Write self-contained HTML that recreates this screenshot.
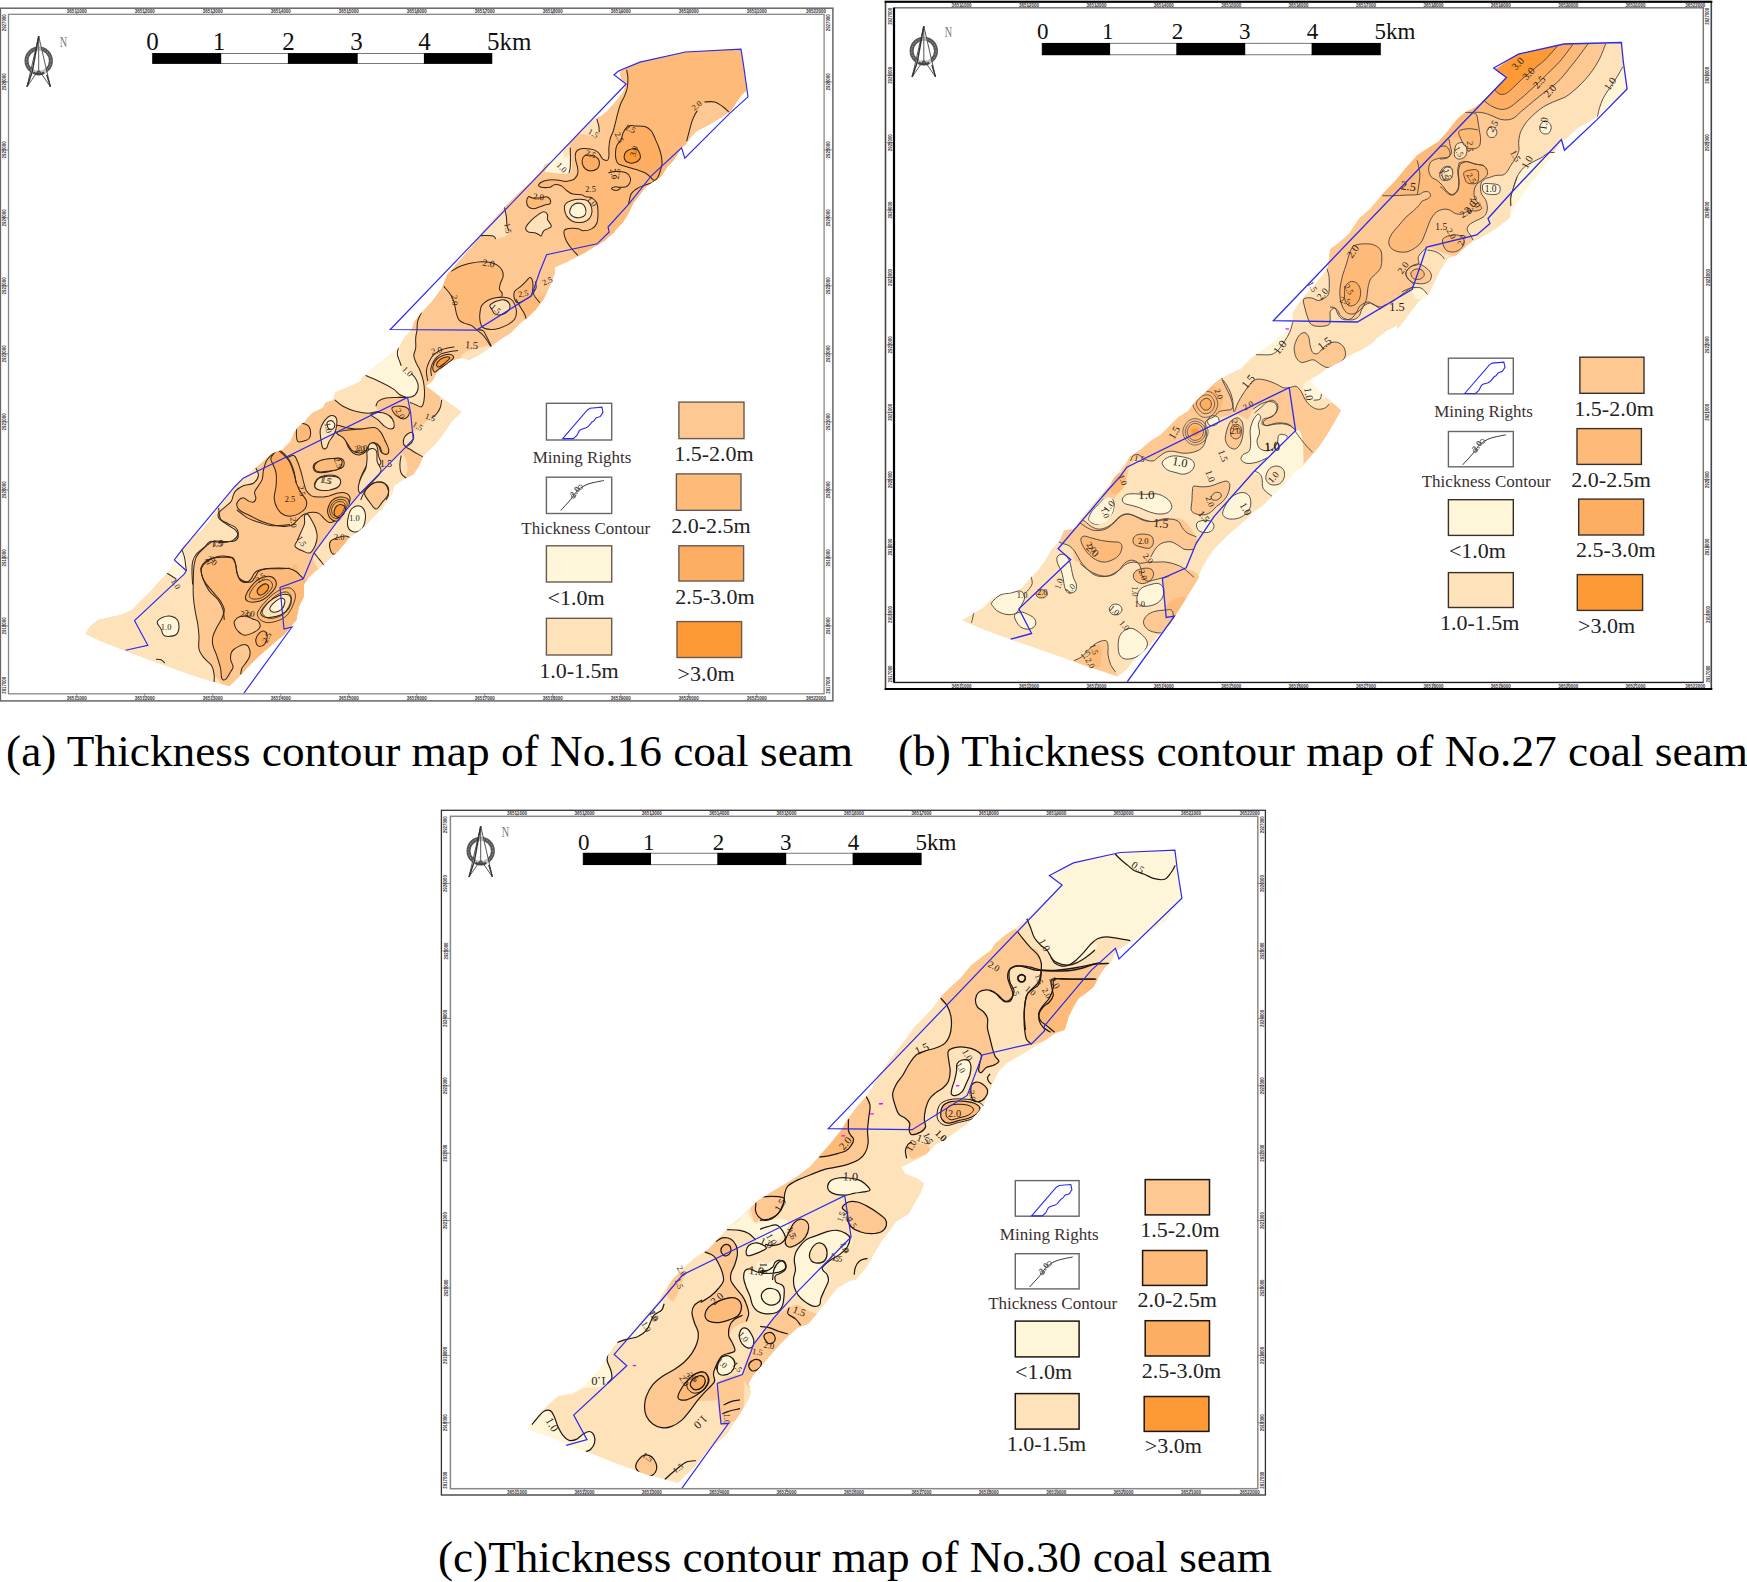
<!DOCTYPE html>
<html><head><meta charset="utf-8"><title>Thickness contour maps</title>
<style>
html,body{margin:0;padding:0;background:#fff;}
body{width:1747px;height:1582px;overflow:hidden;}
svg{display:block;font-family:"Liberation Serif",serif;}
.tk{fill:#3a3340;font-weight:bold;font-family:"Liberation Sans",sans-serif;}
</style></head><body>
<svg width="1747" height="1582" viewBox="0 0 1747 1582">
<rect width="1747" height="1582" fill="#fff"/>
<defs>
<clipPath id="ca"><rect x="9.2" y="15" width="814.1999999999999" height="678.1"/></clipPath>
<clipPath id="cb"><rect x="895.2" y="8.6" width="807.3" height="673.1999999999999"/></clipPath>
<clipPath id="cc"><rect x="451.2" y="817.1" width="805.8" height="670.9"/></clipPath>
</defs>
<rect x="0.4" y="8.2" width="832.5" height="692.7" fill="#fff" stroke="#666" stroke-width="1.5"/>
<rect x="8.5" y="14.3" width="815.6" height="679.5" fill="#fff" stroke="#888" stroke-width="1.3"/>
<path d="M76.8 11.2 V14.3 M76.8 693.8 V697.9" stroke="#777" stroke-width="0.8"/>
<text x="76.8" y="13.1" font-size="5.2" text-anchor="middle" class="tk" textLength="20" lengthAdjust="spacingAndGlyphs">36511000</text>
<text x="76.8" y="699.6" font-size="5.2" text-anchor="middle" class="tk" textLength="20" lengthAdjust="spacingAndGlyphs">36511000</text>
<path d="M144.8 11.2 V14.3 M144.8 693.8 V697.9" stroke="#777" stroke-width="0.8"/>
<text x="144.8" y="13.1" font-size="5.2" text-anchor="middle" class="tk" textLength="20" lengthAdjust="spacingAndGlyphs">36512000</text>
<text x="144.8" y="699.6" font-size="5.2" text-anchor="middle" class="tk" textLength="20" lengthAdjust="spacingAndGlyphs">36512000</text>
<path d="M212.8 11.2 V14.3 M212.8 693.8 V697.9" stroke="#777" stroke-width="0.8"/>
<text x="212.8" y="13.1" font-size="5.2" text-anchor="middle" class="tk" textLength="20" lengthAdjust="spacingAndGlyphs">36513000</text>
<text x="212.8" y="699.6" font-size="5.2" text-anchor="middle" class="tk" textLength="20" lengthAdjust="spacingAndGlyphs">36513000</text>
<path d="M280.8 11.2 V14.3 M280.8 693.8 V697.9" stroke="#777" stroke-width="0.8"/>
<text x="280.8" y="13.1" font-size="5.2" text-anchor="middle" class="tk" textLength="20" lengthAdjust="spacingAndGlyphs">36514000</text>
<text x="280.8" y="699.6" font-size="5.2" text-anchor="middle" class="tk" textLength="20" lengthAdjust="spacingAndGlyphs">36514000</text>
<path d="M348.8 11.2 V14.3 M348.8 693.8 V697.9" stroke="#777" stroke-width="0.8"/>
<text x="348.8" y="13.1" font-size="5.2" text-anchor="middle" class="tk" textLength="20" lengthAdjust="spacingAndGlyphs">36515000</text>
<text x="348.8" y="699.6" font-size="5.2" text-anchor="middle" class="tk" textLength="20" lengthAdjust="spacingAndGlyphs">36515000</text>
<path d="M416.8 11.2 V14.3 M416.8 693.8 V697.9" stroke="#777" stroke-width="0.8"/>
<text x="416.8" y="13.1" font-size="5.2" text-anchor="middle" class="tk" textLength="20" lengthAdjust="spacingAndGlyphs">36516000</text>
<text x="416.8" y="699.6" font-size="5.2" text-anchor="middle" class="tk" textLength="20" lengthAdjust="spacingAndGlyphs">36516000</text>
<path d="M484.8 11.2 V14.3 M484.8 693.8 V697.9" stroke="#777" stroke-width="0.8"/>
<text x="484.8" y="13.1" font-size="5.2" text-anchor="middle" class="tk" textLength="20" lengthAdjust="spacingAndGlyphs">36517000</text>
<text x="484.8" y="699.6" font-size="5.2" text-anchor="middle" class="tk" textLength="20" lengthAdjust="spacingAndGlyphs">36517000</text>
<path d="M552.8 11.2 V14.3 M552.8 693.8 V697.9" stroke="#777" stroke-width="0.8"/>
<text x="552.8" y="13.1" font-size="5.2" text-anchor="middle" class="tk" textLength="20" lengthAdjust="spacingAndGlyphs">36518000</text>
<text x="552.8" y="699.6" font-size="5.2" text-anchor="middle" class="tk" textLength="20" lengthAdjust="spacingAndGlyphs">36518000</text>
<path d="M620.8 11.2 V14.3 M620.8 693.8 V697.9" stroke="#777" stroke-width="0.8"/>
<text x="620.8" y="13.1" font-size="5.2" text-anchor="middle" class="tk" textLength="20" lengthAdjust="spacingAndGlyphs">36519000</text>
<text x="620.8" y="699.6" font-size="5.2" text-anchor="middle" class="tk" textLength="20" lengthAdjust="spacingAndGlyphs">36519000</text>
<path d="M688.8 11.2 V14.3 M688.8 693.8 V697.9" stroke="#777" stroke-width="0.8"/>
<text x="688.8" y="13.1" font-size="5.2" text-anchor="middle" class="tk" textLength="20" lengthAdjust="spacingAndGlyphs">36520000</text>
<text x="688.8" y="699.6" font-size="5.2" text-anchor="middle" class="tk" textLength="20" lengthAdjust="spacingAndGlyphs">36520000</text>
<path d="M756.8 11.2 V14.3 M756.8 693.8 V697.9" stroke="#777" stroke-width="0.8"/>
<text x="756.8" y="13.1" font-size="5.2" text-anchor="middle" class="tk" textLength="20" lengthAdjust="spacingAndGlyphs">36521000</text>
<text x="756.8" y="699.6" font-size="5.2" text-anchor="middle" class="tk" textLength="20" lengthAdjust="spacingAndGlyphs">36521000</text>
<text x="816.1" y="13.1" font-size="5.2" text-anchor="middle" class="tk" textLength="20" lengthAdjust="spacingAndGlyphs">36522000</text>
<text x="816.1" y="699.6" font-size="5.2" text-anchor="middle" class="tk" textLength="20" lengthAdjust="spacingAndGlyphs">36522000</text>
<text x="6.5" y="22.8" font-size="5.2" text-anchor="middle" class="tk" textLength="17" lengthAdjust="spacingAndGlyphs" transform="rotate(-90 6.5 22.8)">2927000</text>
<text x="830.3" y="22.8" font-size="5.2" text-anchor="middle" class="tk" textLength="17" lengthAdjust="spacingAndGlyphs" transform="rotate(-90 830.3 22.8)">2927000</text>
<path d="M1.4 81.9 H8.5 M824.1 81.9 H831.9" stroke="#777" stroke-width="0.8"/>
<text x="6.5" y="81.9" font-size="5.2" text-anchor="middle" class="tk" textLength="17" lengthAdjust="spacingAndGlyphs" transform="rotate(-90 6.5 81.9)">2926000</text>
<text x="830.3" y="81.9" font-size="5.2" text-anchor="middle" class="tk" textLength="17" lengthAdjust="spacingAndGlyphs" transform="rotate(-90 830.3 81.9)">2926000</text>
<path d="M1.4 149.9 H8.5 M824.1 149.9 H831.9" stroke="#777" stroke-width="0.8"/>
<text x="6.5" y="149.9" font-size="5.2" text-anchor="middle" class="tk" textLength="17" lengthAdjust="spacingAndGlyphs" transform="rotate(-90 6.5 149.9)">2925000</text>
<text x="830.3" y="149.9" font-size="5.2" text-anchor="middle" class="tk" textLength="17" lengthAdjust="spacingAndGlyphs" transform="rotate(-90 830.3 149.9)">2925000</text>
<path d="M1.4 217.9 H8.5 M824.1 217.9 H831.9" stroke="#777" stroke-width="0.8"/>
<text x="6.5" y="217.9" font-size="5.2" text-anchor="middle" class="tk" textLength="17" lengthAdjust="spacingAndGlyphs" transform="rotate(-90 6.5 217.9)">2924000</text>
<text x="830.3" y="217.9" font-size="5.2" text-anchor="middle" class="tk" textLength="17" lengthAdjust="spacingAndGlyphs" transform="rotate(-90 830.3 217.9)">2924000</text>
<path d="M1.4 285.9 H8.5 M824.1 285.9 H831.9" stroke="#777" stroke-width="0.8"/>
<text x="6.5" y="285.9" font-size="5.2" text-anchor="middle" class="tk" textLength="17" lengthAdjust="spacingAndGlyphs" transform="rotate(-90 6.5 285.9)">2923000</text>
<text x="830.3" y="285.9" font-size="5.2" text-anchor="middle" class="tk" textLength="17" lengthAdjust="spacingAndGlyphs" transform="rotate(-90 830.3 285.9)">2923000</text>
<path d="M1.4 353.9 H8.5 M824.1 353.9 H831.9" stroke="#777" stroke-width="0.8"/>
<text x="6.5" y="353.9" font-size="5.2" text-anchor="middle" class="tk" textLength="17" lengthAdjust="spacingAndGlyphs" transform="rotate(-90 6.5 353.9)">2922000</text>
<text x="830.3" y="353.9" font-size="5.2" text-anchor="middle" class="tk" textLength="17" lengthAdjust="spacingAndGlyphs" transform="rotate(-90 830.3 353.9)">2922000</text>
<path d="M1.4 421.9 H8.5 M824.1 421.9 H831.9" stroke="#777" stroke-width="0.8"/>
<text x="6.5" y="421.9" font-size="5.2" text-anchor="middle" class="tk" textLength="17" lengthAdjust="spacingAndGlyphs" transform="rotate(-90 6.5 421.9)">2921000</text>
<text x="830.3" y="421.9" font-size="5.2" text-anchor="middle" class="tk" textLength="17" lengthAdjust="spacingAndGlyphs" transform="rotate(-90 830.3 421.9)">2921000</text>
<path d="M1.4 489.9 H8.5 M824.1 489.9 H831.9" stroke="#777" stroke-width="0.8"/>
<text x="6.5" y="489.9" font-size="5.2" text-anchor="middle" class="tk" textLength="17" lengthAdjust="spacingAndGlyphs" transform="rotate(-90 6.5 489.9)">2920000</text>
<text x="830.3" y="489.9" font-size="5.2" text-anchor="middle" class="tk" textLength="17" lengthAdjust="spacingAndGlyphs" transform="rotate(-90 830.3 489.9)">2920000</text>
<path d="M1.4 557.9 H8.5 M824.1 557.9 H831.9" stroke="#777" stroke-width="0.8"/>
<text x="6.5" y="557.9" font-size="5.2" text-anchor="middle" class="tk" textLength="17" lengthAdjust="spacingAndGlyphs" transform="rotate(-90 6.5 557.9)">2919000</text>
<text x="830.3" y="557.9" font-size="5.2" text-anchor="middle" class="tk" textLength="17" lengthAdjust="spacingAndGlyphs" transform="rotate(-90 830.3 557.9)">2919000</text>
<path d="M1.4 625.9 H8.5 M824.1 625.9 H831.9" stroke="#777" stroke-width="0.8"/>
<text x="6.5" y="625.9" font-size="5.2" text-anchor="middle" class="tk" textLength="17" lengthAdjust="spacingAndGlyphs" transform="rotate(-90 6.5 625.9)">2918000</text>
<text x="830.3" y="625.9" font-size="5.2" text-anchor="middle" class="tk" textLength="17" lengthAdjust="spacingAndGlyphs" transform="rotate(-90 830.3 625.9)">2918000</text>
<text x="6.5" y="685.3" font-size="5.2" text-anchor="middle" class="tk" textLength="17" lengthAdjust="spacingAndGlyphs" transform="rotate(-90 6.5 685.3)">2917000</text>
<text x="830.3" y="685.3" font-size="5.2" text-anchor="middle" class="tk" textLength="17" lengthAdjust="spacingAndGlyphs" transform="rotate(-90 830.3 685.3)">2917000</text>
<g fill="none" stroke="#333">
<circle cx="38.7" cy="60.8" r="12.2" stroke-width="4" stroke="#555"/>
<circle cx="38.7" cy="60.8" r="12.2" stroke-width="1.2" stroke="#888" stroke-dasharray="1.5 1.5"/>
<path d="M38.7 36.1 L50.4 86.8 L38.7 69.8 L27 86.8 Z" stroke-width="0.9" stroke="#444" fill="#fff" fill-opacity="0.6"/>
<path d="M38.7 36.1 V69.8" stroke-width="1" stroke="#555"/>
<path d="M27 86.8 L32.2 71.8 L38.7 36.1" stroke-width="1.5" stroke="#333"/>
<path d="M50.4 86.8 L46.7 74.8" stroke-width="1.3" stroke="#333"/>
<path d="M33.2 72.8 Q38.7 75.8 44.2 72.8" stroke-width="2.4" stroke="#444"/>
</g>
<text x="59.7" y="46.8" font-size="15" fill="#777" textLength="7.4" lengthAdjust="spacingAndGlyphs">N</text>
<rect x="152.4" y="53.4" width="339.6" height="10.1" fill="#fff" stroke="#555" stroke-width="0.8"/>
<rect x="152.4" y="53.1" width="68.8" height="10.7" fill="#000"/>
<rect x="287.9" y="53.1" width="69.8" height="10.7" fill="#000"/>
<rect x="423.9" y="53.1" width="68.1" height="10.7" fill="#000"/>
<text x="152.5" y="49.5" font-size="25" text-anchor="middle" fill="#111">0</text>
<text x="219" y="49.5" font-size="25" text-anchor="middle" fill="#111">1</text>
<text x="288.5" y="49.5" font-size="25" text-anchor="middle" fill="#111">2</text>
<text x="356.5" y="49.5" font-size="25" text-anchor="middle" fill="#111">3</text>
<text x="424.5" y="49.5" font-size="25" text-anchor="middle" fill="#111">4</text>
<text x="487" y="49.5" font-size="25" fill="#111">5km</text>
<rect x="885.5" y="1.7" width="825.8" height="687.2" fill="#fff" stroke="#444" stroke-width="1.6"/>
<rect x="894" y="7.8" width="809.3" height="674.7" fill="#fff" stroke="#777" stroke-width="1.5"/>
<path d="M961.6 4.7 V7.8 M961.6 682.5 V685.9" stroke="#777" stroke-width="0.8"/>
<text x="961.6" y="6.6" font-size="5.2" text-anchor="middle" class="tk" textLength="20" lengthAdjust="spacingAndGlyphs">36511000</text>
<text x="961.6" y="687.6" font-size="5.2" text-anchor="middle" class="tk" textLength="20" lengthAdjust="spacingAndGlyphs">36511000</text>
<path d="M1029 4.7 V7.8 M1029 682.5 V685.9" stroke="#777" stroke-width="0.8"/>
<text x="1029" y="6.6" font-size="5.2" text-anchor="middle" class="tk" textLength="20" lengthAdjust="spacingAndGlyphs">36512000</text>
<text x="1029" y="687.6" font-size="5.2" text-anchor="middle" class="tk" textLength="20" lengthAdjust="spacingAndGlyphs">36512000</text>
<path d="M1096.4 4.7 V7.8 M1096.4 682.5 V685.9" stroke="#777" stroke-width="0.8"/>
<text x="1096.4" y="6.6" font-size="5.2" text-anchor="middle" class="tk" textLength="20" lengthAdjust="spacingAndGlyphs">36513000</text>
<text x="1096.4" y="687.6" font-size="5.2" text-anchor="middle" class="tk" textLength="20" lengthAdjust="spacingAndGlyphs">36513000</text>
<path d="M1163.8 4.7 V7.8 M1163.8 682.5 V685.9" stroke="#777" stroke-width="0.8"/>
<text x="1163.8" y="6.6" font-size="5.2" text-anchor="middle" class="tk" textLength="20" lengthAdjust="spacingAndGlyphs">36514000</text>
<text x="1163.8" y="687.6" font-size="5.2" text-anchor="middle" class="tk" textLength="20" lengthAdjust="spacingAndGlyphs">36514000</text>
<path d="M1231.2 4.7 V7.8 M1231.2 682.5 V685.9" stroke="#777" stroke-width="0.8"/>
<text x="1231.2" y="6.6" font-size="5.2" text-anchor="middle" class="tk" textLength="20" lengthAdjust="spacingAndGlyphs">36515000</text>
<text x="1231.2" y="687.6" font-size="5.2" text-anchor="middle" class="tk" textLength="20" lengthAdjust="spacingAndGlyphs">36515000</text>
<path d="M1298.6 4.7 V7.8 M1298.6 682.5 V685.9" stroke="#777" stroke-width="0.8"/>
<text x="1298.6" y="6.6" font-size="5.2" text-anchor="middle" class="tk" textLength="20" lengthAdjust="spacingAndGlyphs">36516000</text>
<text x="1298.6" y="687.6" font-size="5.2" text-anchor="middle" class="tk" textLength="20" lengthAdjust="spacingAndGlyphs">36516000</text>
<path d="M1366 4.7 V7.8 M1366 682.5 V685.9" stroke="#777" stroke-width="0.8"/>
<text x="1366" y="6.6" font-size="5.2" text-anchor="middle" class="tk" textLength="20" lengthAdjust="spacingAndGlyphs">36517000</text>
<text x="1366" y="687.6" font-size="5.2" text-anchor="middle" class="tk" textLength="20" lengthAdjust="spacingAndGlyphs">36517000</text>
<path d="M1433.4 4.7 V7.8 M1433.4 682.5 V685.9" stroke="#777" stroke-width="0.8"/>
<text x="1433.4" y="6.6" font-size="5.2" text-anchor="middle" class="tk" textLength="20" lengthAdjust="spacingAndGlyphs">36518000</text>
<text x="1433.4" y="687.6" font-size="5.2" text-anchor="middle" class="tk" textLength="20" lengthAdjust="spacingAndGlyphs">36518000</text>
<path d="M1500.8 4.7 V7.8 M1500.8 682.5 V685.9" stroke="#777" stroke-width="0.8"/>
<text x="1500.8" y="6.6" font-size="5.2" text-anchor="middle" class="tk" textLength="20" lengthAdjust="spacingAndGlyphs">36519000</text>
<text x="1500.8" y="687.6" font-size="5.2" text-anchor="middle" class="tk" textLength="20" lengthAdjust="spacingAndGlyphs">36519000</text>
<path d="M1568.2 4.7 V7.8 M1568.2 682.5 V685.9" stroke="#777" stroke-width="0.8"/>
<text x="1568.2" y="6.6" font-size="5.2" text-anchor="middle" class="tk" textLength="20" lengthAdjust="spacingAndGlyphs">36520000</text>
<text x="1568.2" y="687.6" font-size="5.2" text-anchor="middle" class="tk" textLength="20" lengthAdjust="spacingAndGlyphs">36520000</text>
<path d="M1635.6 4.7 V7.8 M1635.6 682.5 V685.9" stroke="#777" stroke-width="0.8"/>
<text x="1635.6" y="6.6" font-size="5.2" text-anchor="middle" class="tk" textLength="20" lengthAdjust="spacingAndGlyphs">36521000</text>
<text x="1635.6" y="687.6" font-size="5.2" text-anchor="middle" class="tk" textLength="20" lengthAdjust="spacingAndGlyphs">36521000</text>
<text x="1695.3" y="6.6" font-size="5.2" text-anchor="middle" class="tk" textLength="20" lengthAdjust="spacingAndGlyphs">36522000</text>
<text x="1695.3" y="687.6" font-size="5.2" text-anchor="middle" class="tk" textLength="20" lengthAdjust="spacingAndGlyphs">36522000</text>
<text x="891.6" y="16.3" font-size="5.2" text-anchor="middle" class="tk" textLength="17" lengthAdjust="spacingAndGlyphs" transform="rotate(-90 891.6 16.3)">2927000</text>
<text x="1709.5" y="16.3" font-size="5.2" text-anchor="middle" class="tk" textLength="17" lengthAdjust="spacingAndGlyphs" transform="rotate(-90 1709.5 16.3)">2927000</text>
<path d="M886.5 75.3 H894 M1703.3 75.3 H1710.3" stroke="#777" stroke-width="0.8"/>
<text x="891.6" y="75.3" font-size="5.2" text-anchor="middle" class="tk" textLength="17" lengthAdjust="spacingAndGlyphs" transform="rotate(-90 891.6 75.3)">2926000</text>
<text x="1709.5" y="75.3" font-size="5.2" text-anchor="middle" class="tk" textLength="17" lengthAdjust="spacingAndGlyphs" transform="rotate(-90 1709.5 75.3)">2926000</text>
<path d="M886.5 142.7 H894 M1703.3 142.7 H1710.3" stroke="#777" stroke-width="0.8"/>
<text x="891.6" y="142.7" font-size="5.2" text-anchor="middle" class="tk" textLength="17" lengthAdjust="spacingAndGlyphs" transform="rotate(-90 891.6 142.7)">2925000</text>
<text x="1709.5" y="142.7" font-size="5.2" text-anchor="middle" class="tk" textLength="17" lengthAdjust="spacingAndGlyphs" transform="rotate(-90 1709.5 142.7)">2925000</text>
<path d="M886.5 210.1 H894 M1703.3 210.1 H1710.3" stroke="#777" stroke-width="0.8"/>
<text x="891.6" y="210.1" font-size="5.2" text-anchor="middle" class="tk" textLength="17" lengthAdjust="spacingAndGlyphs" transform="rotate(-90 891.6 210.1)">2924000</text>
<text x="1709.5" y="210.1" font-size="5.2" text-anchor="middle" class="tk" textLength="17" lengthAdjust="spacingAndGlyphs" transform="rotate(-90 1709.5 210.1)">2924000</text>
<path d="M886.5 277.5 H894 M1703.3 277.5 H1710.3" stroke="#777" stroke-width="0.8"/>
<text x="891.6" y="277.5" font-size="5.2" text-anchor="middle" class="tk" textLength="17" lengthAdjust="spacingAndGlyphs" transform="rotate(-90 891.6 277.5)">2923000</text>
<text x="1709.5" y="277.5" font-size="5.2" text-anchor="middle" class="tk" textLength="17" lengthAdjust="spacingAndGlyphs" transform="rotate(-90 1709.5 277.5)">2923000</text>
<path d="M886.5 344.9 H894 M1703.3 344.9 H1710.3" stroke="#777" stroke-width="0.8"/>
<text x="891.6" y="344.9" font-size="5.2" text-anchor="middle" class="tk" textLength="17" lengthAdjust="spacingAndGlyphs" transform="rotate(-90 891.6 344.9)">2922000</text>
<text x="1709.5" y="344.9" font-size="5.2" text-anchor="middle" class="tk" textLength="17" lengthAdjust="spacingAndGlyphs" transform="rotate(-90 1709.5 344.9)">2922000</text>
<path d="M886.5 412.3 H894 M1703.3 412.3 H1710.3" stroke="#777" stroke-width="0.8"/>
<text x="891.6" y="412.3" font-size="5.2" text-anchor="middle" class="tk" textLength="17" lengthAdjust="spacingAndGlyphs" transform="rotate(-90 891.6 412.3)">2921000</text>
<text x="1709.5" y="412.3" font-size="5.2" text-anchor="middle" class="tk" textLength="17" lengthAdjust="spacingAndGlyphs" transform="rotate(-90 1709.5 412.3)">2921000</text>
<path d="M886.5 479.7 H894 M1703.3 479.7 H1710.3" stroke="#777" stroke-width="0.8"/>
<text x="891.6" y="479.7" font-size="5.2" text-anchor="middle" class="tk" textLength="17" lengthAdjust="spacingAndGlyphs" transform="rotate(-90 891.6 479.7)">2920000</text>
<text x="1709.5" y="479.7" font-size="5.2" text-anchor="middle" class="tk" textLength="17" lengthAdjust="spacingAndGlyphs" transform="rotate(-90 1709.5 479.7)">2920000</text>
<path d="M886.5 547.1 H894 M1703.3 547.1 H1710.3" stroke="#777" stroke-width="0.8"/>
<text x="891.6" y="547.1" font-size="5.2" text-anchor="middle" class="tk" textLength="17" lengthAdjust="spacingAndGlyphs" transform="rotate(-90 891.6 547.1)">2919000</text>
<text x="1709.5" y="547.1" font-size="5.2" text-anchor="middle" class="tk" textLength="17" lengthAdjust="spacingAndGlyphs" transform="rotate(-90 1709.5 547.1)">2919000</text>
<path d="M886.5 614.5 H894 M1703.3 614.5 H1710.3" stroke="#777" stroke-width="0.8"/>
<text x="891.6" y="614.5" font-size="5.2" text-anchor="middle" class="tk" textLength="17" lengthAdjust="spacingAndGlyphs" transform="rotate(-90 891.6 614.5)">2918000</text>
<text x="1709.5" y="614.5" font-size="5.2" text-anchor="middle" class="tk" textLength="17" lengthAdjust="spacingAndGlyphs" transform="rotate(-90 1709.5 614.5)">2918000</text>
<text x="891.6" y="674" font-size="5.2" text-anchor="middle" class="tk" textLength="17" lengthAdjust="spacingAndGlyphs" transform="rotate(-90 891.6 674)">2917000</text>
<text x="1709.5" y="674" font-size="5.2" text-anchor="middle" class="tk" textLength="17" lengthAdjust="spacingAndGlyphs" transform="rotate(-90 1709.5 674)">2917000</text>
<path d="M894 7.8 V682.5" stroke="#000" stroke-width="2.2"/>
<path d="M894 682.4 H1703.3" stroke="#111" stroke-width="1"/>
<path d="M884.7 1.7 H1712.3 M884.7 688.9 H1712.3" stroke="#000" stroke-width="2"/>
<g fill="none" stroke="#333">
<circle cx="923.8" cy="50.9" r="12.2" stroke-width="4" stroke="#555"/>
<circle cx="923.8" cy="50.9" r="12.2" stroke-width="1.2" stroke="#888" stroke-dasharray="1.5 1.5"/>
<path d="M923.8 26.2 L935.5 76.9 L923.8 59.9 L912.1 76.9 Z" stroke-width="0.9" stroke="#444" fill="#fff" fill-opacity="0.6"/>
<path d="M923.8 26.2 V59.9" stroke-width="1" stroke="#555"/>
<path d="M912.1 76.9 L917.3 61.9 L923.8 26.2" stroke-width="1.5" stroke="#333"/>
<path d="M935.5 76.9 L931.8 64.9" stroke-width="1.3" stroke="#333"/>
<path d="M918.3 62.9 Q923.8 65.9 929.3 62.9" stroke-width="2.4" stroke="#444"/>
</g>
<text x="944.8" y="36.9" font-size="15" fill="#777" textLength="7.4" lengthAdjust="spacingAndGlyphs">N</text>
<rect x="1042.1" y="43.3" width="338.5" height="11.5" fill="#fff" stroke="#555" stroke-width="0.8"/>
<rect x="1042.1" y="43" width="68" height="12.1" fill="#000"/>
<rect x="1176.3" y="43" width="68.9" height="12.1" fill="#000"/>
<rect x="1311.6" y="43" width="69" height="12.1" fill="#000"/>
<text x="1042.8" y="38.5" font-size="23" text-anchor="middle" fill="#111">0</text>
<text x="1107.7" y="38.5" font-size="23" text-anchor="middle" fill="#111">1</text>
<text x="1177.5" y="38.5" font-size="23" text-anchor="middle" fill="#111">2</text>
<text x="1244.8" y="38.5" font-size="23" text-anchor="middle" fill="#111">3</text>
<text x="1312.6" y="38.5" font-size="23" text-anchor="middle" fill="#111">4</text>
<text x="1374.6" y="38.5" font-size="23" fill="#111">5km</text>
<rect x="441.4" y="810.3" width="824" height="684.7" fill="#fff" stroke="#333" stroke-width="1.3"/>
<rect x="450.4" y="816.3" width="807.4" height="672.4" fill="#fff" stroke="#888" stroke-width="1.5"/>
<path d="M517 813.3 V816.3 M517 1488.7 V1492" stroke="#777" stroke-width="0.8"/>
<text x="517" y="815.2" font-size="5.2" text-anchor="middle" class="tk" textLength="20" lengthAdjust="spacingAndGlyphs">36511000</text>
<text x="517" y="1493.7" font-size="5.2" text-anchor="middle" class="tk" textLength="20" lengthAdjust="spacingAndGlyphs">36511000</text>
<path d="M584.4 813.3 V816.3 M584.4 1488.7 V1492" stroke="#777" stroke-width="0.8"/>
<text x="584.4" y="815.2" font-size="5.2" text-anchor="middle" class="tk" textLength="20" lengthAdjust="spacingAndGlyphs">36512000</text>
<text x="584.4" y="1493.7" font-size="5.2" text-anchor="middle" class="tk" textLength="20" lengthAdjust="spacingAndGlyphs">36512000</text>
<path d="M651.8 813.3 V816.3 M651.8 1488.7 V1492" stroke="#777" stroke-width="0.8"/>
<text x="651.8" y="815.2" font-size="5.2" text-anchor="middle" class="tk" textLength="20" lengthAdjust="spacingAndGlyphs">36513000</text>
<text x="651.8" y="1493.7" font-size="5.2" text-anchor="middle" class="tk" textLength="20" lengthAdjust="spacingAndGlyphs">36513000</text>
<path d="M719.2 813.3 V816.3 M719.2 1488.7 V1492" stroke="#777" stroke-width="0.8"/>
<text x="719.2" y="815.2" font-size="5.2" text-anchor="middle" class="tk" textLength="20" lengthAdjust="spacingAndGlyphs">36514000</text>
<text x="719.2" y="1493.7" font-size="5.2" text-anchor="middle" class="tk" textLength="20" lengthAdjust="spacingAndGlyphs">36514000</text>
<path d="M786.6 813.3 V816.3 M786.6 1488.7 V1492" stroke="#777" stroke-width="0.8"/>
<text x="786.6" y="815.2" font-size="5.2" text-anchor="middle" class="tk" textLength="20" lengthAdjust="spacingAndGlyphs">36515000</text>
<text x="786.6" y="1493.7" font-size="5.2" text-anchor="middle" class="tk" textLength="20" lengthAdjust="spacingAndGlyphs">36515000</text>
<path d="M854 813.3 V816.3 M854 1488.7 V1492" stroke="#777" stroke-width="0.8"/>
<text x="854" y="815.2" font-size="5.2" text-anchor="middle" class="tk" textLength="20" lengthAdjust="spacingAndGlyphs">36516000</text>
<text x="854" y="1493.7" font-size="5.2" text-anchor="middle" class="tk" textLength="20" lengthAdjust="spacingAndGlyphs">36516000</text>
<path d="M921.4 813.3 V816.3 M921.4 1488.7 V1492" stroke="#777" stroke-width="0.8"/>
<text x="921.4" y="815.2" font-size="5.2" text-anchor="middle" class="tk" textLength="20" lengthAdjust="spacingAndGlyphs">36517000</text>
<text x="921.4" y="1493.7" font-size="5.2" text-anchor="middle" class="tk" textLength="20" lengthAdjust="spacingAndGlyphs">36517000</text>
<path d="M988.8 813.3 V816.3 M988.8 1488.7 V1492" stroke="#777" stroke-width="0.8"/>
<text x="988.8" y="815.2" font-size="5.2" text-anchor="middle" class="tk" textLength="20" lengthAdjust="spacingAndGlyphs">36518000</text>
<text x="988.8" y="1493.7" font-size="5.2" text-anchor="middle" class="tk" textLength="20" lengthAdjust="spacingAndGlyphs">36518000</text>
<path d="M1056.2 813.3 V816.3 M1056.2 1488.7 V1492" stroke="#777" stroke-width="0.8"/>
<text x="1056.2" y="815.2" font-size="5.2" text-anchor="middle" class="tk" textLength="20" lengthAdjust="spacingAndGlyphs">36519000</text>
<text x="1056.2" y="1493.7" font-size="5.2" text-anchor="middle" class="tk" textLength="20" lengthAdjust="spacingAndGlyphs">36519000</text>
<path d="M1123.6 813.3 V816.3 M1123.6 1488.7 V1492" stroke="#777" stroke-width="0.8"/>
<text x="1123.6" y="815.2" font-size="5.2" text-anchor="middle" class="tk" textLength="20" lengthAdjust="spacingAndGlyphs">36520000</text>
<text x="1123.6" y="1493.7" font-size="5.2" text-anchor="middle" class="tk" textLength="20" lengthAdjust="spacingAndGlyphs">36520000</text>
<path d="M1191 813.3 V816.3 M1191 1488.7 V1492" stroke="#777" stroke-width="0.8"/>
<text x="1191" y="815.2" font-size="5.2" text-anchor="middle" class="tk" textLength="20" lengthAdjust="spacingAndGlyphs">36521000</text>
<text x="1191" y="1493.7" font-size="5.2" text-anchor="middle" class="tk" textLength="20" lengthAdjust="spacingAndGlyphs">36521000</text>
<text x="1249.8" y="815.2" font-size="5.2" text-anchor="middle" class="tk" textLength="20" lengthAdjust="spacingAndGlyphs">36522000</text>
<text x="1249.8" y="1493.7" font-size="5.2" text-anchor="middle" class="tk" textLength="20" lengthAdjust="spacingAndGlyphs">36522000</text>
<text x="447.5" y="824.8" font-size="5.2" text-anchor="middle" class="tk" textLength="17" lengthAdjust="spacingAndGlyphs" transform="rotate(-90 447.5 824.8)">2927000</text>
<text x="1264" y="824.8" font-size="5.2" text-anchor="middle" class="tk" textLength="17" lengthAdjust="spacingAndGlyphs" transform="rotate(-90 1264 824.8)">2927000</text>
<path d="M442.4 883.6 H450.4 M1257.8 883.6 H1264.4" stroke="#777" stroke-width="0.8"/>
<text x="447.5" y="883.6" font-size="5.2" text-anchor="middle" class="tk" textLength="17" lengthAdjust="spacingAndGlyphs" transform="rotate(-90 447.5 883.6)">2926000</text>
<text x="1264" y="883.6" font-size="5.2" text-anchor="middle" class="tk" textLength="17" lengthAdjust="spacingAndGlyphs" transform="rotate(-90 1264 883.6)">2926000</text>
<path d="M442.4 951 H450.4 M1257.8 951 H1264.4" stroke="#777" stroke-width="0.8"/>
<text x="447.5" y="951" font-size="5.2" text-anchor="middle" class="tk" textLength="17" lengthAdjust="spacingAndGlyphs" transform="rotate(-90 447.5 951)">2925000</text>
<text x="1264" y="951" font-size="5.2" text-anchor="middle" class="tk" textLength="17" lengthAdjust="spacingAndGlyphs" transform="rotate(-90 1264 951)">2925000</text>
<path d="M442.4 1018.4 H450.4 M1257.8 1018.4 H1264.4" stroke="#777" stroke-width="0.8"/>
<text x="447.5" y="1018.4" font-size="5.2" text-anchor="middle" class="tk" textLength="17" lengthAdjust="spacingAndGlyphs" transform="rotate(-90 447.5 1018.4)">2924000</text>
<text x="1264" y="1018.4" font-size="5.2" text-anchor="middle" class="tk" textLength="17" lengthAdjust="spacingAndGlyphs" transform="rotate(-90 1264 1018.4)">2924000</text>
<path d="M442.4 1085.8 H450.4 M1257.8 1085.8 H1264.4" stroke="#777" stroke-width="0.8"/>
<text x="447.5" y="1085.8" font-size="5.2" text-anchor="middle" class="tk" textLength="17" lengthAdjust="spacingAndGlyphs" transform="rotate(-90 447.5 1085.8)">2923000</text>
<text x="1264" y="1085.8" font-size="5.2" text-anchor="middle" class="tk" textLength="17" lengthAdjust="spacingAndGlyphs" transform="rotate(-90 1264 1085.8)">2923000</text>
<path d="M442.4 1153.2 H450.4 M1257.8 1153.2 H1264.4" stroke="#777" stroke-width="0.8"/>
<text x="447.5" y="1153.2" font-size="5.2" text-anchor="middle" class="tk" textLength="17" lengthAdjust="spacingAndGlyphs" transform="rotate(-90 447.5 1153.2)">2922000</text>
<text x="1264" y="1153.2" font-size="5.2" text-anchor="middle" class="tk" textLength="17" lengthAdjust="spacingAndGlyphs" transform="rotate(-90 1264 1153.2)">2922000</text>
<path d="M442.4 1220.6 H450.4 M1257.8 1220.6 H1264.4" stroke="#777" stroke-width="0.8"/>
<text x="447.5" y="1220.6" font-size="5.2" text-anchor="middle" class="tk" textLength="17" lengthAdjust="spacingAndGlyphs" transform="rotate(-90 447.5 1220.6)">2921000</text>
<text x="1264" y="1220.6" font-size="5.2" text-anchor="middle" class="tk" textLength="17" lengthAdjust="spacingAndGlyphs" transform="rotate(-90 1264 1220.6)">2921000</text>
<path d="M442.4 1288 H450.4 M1257.8 1288 H1264.4" stroke="#777" stroke-width="0.8"/>
<text x="447.5" y="1288" font-size="5.2" text-anchor="middle" class="tk" textLength="17" lengthAdjust="spacingAndGlyphs" transform="rotate(-90 447.5 1288)">2920000</text>
<text x="1264" y="1288" font-size="5.2" text-anchor="middle" class="tk" textLength="17" lengthAdjust="spacingAndGlyphs" transform="rotate(-90 1264 1288)">2920000</text>
<path d="M442.4 1355.4 H450.4 M1257.8 1355.4 H1264.4" stroke="#777" stroke-width="0.8"/>
<text x="447.5" y="1355.4" font-size="5.2" text-anchor="middle" class="tk" textLength="17" lengthAdjust="spacingAndGlyphs" transform="rotate(-90 447.5 1355.4)">2919000</text>
<text x="1264" y="1355.4" font-size="5.2" text-anchor="middle" class="tk" textLength="17" lengthAdjust="spacingAndGlyphs" transform="rotate(-90 1264 1355.4)">2919000</text>
<path d="M442.4 1422.8 H450.4 M1257.8 1422.8 H1264.4" stroke="#777" stroke-width="0.8"/>
<text x="447.5" y="1422.8" font-size="5.2" text-anchor="middle" class="tk" textLength="17" lengthAdjust="spacingAndGlyphs" transform="rotate(-90 447.5 1422.8)">2918000</text>
<text x="1264" y="1422.8" font-size="5.2" text-anchor="middle" class="tk" textLength="17" lengthAdjust="spacingAndGlyphs" transform="rotate(-90 1264 1422.8)">2918000</text>
<text x="447.5" y="1480.2" font-size="5.2" text-anchor="middle" class="tk" textLength="17" lengthAdjust="spacingAndGlyphs" transform="rotate(-90 447.5 1480.2)">2917000</text>
<text x="1264" y="1480.2" font-size="5.2" text-anchor="middle" class="tk" textLength="17" lengthAdjust="spacingAndGlyphs" transform="rotate(-90 1264 1480.2)">2917000</text>
<g fill="none" stroke="#333">
<circle cx="480.7" cy="850.9" r="12.2" stroke-width="4" stroke="#555"/>
<circle cx="480.7" cy="850.9" r="12.2" stroke-width="1.2" stroke="#888" stroke-dasharray="1.5 1.5"/>
<path d="M480.7 826.2 L492.4 876.9 L480.7 859.9 L469 876.9 Z" stroke-width="0.9" stroke="#444" fill="#fff" fill-opacity="0.6"/>
<path d="M480.7 826.2 V859.9" stroke-width="1" stroke="#555"/>
<path d="M469 876.9 L474.2 861.9 L480.7 826.2" stroke-width="1.5" stroke="#333"/>
<path d="M492.4 876.9 L488.7 864.9" stroke-width="1.3" stroke="#333"/>
<path d="M475.2 862.9 Q480.7 865.9 486.2 862.9" stroke-width="2.4" stroke="#444"/>
</g>
<text x="501.7" y="836.9" font-size="15" fill="#777" textLength="7.4" lengthAdjust="spacingAndGlyphs">N</text>
<rect x="583.1" y="853.2" width="338.2" height="11.5" fill="#fff" stroke="#555" stroke-width="0.8"/>
<rect x="583.1" y="852.9" width="67.9" height="12.1" fill="#000"/>
<rect x="717.3" y="852.9" width="68.9" height="12.1" fill="#000"/>
<rect x="852.6" y="852.9" width="68.7" height="12.1" fill="#000"/>
<text x="583.8" y="849.5" font-size="23" text-anchor="middle" fill="#111">0</text>
<text x="648.7" y="849.5" font-size="23" text-anchor="middle" fill="#111">1</text>
<text x="718.5" y="849.5" font-size="23" text-anchor="middle" fill="#111">2</text>
<text x="785.8" y="849.5" font-size="23" text-anchor="middle" fill="#111">3</text>
<text x="853.6" y="849.5" font-size="23" text-anchor="middle" fill="#111">4</text>
<text x="915.5" y="849.5" font-size="23" fill="#111">5km</text>
<g clip-path="url(#ca)">
<clipPath id="stripA"><path d="M85.2 633.9 L90.2 626.3 L97.8 620 L107.9 617.5 L120.6 614.9 L132 609.9 L140.8 601 L150.9 590.9 L158.5 582.1 L166.1 574.5 L171.2 568.2 L174.9 559.3 L181.3 547.9 L191.4 540.3 L199 531.5 L199 533.8 L209.1 521.2 L217.9 508.5 L228 495.9 L234.4 488.3 L240.7 480.7 L250.8 471.8 L260.9 463 L271 454.1 L281.2 450.3 L290 441.5 L293.8 432.6 L298.9 426.3 L306.4 420 L305.1 420.1 L312.6 412.5 L322.8 407.5 L325.3 402.4 L332.9 399.9 L335.4 392.3 L350.6 386 L360.7 380.9 L362 377.1 L365.7 374.6 L375.9 365.7 L388.5 355.6 L398.6 348 L404.9 336.7 L411.3 330.3 L413.8 321.5 L421.4 312.6 L432.8 300 L442.5 286.4 L447.6 273.8 L456.4 263.7 L465.3 253.6 L474.1 243.4 L479.2 235.9 L481.7 232.1 L493.1 219.4 L505.7 205.5 L518.4 192.9 L531 181.5 L541.2 170.7 L545.1 163.9 L552.6 161.4 L560.2 152.5 L571.6 141.2 L581.7 129.8 L590.6 122.2 L596.9 117.1 L600.7 115.9 L607 110.8 L615.9 100.7 L622.2 93.1 L626 83.6 L620.9 79.2 L619 71 L639.9 62.1 L685.4 52 L741 49.1 L743.6 65.3 L746.7 90.6 L742.3 94.4 L738.5 99.4 L730.9 110.8 L722.1 117.1 L713.2 122.2 L704.4 127.2 L696.8 131 L691.7 136.1 L687.9 141.2 L685.4 144.9 L681.6 147.5 L677.8 153.8 L674 160.1 L667.7 166.4 L661.4 176.6 L653.8 181.6 L646.2 186.7 L641.2 193 L633.6 203.1 L628.5 213.2 L623.4 222.1 L615.9 229.7 L610.8 237.2 L614.5 232.1 L604.4 240.9 L591.7 248.5 L579.1 256.1 L566.4 262.4 L555.1 267.5 L555.1 273.8 L550 286.4 L543.7 299.1 L536.1 309.2 L528.5 316.8 L520.9 323.1 L510.8 333.2 L500.7 339.5 L490.6 347.1 L481.7 353.5 L469.1 360 L461.8 358.2 L451.7 360.7 L445.4 365.7 L436.6 373.3 L432.8 380.9 L426.4 386 L442.9 398.6 L461.8 411.9 L451.7 421.4 L441.6 436.6 L432.8 446.7 L423.9 455.5 L420.1 464.4 L413.8 474.5 L403.7 479.5 L393.6 485.9 L391 500 L392.4 485.7 L389.9 495.9 L382.3 508.5 L374.7 516.1 L365.9 524.9 L357 532.5 L349.4 537.6 L344.4 543.9 L338 551.5 L329.2 559.1 L322.9 565.4 L315.3 571.7 L307.7 579.3 L303.9 584.4 L303.9 597 L298.9 607.1 L296.3 620 L290 627.6 L284.9 633.9 L277.4 640.2 L267.2 649.1 L257.1 657.9 L247 668 L238.2 678.2 L229.3 686.4 L202.8 678.8 L177.5 669.9 L150.9 660.5 L125.6 651 L101.6 641.5Z"/></clipPath>
<g clip-path="url(#stripA)">
<path d="M85.2 633.9 L90.2 626.3 L97.8 620 L107.9 617.5 L120.6 614.9 L132 609.9 L140.8 601 L150.9 590.9 L158.5 582.1 L166.1 574.5 L171.2 568.2 L174.9 559.3 L181.3 547.9 L191.4 540.3 L199 531.5 L199 533.8 L209.1 521.2 L217.9 508.5 L228 495.9 L234.4 488.3 L240.7 480.7 L250.8 471.8 L260.9 463 L271 454.1 L281.2 450.3 L290 441.5 L293.8 432.6 L298.9 426.3 L306.4 420 L305.1 420.1 L312.6 412.5 L322.8 407.5 L325.3 402.4 L332.9 399.9 L335.4 392.3 L350.6 386 L360.7 380.9 L362 377.1 L365.7 374.6 L375.9 365.7 L388.5 355.6 L398.6 348 L404.9 336.7 L411.3 330.3 L413.8 321.5 L421.4 312.6 L432.8 300 L442.5 286.4 L447.6 273.8 L456.4 263.7 L465.3 253.6 L474.1 243.4 L479.2 235.9 L481.7 232.1 L493.1 219.4 L505.7 205.5 L518.4 192.9 L531 181.5 L541.2 170.7 L545.1 163.9 L552.6 161.4 L560.2 152.5 L571.6 141.2 L581.7 129.8 L590.6 122.2 L596.9 117.1 L600.7 115.9 L607 110.8 L615.9 100.7 L622.2 93.1 L626 83.6 L620.9 79.2 L619 71 L639.9 62.1 L685.4 52 L741 49.1 L743.6 65.3 L746.7 90.6 L742.3 94.4 L738.5 99.4 L730.9 110.8 L722.1 117.1 L713.2 122.2 L704.4 127.2 L696.8 131 L691.7 136.1 L687.9 141.2 L685.4 144.9 L681.6 147.5 L677.8 153.8 L674 160.1 L667.7 166.4 L661.4 176.6 L653.8 181.6 L646.2 186.7 L641.2 193 L633.6 203.1 L628.5 213.2 L623.4 222.1 L615.9 229.7 L610.8 237.2 L614.5 232.1 L604.4 240.9 L591.7 248.5 L579.1 256.1 L566.4 262.4 L555.1 267.5 L555.1 273.8 L550 286.4 L543.7 299.1 L536.1 309.2 L528.5 316.8 L520.9 323.1 L510.8 333.2 L500.7 339.5 L490.6 347.1 L481.7 353.5 L469.1 360 L461.8 358.2 L451.7 360.7 L445.4 365.7 L436.6 373.3 L432.8 380.9 L426.4 386 L442.9 398.6 L461.8 411.9 L451.7 421.4 L441.6 436.6 L432.8 446.7 L423.9 455.5 L420.1 464.4 L413.8 474.5 L403.7 479.5 L393.6 485.9 L391 500 L392.4 485.7 L389.9 495.9 L382.3 508.5 L374.7 516.1 L365.9 524.9 L357 532.5 L349.4 537.6 L344.4 543.9 L338 551.5 L329.2 559.1 L322.9 565.4 L315.3 571.7 L307.7 579.3 L303.9 584.4 L303.9 597 L298.9 607.1 L296.3 620 L290 627.6 L284.9 633.9 L277.4 640.2 L267.2 649.1 L257.1 657.9 L247 668 L238.2 678.2 L229.3 686.4 L202.8 678.8 L177.5 669.9 L150.9 660.5 L125.6 651 L101.6 641.5Z" fill="#FEC893"/>
<path d="M626.6 69.7 C626.8 75.3 627.8 75.8 627.9 77.9 C627.9 80.1 627.6 86 627.2 88 C626.9 90.1 625.5 93.9 624.7 95.6 C624 97.4 621.7 101.4 620.9 103.2 C620.2 105 619 108.7 618.4 110.8 C617.8 112.9 616.5 118.6 615.9 120.9 C615.3 123.3 614 129 613.3 131 C612.7 133.1 610.7 136.7 610.2 138.6 C609.7 140.5 609.1 145.4 608.9 147.5 C608.8 149.5 609.1 154.8 608.9 156.3 C608.8 157.8 608.2 159.7 607.6 160.1 C607.1 160.6 605.1 160.3 604.5 160.1 C603.8 159.9 602.5 159 602 158.2 C601.4 157.5 600.2 154.7 599.4 153.8 C598.7 152.9 596.7 151.2 595.6 150.6 C594.6 150.1 592.1 149.2 590.6 149 C589.1 148.7 584.5 148.4 583 148.5 C581.5 148.6 578.8 149.4 577.9 150 C577 150.6 575.7 152.6 575.4 153.8 C575.1 155 575.4 158.6 575.7 160.1 C575.9 161.6 577 165 577.3 166.4 C577.6 167.9 578.2 171.4 577.9 172.8 C577.7 174.1 576.1 176.9 575.4 177.8 C574.7 178.7 572.8 179.9 571.6 180.3 C570.4 180.8 566.8 181.4 565.3 181.4 C563.8 181.4 560.6 180.5 559 180.3 C557.3 180.2 553.1 179.6 551.4 179.7 C549.6 179.8 545.3 180.4 543.8 181 C542.3 181.6 538.9 183.9 538.6 184.7 C538.3 185.4 539.8 186.9 541.2 187.2 C542.5 187.5 548.5 187.5 550 187.2 C551.6 186.9 553.1 184.8 554.4 184.7 C555.8 184.5 560 185.3 561.4 185.9 C562.8 186.6 565.1 189.4 566.4 190.3 C567.8 191.3 571 193.6 572.8 194.1 C574.5 194.7 580.1 194.5 581.6 194.8 C583.1 195.1 584.2 196.3 585.4 196.7 C586.6 197 590.4 197.2 591.7 197.9 C593.1 198.7 596 201.2 596.8 203 C597.5 204.8 598 210.7 598 213.1 C598 215.5 597.5 221.4 596.8 223.2 C596 225.1 593.3 228 591.7 228.9 C590.1 229.8 584.4 230.8 582.9 230.8 C581.4 230.8 580.4 229.2 579.1 228.9 C577.8 228.6 573.1 228.2 571.5 228.3 C569.9 228.4 566.1 229 565.2 229.5 C564.3 230.1 563.8 232 563.9 233.3 C564.1 234.7 565.6 239.2 566.4 240.9 C567.3 242.7 570.2 246.8 571.5 248.5 C572.8 250.2 576.2 253.2 577.8 255.5 C579.4 257.7 578.1 262.3 585.4 267.5 C592.7 272.7 615 313.7 640 300 C665 286.3 781.3 185 800 150 C818.7 115 820.2 14 800 0 C779.8 -14 646.8 21.9 626.6 30 C606.4 38.1 626.5 64.1 626.6 69.7Z" fill="#FDBA78"/>
<path d="M697.4 110.8 C698.5 109.5 702.4 104.3 704.4 103.2 C706.4 102.2 712.3 101.5 714.5 102 C716.7 102.4 721.4 105.8 723.3 107 C725.3 108.3 730.2 110.2 730.9 112.7 C731.7 115.2 734.7 124.7 729.7 128.5 C724.6 132.3 692.9 143.5 687.9 144.9 C682.9 146.4 686.2 143.8 686.7 141.2 C687.1 138.5 690.8 125.3 691.7 122.2 C692.7 119.1 694.2 115.9 694.9 114.6 C695.6 113.3 696.3 112.1 697.4 110.8Z" fill="#FEC893"/>
<path d="M628.5 126 C630.6 124.9 633.4 125.9 636.1 126 C638.8 126.1 642.4 125.8 644.9 126.6 C647.5 127.5 649.6 129 651.3 131 C653 133 653.8 135.9 655.1 138.6 C656.3 141.4 657.8 144.5 658.9 147.5 C659.9 150.4 660.9 153.6 661.4 156.3 C661.9 159.1 662.2 161.4 662 163.9 C661.8 166.4 660.9 169.2 660.1 171.5 C659.4 173.8 658.6 176.3 657.6 177.8 C656.5 179.3 655.1 180.6 653.8 180.3 C652.5 180.1 651.5 177.8 650 176.6 C648.5 175.3 647.3 173.9 644.9 172.8 C642.6 171.6 639.3 170.7 636.1 169.6 C632.9 168.5 628.9 167.4 626 166.4 C623 165.5 620.1 165.2 618.4 163.9 C616.7 162.6 616.3 161 615.9 158.9 C615.4 156.7 615.4 153.6 615.6 151.3 C615.8 148.9 616.2 146.8 617.1 144.9 C618 143 619.9 142 620.9 139.9 C622 137.8 622.2 134.6 623.4 132.3 C624.7 130 626.4 127 628.5 126Z" fill="#FDAE62" stroke="#33261a" stroke-width="1.045"/>
<path d="M624.7 153.8 C625.3 152.2 626.6 150.8 628.5 150 C630.4 149.2 634.2 148.1 636.1 148.7 C638 149.4 639.3 152.1 639.9 153.8 C640.5 155.5 640.7 157.4 639.9 158.9 C639 160.3 636.7 162 634.8 162.6 C632.9 163.3 630.2 163.2 628.5 162.6 C626.8 162.1 625.3 161 624.7 159.5 C624.1 158 624.1 155.4 624.7 153.8Z" fill="#FD9A36" stroke="#33261a" stroke-width="1.045"/>
<path d="M583 157.6 C583.7 156.1 585.1 155.4 586.8 155.1 C588.5 154.7 591.2 155.1 593.1 155.7 C595 156.3 597.1 157.5 598.2 158.9 C599.2 160.2 599.6 162.2 599.4 163.9 C599.2 165.6 598.4 167.8 596.9 169 C595.4 170.1 592.5 170.9 590.6 170.9 C588.7 170.9 586.9 170.1 585.5 169 C584.1 167.8 582.8 165.8 582.4 163.9 C581.9 162 582.3 159.1 583 157.6Z" fill="#FDAE62" stroke="#33261a" stroke-width="1.045"/>
<path d="M581.7 127.2 C583.9 125.3 594.9 117.3 596.9 117.1 C598.9 117 598.5 124.2 598.8 126 C599.1 127.7 599.5 131 599.2 132.3 C598.8 133.6 596.6 136.9 595.6 137.4 C594.6 137.8 591.9 136.5 590.6 136.1 C589.2 135.7 585.7 134.5 584.3 134.2 C582.8 133.9 578.2 134.4 577.9 133.6 C577.6 132.8 579.5 129.2 581.7 127.2Z" fill="#FEE2BA"/>
<path d="M547.6 166.4 C549.7 163.9 560.1 152.4 562.8 150 C565.4 147.6 569.5 144.3 570.3 146.2 C571.2 148.1 570.5 163.3 570.3 166.4 C570.2 169.5 570 171.9 569.1 172.8 C568.2 173.6 564.7 174 562.8 174 C560.8 174 554.7 173 552.6 172.8 C550.6 172.5 545.6 172.9 545.1 172.1 C544.5 171.4 545.5 169 547.6 166.4Z" fill="#FFF6DA"/>
<path d="M562.8 150 C563.3 148.7 569.5 145.8 570.3 146.2 C571.2 146.7 570.9 152.5 570.3 153.8 C569.8 155.1 566.2 158 565.3 157.6 C564.4 157.1 562.2 151.3 562.8 150Z" fill="#FEE2BA"/>
<path d="M565.2 204.3 C566.3 202.8 569 201.3 571.5 200.5 C574 199.6 577.6 199.1 580.3 199.2 C583.1 199.3 586 199.6 587.9 201.1 C589.8 202.6 591.2 205.6 591.7 208 C592.3 210.5 591.9 213.5 591.1 215.6 C590.3 217.7 588.7 219.5 586.7 220.7 C584.7 221.8 581.6 222.6 579.1 222.6 C576.6 222.6 573.6 221.8 571.5 220.7 C569.4 219.5 567.6 217.5 566.4 215.6 C565.3 213.7 564.8 211.2 564.5 209.3 C564.3 207.4 564 205.7 565.2 204.3Z" fill="#FEE2BA" stroke="#33261a" stroke-width="1.045"/>
<path d="M570.2 209.3 C570.9 207.7 572.1 205.2 574 204.3 C575.9 203.3 579.7 203 581.6 203.6 C583.5 204.3 584.8 206.3 585.4 208 C586 209.8 586.2 212.8 585.4 214.4 C584.6 215.9 582.2 217.1 580.3 217.5 C578.4 218 575.7 217.5 574 216.9 C572.3 216.3 570.9 215 570.2 213.7 C569.6 212.5 569.6 210.9 570.2 209.3Z" fill="#FFF6DA" stroke="#33261a" stroke-width="1.045"/>
<path d="M528.5 196.7 C529.5 196 530.4 197.7 532.3 197.9 C534.2 198.1 537.6 198.1 539.9 197.9 C542.2 197.7 544.5 196.5 546.2 196.7 C547.9 196.9 549.4 198 550 199.2 C550.6 200.4 550.8 202.7 550 203.6 C549.2 204.6 546.6 204.4 544.9 204.9 C543.3 205.4 541.8 206.1 539.9 206.8 C538 207.4 535.5 208.7 533.6 208.7 C531.7 208.7 529.7 207.9 528.5 206.8 C527.3 205.6 526.6 203.4 526.6 201.7 C526.6 200 527.6 197.3 528.5 196.7Z" fill="#FDBA78" stroke="#33261a" stroke-width="1.045"/>
<path d="M526 227 C526.8 225.5 528.9 222.8 531 220.7 C533.1 218.6 536.5 215.8 538.6 214.4 C540.7 212.9 542.2 211.8 543.7 211.8 C545.2 211.8 546.8 213.1 547.5 214.4 C548.1 215.6 547.1 218 547.5 219.4 C547.9 220.9 549.4 222.1 550 223.2 C550.6 224.4 551.7 225.4 551.3 226.4 C550.8 227.3 548.7 228.2 547.5 228.9 C546.2 229.6 544.7 229.6 543.7 230.8 C542.6 232 542 235.2 541.2 235.9 C540.3 236.5 539.7 235.1 538.6 234.6 C537.6 234.1 536.5 233.1 534.8 232.7 C533.1 232.3 530 232.6 528.5 232.1 C527 231.5 526.4 230.4 526 229.5 C525.6 228.7 525.1 228.5 526 227Z" fill="#FEE2BA" stroke="#33261a" stroke-width="1.045"/>
<path d="M477.9 237.1 C480.6 233.8 501.2 209.8 504.5 207.4 C507.8 205.1 506.1 214.8 506.4 216.9 C506.7 219 506.7 224.1 507 225.7 C507.3 227.4 508.8 229.8 508.9 230.8 C509.1 231.8 508.9 233.9 508.3 234.6 C507.6 235.3 504.7 236.6 503.2 237.1 C501.7 237.6 496.8 239.2 495.6 239 C494.5 238.9 494.7 236.3 493.1 235.9 C491.5 235.5 483.5 235.5 481.7 235.6 C480 235.8 475.3 240.4 477.9 237.1Z" fill="#FEE2BA"/>
<path d="M548.7 165.1 C549.2 163.5 551.3 159.5 553.8 158.7 C556.3 158 568.3 157.1 570.2 158.7 C572.1 160.4 572.6 171.1 570.2 172.6 C567.9 174.2 552.5 172.9 550 172 C547.5 171.1 548.3 166.6 548.7 165.1Z" fill="#FFF6DA"/>
<path d="M451.4 271.3 C454 270.4 457.9 267.2 460.2 266.2 C462.6 265.2 469.1 263.6 471.6 263 C474.1 262.5 479.5 261.9 481.7 261.8 C483.9 261.7 488.8 262 490.6 262.4 C492.3 262.8 495.6 264.1 496.9 264.9 C498.2 265.8 501.2 268.7 502 270 C502.7 271.3 503.4 274.8 503.2 276.3 C503.1 277.8 501.1 281.2 500.7 282.6 C500.2 284.1 499.3 287.8 499.4 289 C499.6 290.1 501.7 291.9 502 292.8 C502.2 293.6 502.7 296 502 296.6 C501.2 297.1 497.3 297.4 495.6 297.8 C494 298.3 489.7 299.5 488 300.3 C486.4 301.2 482.7 303.8 481.7 305.4 C480.8 307 480 312.2 479.8 314.3 C479.7 316.3 480.2 321.5 480.5 323.1 C480.7 324.7 482.2 327.4 481.7 328.2 C481.3 328.9 477.8 329.7 476.7 329.4 C475.5 329.1 473.1 326.4 471.6 325.6 C470.1 324.9 465.5 323.8 464 323.1 C462.5 322.4 459.9 321.1 459 319.9 C458.1 318.8 457 315.8 456.4 313.6 C455.8 311.5 454.6 303.9 453.9 301.6 C453.2 299.3 451.3 295.8 450.1 294 C448.9 292.3 445.3 287.3 443.8 286.4 C442.3 285.6 438.2 287.9 437.5 286.4 C436.7 285 435.8 275.6 437.5 273.8 C439.1 272 448.7 272.2 451.4 271.3Z" fill="#FDBA78"/>
<path d="M481.7 305.4 C483.1 303.1 485.7 301.6 488 300.3 C490.4 299.1 493.1 298.3 495.6 297.8 C498.2 297.3 500.7 297 503.2 297.2 C505.7 297.4 508.9 297.9 510.8 299.1 C512.7 300.2 513.7 302 514.6 304.1 C515.5 306.2 516.5 309.2 516.5 311.7 C516.5 314.3 516 317.2 514.6 319.3 C513.2 321.4 510.8 322.9 508.3 324.4 C505.7 325.8 502.4 327.3 499.4 328.2 C496.5 329 493.3 329.5 490.6 329.4 C487.8 329.3 484.7 328.8 483 327.5 C481.3 326.3 480.7 324.1 480.2 321.8 C479.7 319.6 479.6 317 479.8 314.3 C480.1 311.5 480.4 307.7 481.7 305.4Z" fill="#FEC893" stroke="#33261a" stroke-width="1.045"/>
<path d="M489.9 305.4 C490.6 304.1 493.4 302.6 495.6 301.6 C497.8 300.7 501 299.5 503.2 299.7 C505.4 299.9 507.9 301.3 508.9 302.9 C510 304.5 510.1 307.5 509.5 309.2 C509 310.9 507.4 312 505.7 313 C504.1 313.9 501.3 314.8 499.4 314.9 C497.5 315 495.6 314.6 494.4 313.6 C493.1 312.7 492.6 310.6 491.8 309.2 C491.1 307.8 489.3 306.7 489.9 305.4Z" fill="#FEE2BA" stroke="#33261a" stroke-width="1.045"/>
<path d="M514.6 291.5 C515.7 289.4 519 288.1 520.9 286.4 C522.8 284.8 524.5 282.9 526 281.4 C527.5 279.9 528.7 277.8 529.8 277.6 C530.8 277.4 531.8 278.4 532.3 280.1 C532.8 281.8 533.1 285.1 532.9 287.7 C532.7 290.3 532.2 294 531 295.9 C529.9 297.8 528.1 297.9 526 299.1 C523.9 300.2 520.3 302.9 518.4 302.9 C516.5 302.9 515.2 301 514.6 299.1 C514 297.2 513.5 293.6 514.6 291.5Z" fill="#FDBA78" stroke="#33261a" stroke-width="1.045"/>
<path d="M518.4 304.1 C519.4 302.4 528.4 298.1 531 297.2 C533.7 296.3 539.1 297.2 541.2 296.6 C543.2 295.9 548.1 290.9 548.7 291.5 C549.3 292.1 547.7 299.3 546.2 301.6 C544.7 304 538.5 309.5 536.1 311.7 C533.7 313.9 527.6 320.6 526 320.6 C524.4 320.6 523.1 313.6 522.2 311.7 C521.3 309.8 517.4 305.8 518.4 304.1Z" fill="#FDBA78"/>
<path d="M404.9 336.7 C406.4 334.6 409.9 331.1 411.3 330.3 C412.7 329.6 416.4 329.5 417 330.3 C417.5 331.2 415.8 335.9 415.7 337.9 C415.5 340 415.9 346 415.7 348 C415.5 350.1 413.7 353.9 413.8 355.6 C413.9 357.4 415.6 361.4 416.3 363.2 C417.1 365 419.3 368.7 420.1 370.8 C420.9 372.9 422.8 378.6 423.3 380.9 C423.8 383.3 424.5 388.7 424.5 391 C424.6 393.4 424.3 399.3 423.9 401.2 C423.5 403 422.3 406.4 421.4 406.8 C420.5 407.3 417.7 405.5 416.3 404.9 C415 404.4 411 403.3 410 402.4 C409 401.5 410 399 407.5 397.4 C405 395.7 393.7 390.7 388.5 388.5 C383.3 386.3 364.7 381 363.2 378.4 C361.7 375.7 372.9 368.4 375.9 365.7 C378.8 363.1 385.9 357.7 388.5 355.6 C391.2 353.6 396.7 350.3 398.6 348 C400.5 345.8 403.5 338.7 404.9 336.7Z" fill="#FEE2BA"/>
<path d="M363.2 373.3 C363.8 371.8 372.9 366.7 375.9 364.5 C378.8 362.3 385.9 356.4 388.5 354.4 C391.2 352.3 397.3 346.5 398.6 346.8 C399.9 347.1 399.6 354.7 399.9 356.9 C400.2 359.1 400.6 364.1 401.2 365.7 C401.7 367.4 403.8 370.1 404.9 370.8 C406.1 371.5 409.9 371.2 411.3 372.1 C412.6 373 415.5 376.8 416.3 378.4 C417.1 380 418.2 384.2 418.2 386 C418.2 387.7 417.3 392.3 416.3 393.6 C415.4 394.8 411.8 396.6 410 396.7 C408.2 396.9 403.1 395.8 401.2 394.8 C399.2 393.9 395.9 390 393.6 388.5 C391.2 387 383.6 383.4 380.9 382.2 C378.3 380.9 372.9 378.8 370.8 377.8 C368.7 376.7 362.6 374.9 363.2 373.3Z" fill="#FFF6DA"/>
<path d="M362 375.9 C363.3 375.6 368.6 377 370.8 377.8 C373 378.5 378.3 380.9 380.9 382.2 C383.6 383.4 391.2 387 393.6 388.5 C395.9 390 400.9 393.8 401.2 394.8 C401.4 395.9 397.9 397 396.1 397.4 C394.3 397.7 388 397.5 386 398 C383.9 398.4 379.6 400.2 378.4 401.2 C377.2 402.1 375.9 405 375.9 406.2 C375.8 407.4 378.6 410.5 377.8 411.3 C376.9 412.1 370.9 413.2 368.3 413.2 C365.7 413.2 358.6 412.1 355.6 411.3 C352.7 410.5 345.4 407.5 343 406.2 C340.6 404.9 336.1 401.7 334.8 399.9 C333.4 398.1 329.8 392.8 331.6 391 C333.5 389.3 347.3 386 350.6 384.7 C353.8 383.4 358.1 380.7 359.4 379.7 C360.8 378.6 360.6 376.1 362 375.9Z" fill="#FEE2BA"/>
<path d="M432.8 367 C433.1 364.9 434.9 361.3 436.6 359.4 C438.2 357.5 440.6 356.5 442.9 355.6 C445.2 354.8 448.7 354.1 450.5 354.4 C452.3 354.7 454 356.1 453.6 357.5 C453.2 359 450.4 361.3 447.9 363.2 C445.5 365.1 441.3 367.4 439.1 368.9 C436.9 370.4 435.7 372.4 434.7 372.1 C433.6 371.8 432.4 369.1 432.8 367Z" fill="#FDAE62" stroke="#33261a" stroke-width="1.045"/>
<path d="M436.6 364.5 C436.8 363.2 438.7 360.7 440.3 359.4 C442 358.2 445.1 357.1 446.7 356.9 C448.2 356.7 450 357.2 449.8 358.2 C449.6 359.1 447.2 361.1 445.4 362.6 C443.6 364.1 440.6 366.7 439.1 367 C437.6 367.3 436.3 365.7 436.6 364.5Z" fill="#FD9A36" stroke="#33261a" stroke-width="1.045"/>
<path d="M461.8 355.6 C462.3 354.5 466.1 351.5 468.2 350.6 C470.2 349.7 477 348.6 479.5 348 C482 347.5 488.2 345.2 489.7 345.5 C491.1 345.8 493.7 349.4 492.2 350.6 C490.7 351.8 480.3 354.5 477 355.6 C473.8 356.8 466.1 360.7 464.4 360.7 C462.6 360.7 461.4 356.8 461.8 355.6Z" fill="#FEE2BA"/>
<path d="M441.6 397.4 C444.4 397.9 463.2 408.9 464.4 411.9 C465.5 414.8 454.4 419.6 451.7 422.6 C449.1 425.7 443.8 434.9 441.6 437.8 C439.4 440.8 434.8 445.7 432.8 447.9 C430.7 450.1 426.1 456.4 423.9 456.8 C421.7 457.2 415.7 452.2 413.8 451.1 C411.9 450 407.5 448.7 407.5 447.3 C407.4 445.9 412.5 440.8 413.2 439.1 C413.8 437.4 412.5 434.1 413.2 432.8 C413.8 431.4 417.3 429 418.9 427.7 C420.4 426.4 425 422.5 426.4 421.4 C427.9 420.3 430.3 419.1 431.5 418.2 C432.7 417.3 435.5 415 436.6 413.8 C437.6 412.5 439.8 409.4 440.3 407.5 C440.9 405.6 438.8 396.8 441.6 397.4Z" fill="#FEE2BA"/>
<path d="M407.5 434 C408.9 433 411.5 431.9 412.5 432.8 C413.5 433.6 414 437 413.4 439.1 C412.8 441.2 410.3 444.4 408.7 445.4 C407.2 446.5 405.2 446.5 404.3 445.4 C403.5 444.4 403.2 441 403.7 439.1 C404.2 437.2 406 435.1 407.5 434Z" fill="#FEE2BA" stroke="#33261a" stroke-width="1.045"/>
<path d="M388.5 463.1 C392 459.7 399.8 454.1 401.2 454.3 C402.5 454.4 399.9 462.2 399.9 464.4 C399.9 466.6 400.4 471.6 401.2 473.2 C401.9 474.8 406.8 476.7 406.2 478.3 C405.6 479.9 398.2 484.3 396.1 487.1 C394 489.9 391.5 500.5 388.5 502.3 C385.6 504.1 372.9 504.5 370.8 502.3 C368.7 500.1 368.7 487.9 370.8 483.3 C372.9 478.8 385 466.5 388.5 463.1Z" fill="#FEE2BA"/>
<path d="M392.3 407.5 C393.6 406.4 398.5 406 401.2 406.2 C403.8 406.4 406.8 407.3 408.1 408.7 C409.4 410.2 409.5 413.4 408.7 415.1 C408 416.7 405.6 418.6 403.7 418.9 C401.8 419.1 399 417.4 397.4 416.3 C395.7 415.3 394.4 414 393.6 412.5 C392.7 411.1 391 408.5 392.3 407.5Z" fill="#FDBA78" stroke="#33261a" stroke-width="1.045"/>
<path d="M370.8 414.4 C370.8 413.2 375.9 412.6 378.4 412.5 C380.9 412.4 383.7 412.7 386 413.8 C388.3 414.8 390.9 416.7 392.3 418.9 C393.7 421 394.4 424.8 394.2 426.4 C394 428.1 392.6 429 391 429 C389.5 429 386.8 427.9 384.7 426.4 C382.6 425 380.7 422.1 378.4 420.1 C376.1 418.1 370.8 415.7 370.8 414.4Z" fill="#FEE2BA" stroke="#33261a" stroke-width="1.045"/>
<path d="M336.7 425.2 C338.8 425 343.6 427.1 346.8 427.7 C349.9 428.3 352.5 428.8 355.6 429 C358.8 429.2 362.6 429.1 365.7 429 C368.9 428.9 372.5 427.9 374.6 428.3 C376.7 428.8 377.1 430.1 378.4 431.5 C379.7 432.9 380.9 434.7 382.2 436.6 C383.4 438.4 385.1 440.8 386 442.9 C386.8 445 387.5 447.4 387.2 449.2 C387 451 385.8 453.2 384.7 453.6 C383.7 454 382 453.1 380.9 451.7 C379.9 450.4 379.7 446.9 378.4 445.4 C377.1 443.9 375 442.9 373.3 442.9 C371.6 442.9 369.5 443.9 368.3 445.4 C367 446.9 367.2 450.1 365.7 451.7 C364.3 453.3 361.5 454.7 359.4 454.9 C357.3 455.1 355 454.4 353.1 453 C351.2 451.6 349.5 449.2 348 446.7 C346.6 444.1 345.9 439.9 344.3 437.8 C342.6 435.7 339.6 435.5 337.9 434 C336.2 432.5 334.3 430.4 334.1 429 C333.9 427.5 334.6 425.4 336.7 425.2Z" fill="#FDBA78" stroke="#33261a" stroke-width="1.045"/>
<path d="M315.2 463.1 C317.2 461.7 321.5 460.8 325.3 459.9 C329.1 459.1 334.9 457.9 337.9 458 C341 458.2 342.8 459.1 343.6 460.6 C344.5 462.1 344.4 465.3 343 466.9 C341.6 468.5 338.6 469.1 335.4 470.1 C332.2 471 327.2 472.3 324 472.6 C320.9 472.9 318.2 472.7 316.4 472 C314.6 471.2 313.5 469.6 313.3 468.2 C313.1 466.7 313.2 464.5 315.2 463.1Z" fill="#FDBA78" stroke="#33261a" stroke-width="1.045"/>
<path d="M315.2 482.1 C316.1 480.5 317.7 478.2 320.2 477 C322.8 475.9 327.4 475.1 330.3 475.1 C333.3 475.1 336.4 475.9 337.9 477 C339.5 478.2 340 480.4 339.8 482.1 C339.6 483.8 338.7 485.9 336.7 487.1 C334.7 488.4 330.8 489.2 327.8 489.7 C324.9 490.1 321.2 490.2 319 489.7 C316.8 489.1 315.2 487.8 314.5 486.5 C313.9 485.2 314.2 483.7 315.2 482.1Z" fill="#FEE2BA" stroke="#33261a" stroke-width="1.045"/>
<path d="M320.2 430.2 C320.8 427.3 322.3 423.8 324 421.4 C325.7 419 328.3 416.3 330.3 415.7 C332.3 415.1 335 416 336 417.6 C337.1 419.2 337 422.4 336.7 425.2 C336.4 427.9 335.4 431.3 334.1 434 C332.9 436.8 330.3 439.3 329.1 441.6 C327.8 443.9 327.6 446.9 326.6 447.9 C325.5 449 323.7 449.4 322.8 447.9 C321.8 446.5 321.3 442 320.9 439.1 C320.4 436.1 319.7 433.2 320.2 430.2Z" fill="#FEE2BA" stroke="#33261a" stroke-width="1.045"/>
<path d="M327.2 422.6 C327.7 421.4 330.3 420.4 331.6 420.7 C332.9 421.1 334.6 423.2 334.8 424.5 C335 425.9 333.9 428.3 332.9 429 C331.8 429.6 329.4 429.4 328.4 428.3 C327.5 427.3 326.7 423.9 327.2 422.6Z" fill="#FFF6DA" stroke="#33261a" stroke-width="1.045"/>
<path d="M297.5 424.5 C298.9 421.8 304.2 423.8 306.3 424.5 C308.4 425.3 309.5 427 310.1 429 C310.7 431 310.7 434.7 310.1 436.6 C309.5 438.4 308.4 439.6 306.3 440.3 C304.2 441.1 298.9 443.6 297.5 441 C296 438.3 296 427.3 297.5 424.5Z" fill="#FDBA78" stroke="#33261a" stroke-width="1.045"/>
<path d="M368.3 445.4 C369 443.3 371.9 442.7 373.3 442.9 C374.8 443.1 376.3 444.6 377.1 446.7 C378 448.8 377.8 452.8 378.4 455.5 C379 458.3 381.3 461 380.9 463.1 C380.5 465.2 377.8 466.1 375.9 468.2 C374 470.3 371.4 473.2 369.5 475.7 C367.6 478.3 365.7 481 364.5 483.3 C363.2 485.7 362.8 489.7 362 489.7 C361.1 489.7 359.4 485.9 359.4 483.3 C359.4 480.8 360.7 477.6 362 474.5 C363.2 471.3 365.9 467.5 367 464.4 C368.2 461.2 368.7 458.7 368.9 455.5 C369.1 452.4 367.5 447.5 368.3 445.4Z" fill="#FEE2BA" stroke="#33261a" stroke-width="1.045"/>
<path d="M218.6 507.5 C219.9 508.8 219.4 516.8 220.5 518.9 C221.6 520.9 226.3 523.8 228 525.2 C229.8 526.5 234.5 528.9 235.6 530.2 C236.8 531.6 238.3 535.3 238.2 536.6 C238 537.8 235.8 540.4 234.4 541 C232.9 541.6 228 541.5 225.5 541.6 C223 541.7 215.5 540.7 212.9 541.6 C210.2 542.5 204.7 547.4 202.8 549.2 C200.8 551 197.5 554.7 196.4 556.8 C195.4 558.8 194.3 564.2 193.9 566.9 C193.5 569.6 193.4 576.1 193.3 579.5 C193.2 582.9 193.1 592.3 193.3 596 C193.5 599.7 194.7 607.9 195.2 611.2 C195.7 614.4 197.3 620.8 197.7 623.8 C198.1 626.7 198.8 633.5 199 636.4 C199.1 639.4 198.4 646.6 199 649.1 C199.6 651.6 202.5 656 204 657.9 C205.5 659.9 210.4 663.6 211.6 665.5 C212.8 667.4 213.8 671.6 214.1 674.4 C214.4 677.2 231 687.8 214.1 689.5 C197.3 691.3 86.8 700.2 70 689.5 C53.2 678.9 58.2 615 70 598.5 C81.8 582 154.9 558.6 171.2 547.9 C187.4 537.3 203.6 512.2 209.1 507.5 C214.6 502.8 217.2 506.1 218.6 507.5Z" fill="#FEE2BA"/>
<path d="M290 568.2 C288.2 568.2 284.8 568.7 282.4 568.8 C280.1 568.9 272.4 568.6 269.8 568.8 C267.1 569 261.3 569.9 259.7 570.7 C258 571.5 256.7 574.5 255.9 575.7 C255 577 253.1 580.7 252.1 581.4 C251 582.2 248.3 582.3 247 582.1 C245.7 581.8 241.9 580.6 240.7 579.5 C239.5 578.5 237.5 575 236.9 573.2 C236.3 571.4 236.1 566.1 235.6 564.4 C235.2 562.6 234.4 559 233.1 558 C231.8 557.1 226.2 556.3 224.3 556.1 C222.3 556 218.7 556.1 216.7 556.8 C214.6 557.4 208.3 560.5 206.6 561.8 C204.8 563.2 201.9 566.2 201.5 568.2 C201.1 570.1 202 576.2 202.8 578.3 C203.5 580.3 206.5 584.1 207.8 585.9 C209.1 587.6 212.7 591.7 214.1 593.4 C215.6 595.2 219.3 599.1 220.5 601 C221.6 603 224.1 607.8 224.3 609.9 C224.4 612 222.6 616.7 221.7 618.7 C220.8 620.8 217.7 625.5 216.7 627.6 C215.6 629.7 213.3 634.4 212.9 636.4 C212.4 638.5 212.4 643.1 212.9 645.3 C213.3 647.5 215.8 652.7 216.7 655.4 C217.6 658.1 219.9 665.4 220.5 668 C221.1 670.7 221.1 676.8 221.7 678.2 C222.3 679.5 224.5 680.2 225.5 679.4 C226.6 678.7 229.7 673.3 230.6 671.8 C231.5 670.4 233.1 668.3 233.1 666.8 C233.1 665.3 230.7 661 230.6 659.2 C230.4 657.4 231 653.1 231.8 651.6 C232.7 650.1 236.5 647.4 238.2 646.6 C239.8 645.7 244.4 644.4 245.7 644.7 C247.1 645 249.1 647.7 249.5 649.1 C250 650.5 250 655 249.5 656.7 C249.1 658.3 246.6 661.7 245.7 663 C244.9 664.3 242.5 666.7 242 668 C241.4 669.4 238.6 672.2 240.7 674.4 C242.8 676.6 253 691.4 259.7 687 C266.3 682.6 293.2 650.3 297.6 636.4 C302 622.6 298.5 576.1 297.6 568.2 C296.7 560.2 291.8 568.1 290 568.2Z" fill="#FDBA78"/>
<path d="M236.9 507.5 C231.6 508.7 244.4 515.8 247 517.6 C249.7 519.4 256.7 521.7 259.7 522.6 C262.6 523.6 268.5 525.6 272.3 525.8 C276.1 526 290.2 526.7 292.5 524.5 C294.9 522.4 299 509.5 292.5 507.5 C286 505.5 242.2 506.3 236.9 507.5Z" fill="#FDBA78"/>
<path d="M360.8 492.7 C367.4 485.8 394.5 456.7 400 454.1 C405.5 451.6 408.2 466.3 407.6 470.6 C407 474.9 397 487.6 394.9 490.8 C392.9 494.1 391.4 496 389.9 498.4 C388.4 500.8 384.1 508.7 382.3 511 C380.5 513.4 376.9 516.6 374.7 518.6 C372.5 520.7 366.9 525.5 363.3 528.7 C359.8 532 348.4 542.6 344.4 546.4 C340.4 550.3 332.1 559 329.2 561.6 C326.2 564.3 320.9 570.2 319.1 569.2 C317.3 568.2 311.2 559.3 314 552.8 C316.8 546.3 337.6 520.6 343.1 513.6 C348.6 506.6 354.2 499.6 360.8 492.7Z" fill="#FEE2BA"/>
<path d="M255.9 468 C256.7 468.9 258.7 473.9 258.4 475.6 C258.1 477.4 255.1 482 253.3 483.2 C251.6 484.4 245.3 484.9 243.2 485.7 C241.2 486.6 236.8 489.6 235.6 490.8 C234.5 492 233.7 494.5 233.1 495.9 C232.5 497.2 232.2 500.3 230.6 502.2 C229 504.1 220.5 510.4 219.2 512.3 C217.9 514.2 218.2 517.3 219.2 518.6 C220.2 519.9 226.1 522.6 228 523.7 C230 524.7 234.5 526.3 235.6 527.5 C236.8 528.7 238.5 532.3 238.2 533.8 C237.9 535.3 234.9 539.1 233.1 540.1 C231.3 541.1 225.6 542.5 223 542.6 C220.3 542.8 212.4 540.9 210.3 541.4 C208.3 541.8 206.9 545 205.3 546.4 C203.7 547.9 197.9 552.3 196.4 554 C195 555.8 193.2 559.5 192.6 561.6 C192.1 563.7 192 569.1 192 571.7 C192 574.4 194.8 582.9 192.6 584.4 C190.5 585.8 175.9 588.8 173.7 584.4 C171.5 579.9 168.5 556 173.7 546.4 C178.8 536.9 208.9 511.3 217.9 502.2 C226.9 493 246.4 472 250.8 468 C255.2 464.1 255 467.2 255.9 468Z" fill="#FEE2BA"/>
<path d="M271 455.4 C273.1 453.5 276.3 449.9 278.6 450.3 C280.9 450.8 282.4 457.1 284.9 457.9 C287.5 458.8 291.7 454.8 293.8 455.4 C295.9 456 296.3 458.8 297.6 461.7 C298.9 464.7 300.3 469.5 301.4 473.1 C302.4 476.7 303.1 480.3 303.9 483.2 C304.8 486.2 305.2 488.7 306.4 490.8 C307.7 492.9 309.4 494.8 311.5 495.9 C313.6 496.9 316.1 497.1 319.1 497.1 C322 497.1 326.2 496.5 329.2 495.9 C332.1 495.2 334.3 493.9 336.8 493.3 C339.3 492.8 342.3 492.3 344.4 492.7 C346.5 493.1 348.6 494.3 349.4 495.9 C350.3 497.4 350.5 499.2 349.4 502.2 C348.4 505.1 345.6 510.4 343.1 513.6 C340.6 516.7 336.6 519.7 334.3 521.2 C331.9 522.6 330.9 522.8 329.2 522.4 C327.5 522 325.8 520.1 324.1 518.6 C322.5 517.1 321 514.6 319.1 513.6 C317.2 512.5 314.9 512.3 312.8 512.3 C310.7 512.3 308.3 512.9 306.4 513.6 C304.5 514.2 303.1 514.8 301.4 516.1 C299.7 517.4 298 519.6 296.3 521.2 C294.6 522.7 293.8 524.7 291.3 525.6 C288.7 526.4 284.9 526.5 281.2 526.2 C277.4 525.9 272.3 524.7 268.5 523.7 C264.7 522.6 261.8 521.4 258.4 519.9 C255 518.4 251.2 516.3 248.3 514.8 C245.3 513.4 242.6 512.5 240.7 511 C238.8 509.6 237.3 507.7 236.9 506 C236.5 504.3 237.1 502.3 238.2 500.9 C239.2 499.6 241.5 497.8 243.2 497.8 C244.9 497.8 246.6 500.2 248.3 500.9 C250 501.7 252.1 502.6 253.3 502.2 C254.6 501.8 255.7 500.1 255.9 498.4 C256.1 496.7 254.2 494.2 254.6 492.1 C255 490 257.1 487.9 258.4 485.7 C259.7 483.6 261.3 482 262.2 479.4 C263 476.9 262.8 473.5 263.4 470.6 C264.1 467.6 264.7 464.3 266 461.7 C267.2 459.2 268.9 457.3 271 455.4Z" fill="#FDBA78" stroke="#33261a" stroke-width="1.045"/>
<path d="M271 457.9 C272 455.6 275.7 450.1 278.6 450.3 C281.6 450.6 286.2 455.8 288.7 459.2 C291.3 462.6 292.5 466.6 293.8 470.6 C295.1 474.6 295.1 479.4 296.3 483.2 C297.6 487 299.7 490.4 301.4 493.3 C303.1 496.3 305.8 498.4 306.4 500.9 C307.1 503.4 306.4 506.4 305.2 508.5 C303.9 510.6 301.2 512.3 298.9 513.6 C296.5 514.8 293.8 515.9 291.3 516.1 C288.7 516.3 286 516.1 283.7 514.8 C281.4 513.6 278.9 511.2 277.4 508.5 C275.8 505.8 274.4 502.2 274.2 498.4 C274 494.6 275.8 490 276.1 485.7 C276.4 481.5 276.6 476.7 276.1 473.1 C275.6 469.5 273.8 466.8 272.9 464.3 C272.1 461.7 270.1 460.2 271 457.9Z" fill="#FDAE62" stroke="#33261a" stroke-width="1.045"/>
<path d="M327.9 508.5 C328.6 506.4 329.8 502.8 331.7 500.9 C333.6 499 336.8 497.5 339.3 497.1 C341.8 496.7 345.2 497.3 346.9 498.4 C348.6 499.4 349.4 501.3 349.4 503.4 C349.4 505.6 348 508.7 346.9 511 C345.8 513.4 344.8 515.7 343.1 517.4 C341.4 519 338.9 520.9 336.8 521.2 C334.7 521.4 331.9 519.9 330.5 518.6 C329 517.4 328.4 515.3 327.9 513.6 C327.5 511.9 327.3 510.6 327.9 508.5Z" fill="#FDAE62" stroke="#33261a" stroke-width="1.045"/>
<path d="M334.3 511 C334.6 509.5 335.5 507 336.8 506 C338 504.9 340.4 504.3 341.8 504.7 C343.3 505.1 345.4 506.8 345.6 508.5 C345.8 510.2 344.4 513.4 343.1 514.8 C341.8 516.3 339.4 517.3 338 517.4 C336.7 517.5 335.5 516.5 334.9 515.5 C334.3 514.4 333.9 512.6 334.3 511Z" fill="#FD9A36" stroke="#33261a" stroke-width="1.045"/>
<path d="M343.1 516.1 C345.6 512.6 348.5 505.1 350.7 503.4 C352.9 501.8 359.9 501.6 362.1 502.2 C364.3 502.8 368.8 506.3 369.7 508.5 C370.5 510.7 370.4 518.5 369.7 521.2 C368.9 523.8 365.1 529.6 363.3 531.3 C361.6 532.9 356.7 534.8 354.5 535.1 C352.3 535.4 347 533.1 344.4 533.8 C341.7 534.5 333.5 541.4 331.7 541.4 C330 541.4 327.9 536.7 329.2 533.8 C330.5 530.8 340.6 519.6 343.1 516.1Z" fill="#FEE2BA"/>
<path d="M348.2 517.4 C348.8 514.2 350.1 510.4 352 508.5 C353.9 506.6 357.4 505.6 359.5 506 C361.6 506.4 363.7 508.7 364.6 511 C365.5 513.4 365.7 516.9 365.2 519.9 C364.8 522.8 363.9 526.7 362.1 528.7 C360.3 530.7 356.8 532.1 354.5 531.9 C352.2 531.7 349.2 529.9 348.2 527.5 C347.1 525 347.5 520.5 348.2 517.4Z" fill="#FFF6DA" stroke="#33261a" stroke-width="1.045"/>
<path d="M336.8 432.6 C337.6 431.4 343.9 430.7 348.2 430.1 C352.4 429.5 357.6 429.3 362.1 428.9 C366.5 428.4 371.6 427 374.7 427.6 C377.9 428.2 379.4 430.5 381 432.6 C382.7 434.8 383.6 437.5 384.8 440.2 C386.1 443 388.2 446.8 388.6 449.1 C389 451.4 388.4 453.5 387.4 454.1 C386.3 454.8 383.6 454.1 382.3 452.9 C381 451.6 381 448.2 379.8 446.6 C378.5 444.9 376.4 443.2 374.7 442.8 C373 442.3 371.1 442.8 369.7 444 C368.2 445.3 367.6 448.9 365.9 450.3 C364.2 451.8 361.9 452.9 359.5 452.9 C357.2 452.9 354.1 452 352 450.3 C349.8 448.7 348.4 444.9 346.9 442.8 C345.4 440.7 344.8 439.4 343.1 437.7 C341.4 436 335.9 433.9 336.8 432.6Z" fill="#FDBA78" stroke="#33261a" stroke-width="1.045"/>
<path d="M315.3 464.3 C316.2 462.8 317.6 461.4 320.3 460.5 C323.1 459.5 328.4 458.8 331.7 458.6 C335.1 458.4 338.9 458.2 340.6 459.2 C342.3 460.1 342.3 462.6 341.8 464.3 C341.4 465.9 340.4 468.2 338 469.3 C335.7 470.5 331.1 470.8 327.9 471.2 C324.8 471.6 321.3 472.2 319.1 471.8 C316.9 471.5 315.3 470.6 314.7 469.3 C314 468 314.3 465.7 315.3 464.3Z" fill="#FDBA78" stroke="#33261a" stroke-width="1.045"/>
<path d="M315.3 483.2 C315.9 481.6 317 479.3 319.1 478.2 C321.2 477 325 476.5 327.9 476.3 C330.9 476.1 334.7 476.2 336.8 476.9 C338.9 477.6 340.4 479 340.6 480.7 C340.8 482.4 339.9 485.4 338 487 C336.2 488.6 332.1 489.6 329.2 490.2 C326.2 490.7 322.7 490.6 320.3 490.2 C318 489.8 316.1 488.8 315.3 487.6 C314.4 486.5 314.7 484.8 315.3 483.2Z" fill="#FEE2BA" stroke="#33261a" stroke-width="1.045"/>
<path d="M367.1 451.6 C368 450 370.6 448.4 372.2 448.4 C373.8 448.4 375.8 449.4 376.6 451.6 C377.5 453.8 376.5 458.6 377.2 461.7 C378 464.9 381.5 467.6 381 470.6 C380.6 473.5 377 476.7 374.7 479.4 C372.4 482.2 369.4 484.7 367.1 487 C364.8 489.3 362.3 493.1 360.8 493.3 C359.3 493.5 358.3 490.8 358.3 488.3 C358.3 485.7 359.5 481.5 360.8 478.2 C362.1 474.8 364.8 471.4 365.9 468 C366.9 464.7 366.9 460.7 367.1 457.9 C367.3 455.2 366.3 453.2 367.1 451.6Z" fill="#FEE2BA" stroke="#33261a" stroke-width="1.045"/>
<path d="M364.6 493.3 C364.8 490.4 368.6 486.4 370.9 484.5 C373.2 482.6 375.8 481.7 378.5 482 C381.2 482.2 385.8 483.6 387.4 485.7 C388.9 487.9 388.8 491.9 388 494.6 C387.1 497.3 384.3 499.8 382.3 502.2 C380.3 504.6 378.1 509.1 376 509.1 C373.9 509.1 371.6 504.8 369.7 502.2 C367.8 499.6 364.4 496.3 364.6 493.3Z" fill="#FEC893" stroke="#33261a" stroke-width="1.045"/>
<path d="M304.5 516.1 C305.1 514.5 306.5 513.6 307.7 514.2 C308.9 514.8 310.2 517.7 311.5 519.9 C312.8 522.1 314.3 524.7 315.3 527.5 C316.2 530.2 317.2 533.4 317.2 536.3 C317.2 539.3 316.4 542.4 315.3 545.2 C314.1 547.9 312.1 551.7 310.2 552.8 C308.3 553.8 306.4 552.5 303.9 551.5 C301.4 550.4 296.1 548.3 295.1 546.4 C294 544.5 296.5 542.6 297.6 540.1 C298.6 537.6 300.2 534 301.4 531.3 C302.5 528.5 304 526.2 304.5 523.7 C305.1 521.2 304 517.7 304.5 516.1Z" fill="#FEE2BA" stroke="#33261a" stroke-width="1.045"/>
<path d="M330.5 541.4 C331.8 539.7 335.3 538.4 338 537.6 C340.8 536.7 344.8 535.7 346.9 536.3 C349 537 351.5 538.9 350.7 541.4 C349.8 543.9 344.8 549.4 341.8 551.5 C338.9 553.6 335 554.7 333 554 C331 553.4 330.3 549.8 329.8 547.7 C329.4 545.6 329.1 543.1 330.5 541.4Z" fill="#FDBA78" stroke="#33261a" stroke-width="1.045"/>
<path d="M177.5 550.2 C178.1 546.8 181.5 549.2 182.5 550.2 C183.6 551.3 185.9 556.6 186.3 559.1 C186.8 561.6 187.4 569.4 186.3 571.7 C185.3 574.1 178.5 581.8 177.5 579.3 C176.4 576.8 176.9 553.6 177.5 550.2Z" fill="#FFF6DA"/>
<path d="M200.9 567.9 C201.2 566 203.7 562.8 205.3 561.6 C206.8 560.4 212.1 558.3 214.1 557.8 C216.2 557.3 220.9 557.2 223 557.2 C225.1 557.2 230.4 557 231.8 557.8 C233.3 558.6 235 562.5 235.6 564.1 C236.2 565.8 236.5 570 236.9 571.7 C237.3 573.5 238.4 578.1 239.4 579.3 C240.5 580.6 244.4 582.5 245.7 582.5 C247.1 582.5 249.6 580.6 250.8 579.3 C252 578.1 254.1 573 255.9 571.7 C257.6 570.5 263.3 569 266 568.6 C268.6 568.1 276 567.9 278.6 567.9 C281.3 567.9 286.7 568.1 288.7 568.6 C290.8 569 294.6 570.5 296.3 571.7 C298 572.9 300.6 577.2 303.3 578.7 C305.9 580.2 318.7 577.8 319.1 584.4 C319.5 590.9 317.5 629 306.4 634.9 C295.4 640.8 234 637.9 224.3 634.9 C214.5 632 223.7 613.8 223 609.7 C222.3 605.5 219.6 601.8 217.9 599.5 C216.3 597.3 210.9 593.2 209.1 590.7 C207.3 588.2 203.7 580.7 202.8 578 C201.8 575.4 200.6 569.9 200.9 567.9Z" fill="#FDBA78"/>
<path d="M245.7 595.7 C246.4 593.4 248.7 589.6 250.8 586.9 C252.9 584.2 255.4 581.1 258.4 579.3 C261.3 577.5 265.8 576.2 268.5 576.2 C271.2 576.2 273.6 577.7 274.8 579.3 C276.1 580.9 276.7 583.3 276.1 585.6 C275.5 588 273.1 590.9 271 593.2 C268.9 595.5 266.2 598.1 263.4 599.5 C260.7 601 257.3 601.9 254.6 602.1 C251.9 602.3 248.5 601.9 247 600.8 C245.5 599.8 245.1 598.1 245.7 595.7Z" fill="#FDAE62" stroke="#33261a" stroke-width="1.045"/>
<path d="M257.1 590.7 C257.5 589 260.5 586.1 262.2 585 C263.9 583.9 266.2 583.8 267.2 584.4 C268.3 584.9 268.9 586.7 268.5 588.2 C268.1 589.6 266.2 592.1 264.7 593.2 C263.2 594.4 260.9 595.5 259.7 595.1 C258.4 594.7 256.7 592.4 257.1 590.7Z" fill="#FD9A36" stroke="#33261a" stroke-width="1.045"/>
<path d="M260.9 612.2 C261.8 609.8 265.6 604.8 268.5 602.1 C271.5 599.3 275.5 597 278.6 595.7 C281.8 594.5 285.4 593.9 287.5 594.5 C289.6 595.1 291.1 597.2 291.3 599.5 C291.5 601.9 290.4 605.9 288.7 608.4 C287.1 610.9 284.1 613.2 281.2 614.7 C278.2 616.2 274 616.9 271 617.2 C268.1 617.6 265.1 617.5 263.4 616.6 C261.8 615.8 260.1 614.6 260.9 612.2Z" fill="#FEE2BA" stroke="#33261a" stroke-width="1.045"/>
<path d="M269.8 608.4 C270.2 606.5 274 602.5 276.1 600.8 C278.2 599.1 280.9 598.1 282.4 598.3 C283.9 598.5 285.2 600.2 284.9 602.1 C284.7 604 283 608 281.2 609.7 C279.3 611.3 275.5 612.4 273.6 612.2 C271.7 612 269.3 610.3 269.8 608.4Z" fill="#FFF6DA" stroke="#33261a" stroke-width="1.045"/>
<path d="M181.9 549.8 C183 549.5 184 554.9 184.4 556.8 C184.9 558.6 185.5 564 185.7 565.6 C185.9 567.3 186.8 569.4 186.3 570.7 C185.8 572 182.6 576.1 181.3 577 C179.9 577.9 176.4 578.6 174.9 578.3 C173.5 578 168.6 576.7 168.6 574.5 C168.6 572.3 173.4 562.2 174.9 559.3 C176.5 556.4 180.8 550.1 181.9 549.8Z" fill="#FFF6DA"/>
<path d="M157.2 622.5 C157.5 620.6 160 618.5 162.3 617.5 C164.6 616.4 168.6 615.8 171.2 616.2 C173.7 616.6 176.2 618.1 177.5 620 C178.8 621.9 179.2 625.2 179 627.6 C178.8 630 177.9 633.1 176.2 634.5 C174.5 636 170.7 636.3 168.6 636.4 C166.5 636.5 164.8 636.4 163.6 635.2 C162.3 633.9 162.1 631 161 628.9 C160 626.7 157 624.4 157.2 622.5Z" fill="#FFF6DA" stroke="#33261a" stroke-width="1.045"/>
<path d="M234.4 621.3 C235.1 619.7 237.3 617.7 239.4 616.8 C241.5 616 244.9 615.9 247 616.2 C249.1 616.5 250.2 617.9 252.1 618.7 C254 619.6 257.1 619.8 258.4 621.3 C259.7 622.7 260.5 625.7 259.7 627.6 C258.8 629.5 255.9 631.4 253.3 632.6 C250.8 633.9 247 635.4 244.5 635.2 C242 635 239.7 632.9 238.2 631.4 C236.6 629.9 235.6 628 235 626.3 C234.4 624.6 233.6 622.8 234.4 621.3Z" fill="#FEC893" stroke="#33261a" stroke-width="1.045"/>
<path d="M255.9 639 C256.4 637.1 258.2 633.9 259.7 632.6 C261.1 631.4 263.5 630.7 264.7 631.4 C266 632 267.2 634.3 267.2 636.4 C267.2 638.5 266 642.3 264.7 644 C263.5 645.7 261 646.6 259.7 646.6 C258.3 646.6 257.1 645.3 256.5 644 C255.9 642.8 255.3 640.9 255.9 639Z" fill="#FDAE62" stroke="#33261a" stroke-width="1.045"/>
<path d="M626.6 69.7 C626.8 71.1 627.8 74.9 627.9 77.9 C628 81 627.8 85.1 627.2 88 C626.7 91 625.8 93.1 624.7 95.6 C623.7 98.2 622 100.7 620.9 103.2 C619.9 105.7 619.2 107.9 618.4 110.8 C617.5 113.8 616.7 117.5 615.9 120.9 C615 124.3 614.3 128.1 613.3 131 C612.4 134 610.9 135.9 610.2 138.6 C609.4 141.4 609.1 144.5 608.9 147.5 C608.7 150.4 609.1 154.2 608.9 156.3 C608.7 158.4 608.4 159.5 607.6 160.1 C606.9 160.7 605.4 160.4 604.5 160.1 C603.5 159.8 602.8 159.3 602 158.2 C601.1 157.2 600.5 155.1 599.4 153.8 C598.4 152.5 597.1 151.4 595.6 150.6 C594.2 149.8 592.7 149.3 590.6 149 C588.5 148.6 585.1 148.3 583 148.5 C580.9 148.7 579.2 149.1 577.9 150 C576.7 150.9 575.8 152.1 575.4 153.8 C575 155.5 575.3 158 575.7 160.1 C576 162.2 576.9 164.3 577.3 166.4 C577.7 168.5 578.2 170.9 577.9 172.8 C577.6 174.7 576.5 176.6 575.4 177.8 C574.3 179.1 573.3 179.8 571.6 180.3 C569.9 180.9 567.4 181.4 565.3 181.4 C563.2 181.4 561.3 180.6 559 180.3 C556.6 180.1 553.9 179.6 551.4 179.7 C548.9 179.8 545.9 180.2 543.8 181 C541.7 181.8 539.1 183.6 538.6 184.7 C538.2 185.7 539.3 186.8 541.2 187.2 C543 187.6 547.8 187.6 550 187.2 C552.2 186.8 552.5 184.9 554.4 184.7 C556.3 184.4 559.4 185 561.4 185.9 C563.4 186.9 564.5 189 566.4 190.3 C568.3 191.7 570.2 193.4 572.8 194.1 C575.3 194.9 579.5 194.3 581.6 194.8 C583.7 195.2 583.7 196.1 585.4 196.7 C587.1 197.2 589.8 196.9 591.7 197.9 C593.6 199 595.7 200.5 596.8 203 C597.8 205.5 598 209.7 598 213.1 C598 216.5 597.8 220.6 596.8 223.2 C595.7 225.9 594 227.6 591.7 228.9 C589.4 230.2 585 230.8 582.9 230.8 C580.8 230.8 581 229.3 579.1 228.9 C577.2 228.5 573.8 228.2 571.5 228.3 C569.2 228.4 566.4 228.7 565.2 229.5 C563.9 230.4 563.7 231.4 563.9 233.3 C564.1 235.2 565.2 238.4 566.4 240.9 C567.7 243.4 569.6 246.1 571.5 248.5 C573.4 250.9 576.8 254.3 577.8 255.5" fill="none" stroke="#33261a" stroke-width="1.045"/>
<path d="M686.7 141.2 C687.5 138 690.4 126.6 691.7 122.2 C693.1 117.8 693.9 116.5 694.9 114.6 C695.8 112.7 697 111.4 697.4 110.8" fill="none" stroke="#33261a" stroke-width="1.045"/>
<path d="M704.4 102 C706.1 102 711.3 101.1 714.5 102 C717.6 102.8 720.8 105.2 723.3 107 C725.9 108.8 728.6 111.8 729.7 112.7" fill="none" stroke="#33261a" stroke-width="1.045"/>
<path d="M596.9 119 C597.2 120.2 598.4 123.8 598.8 126 C599.2 128.2 599.1 131.2 599.2 132.3" fill="none" stroke="#33261a" stroke-width="1.045"/>
<path d="M570.3 147.5 C570.3 150.6 570.6 162.2 570.3 166.4 C570.1 170.7 569.3 171.7 569.1 172.8" fill="none" stroke="#33261a" stroke-width="1.045"/>
<path d="M608.3 172.8 C609.5 172.5 612.9 171.5 615.9 171.5 C618.8 171.5 623.6 171.7 626 172.8 C628.4 173.8 629.8 176.1 630.4 177.8 C631 179.5 630.5 181.4 629.8 182.9 C629 184.4 627.9 185.9 626 186.7 C624.1 187.4 619.7 187.2 618.4 187.3" fill="none" stroke="#33261a" stroke-width="1.045"/>
<path d="M611.4 188.6 C611.4 187.9 614.4 186.7 615.9 186.7 C617.3 186.7 620.3 187.9 620.3 188.6 C620.3 189.2 617.3 190.5 615.9 190.5 C614.4 190.5 611.4 189.2 611.4 188.6Z" fill="none" stroke="#33261a" stroke-width="1.045"/>
<path d="M628.5 204.4 C628.9 202.7 629.8 196.8 631 194.3 C632.3 191.7 634 190.7 636.1 189.2 C638.2 187.7 641.2 186.5 643.7 185.4 C646.2 184.4 648.9 183.9 651.3 182.9 C653.6 181.8 656.5 179.7 657.6 179.1" fill="none" stroke="#33261a" stroke-width="1.045"/>
<path d="M504.5 207.4 C504.8 209 506 213.8 506.4 216.9 C506.8 220 506.6 223.4 507 225.7 C507.4 228.1 508.6 230 508.9 230.8" fill="none" stroke="#33261a" stroke-width="1.045"/>
<path d="M480.5 235.6 C482.6 235.7 490.6 235.3 493.1 235.9 C495.6 236.4 495.2 238.5 495.6 239" fill="none" stroke="#33261a" stroke-width="1.045"/>
<path d="M443.8 286.4 C444.8 287.7 448.4 291.5 450.1 294 C451.8 296.6 452.9 298.3 453.9 301.6 C455 304.9 455.6 310.6 456.4 313.6 C457.3 316.7 457.7 318.4 459 319.9 C460.2 321.5 461.9 322.2 464 323.1 C466.1 324.1 469.5 324.6 471.6 325.6 C473.7 326.7 474.8 328.6 476.7 329.4 C478.6 330.3 481.3 329.4 483 330.7 C484.7 332 485.3 334.3 486.8 337 C488.3 339.8 491 345.4 491.8 347.1" fill="none" stroke="#33261a" stroke-width="1.045"/>
<path d="M451.4 271.3 C452.9 270.4 456.9 267.6 460.2 266.2 C463.6 264.8 468 263.8 471.6 263 C475.2 262.3 478.6 261.9 481.7 261.8 C484.9 261.7 488 261.9 490.6 262.4 C493.1 262.9 495 263.7 496.9 264.9 C498.8 266.2 500.9 268.1 502 270 C503 271.9 503.4 274.2 503.2 276.3 C503 278.4 501.3 280.5 500.7 282.6 C500.1 284.8 499.2 287.3 499.4 289 C499.6 290.7 501.5 291.5 502 292.8 C502.4 294 502 295.9 502 296.6" fill="none" stroke="#33261a" stroke-width="1.045"/>
<path d="M515.9 299.1 C516.7 300.6 519.4 305.4 520.9 307.9 C522.4 310.5 523.8 312.1 524.7 314.3 C525.7 316.4 526.3 319.5 526.6 320.6" fill="none" stroke="#33261a" stroke-width="1.045"/>
<path d="M535.5 281.4 C535.6 282.4 536.4 285.6 536.1 287.7 C535.8 289.8 532.9 291.5 533.6 294 C534.2 296.6 538.8 301.4 539.9 302.9" fill="none" stroke="#33261a" stroke-width="1.045"/>
<path d="M421.4 312.6 C420.7 314.1 418.3 318.5 417.6 321.5 C416.9 324.4 417.3 327.6 417 330.3 C416.6 333.1 415.9 335 415.7 337.9 C415.5 340.9 416 345.1 415.7 348 C415.4 351 413.7 353.1 413.8 355.6 C413.9 358.2 415.3 360.7 416.3 363.2 C417.4 365.7 419 367.9 420.1 370.8 C421.3 373.8 422.5 377.5 423.3 380.9 C424 384.3 424.4 387.7 424.5 391 C424.6 394.4 424.4 398.5 423.9 401.2 C423.4 403.8 422.6 406.2 421.4 406.8 C420.1 407.5 418.2 405.7 416.3 404.9 C414.4 404.2 411.1 402.8 410 402.4" fill="none" stroke="#33261a" stroke-width="1.045"/>
<path d="M398.6 346.8 C398.4 348 397.1 351.8 397.4 354.4 C397.6 356.9 399.3 360.1 399.9 362 C400.5 363.9 400.9 365.1 401.2 365.7" fill="none" stroke="#33261a" stroke-width="1.045"/>
<path d="M365.7 375.6 C368.3 376.7 376.3 379.9 380.9 382.2 C385.6 384.4 390.4 387 393.6 389.1 C396.7 391.2 397.6 393.5 399.9 394.8 C402.2 396.2 404.9 397.4 407.5 397.4 C410 397.4 413.3 396.5 415.1 394.8 C416.9 393.1 418 389.8 418.2 387.2 C418.4 384.7 417.5 382 416.3 379.7 C415.2 377.3 412.1 374.4 411.3 373.3" fill="none" stroke="#33261a" stroke-width="1.045"/>
<path d="M334.8 399.9 C336.1 400.9 339.5 404.3 343 406.2 C346.5 408.1 351.4 410.1 355.6 411.3 C359.8 412.4 364.5 413.2 368.3 413.2 C372.1 413.2 376.7 411.6 378.4 411.3" fill="none" stroke="#33261a" stroke-width="1.045"/>
<path d="M375.9 406.2 C376.3 405.4 376.7 402.5 378.4 401.2 C380.1 399.8 383 398.6 386 398 C388.9 397.4 392.7 397.5 396.1 397.4 C399.5 397.3 404.5 397.4 406.2 397.4" fill="none" stroke="#33261a" stroke-width="1.045"/>
<path d="M441.6 399.9 C441.4 401.2 441.2 405.2 440.3 407.5 C439.5 409.8 438 412 436.6 413.8 C435.1 415.6 432.3 417.5 431.5 418.2" fill="none" stroke="#33261a" stroke-width="1.045"/>
<path d="M406.2 447.3 C407.5 448 411.1 450.1 413.8 451.7 C416.5 453.3 421.2 455.9 422.6 456.8" fill="none" stroke="#33261a" stroke-width="1.045"/>
<path d="M401.2 455.5 C400.9 457 399.9 461.4 399.9 464.4 C399.9 467.3 400.1 470.9 401.2 473.2 C402.2 475.5 405.4 477.4 406.2 478.3" fill="none" stroke="#33261a" stroke-width="1.045"/>
<path d="M477 330.3 C477.9 331 480.4 332.5 482.1 334.1 C483.8 335.8 485.7 338.4 487.1 340.5 C488.6 342.6 490.3 345.7 490.9 346.8" fill="none" stroke="#33261a" stroke-width="1.045"/>
<path d="M427.7 380.9 C427.5 379.2 426.2 374 426.4 370.8 C426.6 367.6 427.7 364.7 429 362 C430.2 359.2 431.7 356.5 434 354.4 C436.3 352.3 439.5 350.6 442.9 349.3 C446.2 348 452.4 347.2 454.3 346.8" fill="none" stroke="#33261a" stroke-width="1.045"/>
<path d="M431.5 375.9 C431.4 374.6 430.4 370.8 430.9 368.3 C431.3 365.7 432.4 363 434 360.7 C435.6 358.4 437.8 355.8 440.3 354.4 C442.9 352.9 446.2 352.5 449.2 351.8 C452.1 351.2 456.6 350.8 458 350.6" fill="none" stroke="#33261a" stroke-width="1.045"/>
<path d="M360.7 500 C361.5 498.3 363.6 492.4 365.7 489.7 C367.9 486.9 370.6 484.6 373.3 483.3 C376.1 482.1 379.9 481.4 382.2 482.1 C384.5 482.7 386.2 485 387.2 487.1 C388.3 489.2 388.7 492.6 388.5 494.7 C388.3 496.9 386.4 499.1 386 500" fill="none" stroke="#33261a" stroke-width="1.045"/>
<path d="M255.9 468 C256.3 469.3 258.8 473.1 258.4 475.6 C258 478.2 255.9 481.5 253.3 483.2 C250.8 484.9 246.2 484.5 243.2 485.7 C240.3 487 237.3 489.1 235.6 490.8 C233.9 492.5 233.9 494 233.1 495.9 C232.3 497.8 232.9 499.4 230.6 502.2 C228.3 504.9 221.1 509.6 219.2 512.3 C217.3 515 217.7 516.7 219.2 518.6 C220.7 520.5 225.3 522.2 228 523.7 C230.8 525.2 233.9 525.8 235.6 527.5 C237.3 529.2 238.6 531.7 238.2 533.8 C237.7 535.9 235.6 538.6 233.1 540.1 C230.6 541.6 226.8 542.4 223 542.6 C219.2 542.9 213.3 540.7 210.3 541.4 C207.4 542 207.6 544.3 205.3 546.4 C203 548.5 198.5 551.5 196.4 554 C194.3 556.6 193.4 558.7 192.6 561.6 C191.9 564.6 192 567.9 192 571.7 C192 575.5 192.5 582.3 192.6 584.4" fill="none" stroke="#33261a" stroke-width="1.045"/>
<path d="M278.6 450.3 C280.3 452 286.2 456.7 288.7 460.5 C291.3 464.3 292.5 469.3 293.8 473.1 C295.1 476.9 295.9 481.5 296.3 483.2" fill="none" stroke="#33261a" stroke-width="1.045"/>
<path d="M224.3 620 C224 618.3 224 613.1 223 609.7 C221.9 606.2 220.2 602.7 217.9 599.5 C215.6 596.4 211.6 594.3 209.1 590.7 C206.6 587.1 204.1 581.8 202.8 578 C201.4 574.3 200.4 570.7 200.9 567.9 C201.3 565.2 203.1 563.3 205.3 561.6 C207.5 559.9 211.2 558.6 214.1 557.8 C217.1 557.1 220 557.2 223 557.2 C225.9 557.2 229.7 556.7 231.8 557.8 C233.9 559 234.8 561.8 235.6 564.1 C236.5 566.5 236.3 569.2 236.9 571.7 C237.5 574.3 238 577.5 239.4 579.3 C240.9 581.1 243.9 582.5 245.7 582.5 C247.6 582.5 249.1 581.1 250.8 579.3 C252.5 577.5 253.3 573.5 255.9 571.7 C258.4 569.9 262.2 569.2 266 568.6 C269.8 567.9 274.8 567.9 278.6 567.9 C282.4 567.9 285.8 567.9 288.7 568.6 C291.7 569.2 293.9 570 296.3 571.7 C298.7 573.4 302.1 577.5 303.3 578.7" fill="none" stroke="#33261a" stroke-width="1.045"/>
<path d="M330 508.6 C330.5 506.9 331.5 504.1 333 502.5 C334.5 501 337 499.8 339.1 499.5 C341.1 499.2 343.8 499.7 345.1 500.5 C346.5 501.4 347.2 502.9 347.2 504.6 C347.2 506.2 346 508.8 345.1 510.6 C344.3 512.5 343.4 514.3 342.1 515.7 C340.7 517 338.7 518.6 337 518.7 C335.4 518.9 333.2 517.7 332 516.7 C330.8 515.7 330.3 514 330 512.7 C329.6 511.3 329.4 510.3 330 508.6Z" fill="none" stroke="#33261a" stroke-width="0.855"/>
<path d="M331.8 508.7 C332.2 507.4 333 505.2 334.1 504 C335.3 502.8 337.3 501.9 338.8 501.6 C340.4 501.4 342.5 501.8 343.5 502.4 C344.6 503.1 345.1 504.3 345.1 505.6 C345.1 506.9 344.2 508.8 343.5 510.3 C342.9 511.7 342.2 513.1 341.2 514.2 C340.1 515.2 338.6 516.4 337.3 516.5 C336 516.7 334.3 515.8 333.3 515 C332.4 514.2 332 512.9 331.8 511.8 C331.5 510.8 331.4 510 331.8 508.7Z" fill="none" stroke="#33261a" stroke-width="0.855"/>
<path d="M249.6 594.3 C250 592.5 251.8 589.7 253.4 587.6 C254.9 585.6 256.8 583.3 259.1 582 C261.3 580.6 264.6 579.6 266.6 579.6 C268.7 579.6 270.4 580.8 271.4 582 C272.3 583.1 272.8 585 272.3 586.7 C271.9 588.4 270.1 590.6 268.5 592.4 C267 594.1 264.9 596 262.8 597.1 C260.8 598.2 258.3 598.9 256.2 599 C254.2 599.2 251.6 598.9 250.5 598.1 C249.4 597.3 249.1 596 249.6 594.3Z" fill="none" stroke="#33261a" stroke-width="0.855"/>
<path d="M262.4 611.2 C263.2 607.6 270.4 600 274.4 596.8 C278.4 593.6 283.6 591.6 286.4 592 C289.2 592.4 291.6 595.6 291.2 599.2 C290.8 602.8 287.6 610.4 284 613.6 C280.4 616.8 273.2 618.8 269.6 618.4 C266 618 261.6 614.8 262.4 611.2Z" fill="none" stroke="#33261a" stroke-width="0.855"/>
<path d="M257.4 613.1 C258.5 608.4 268 598.4 273.2 594.2 C278.5 590 285.4 587.3 289.1 587.8 C292.7 588.4 295.9 592.6 295.4 597.3 C294.8 602.1 290.6 612.1 285.9 616.3 C281.2 620.5 271.7 623.1 266.9 622.6 C262.2 622.1 256.4 617.9 257.4 613.1Z" fill="none" stroke="#33261a" stroke-width="0.855"/>
<path d="M314 552.8 C314.9 553.8 317.4 557 319.1 559.1 C320.8 561.2 323.3 564.4 324.1 565.4" fill="none" stroke="#33261a" stroke-width="1.045"/>
<path d="M218.6 507.5 C218.9 509.4 218.9 515.9 220.5 518.9 C222 521.8 225.5 523.3 228 525.2 C230.6 527.1 233.9 528.3 235.6 530.2 C237.3 532.1 238.4 534.8 238.2 536.6 C238 538.3 236.5 540.1 234.4 541 C232.3 541.8 229.1 541.5 225.5 541.6 C221.9 541.7 216.7 540.3 212.9 541.6 C209.1 542.9 205.5 546.7 202.8 549.2 C200 551.7 197.9 553.8 196.4 556.8 C195 559.7 194.4 563.1 193.9 566.9 C193.4 570.7 193.4 574.7 193.3 579.5 C193.2 584.4 193 590.7 193.3 596 C193.6 601.2 194.4 606.5 195.2 611.2 C195.9 615.8 197.1 619.6 197.7 623.8 C198.3 628 198.8 632.2 199 636.4 C199.2 640.7 198.1 645.5 199 649.1 C199.8 652.7 201.9 655.2 204 657.9 C206.1 660.7 209.9 662.8 211.6 665.5 C213.3 668.3 213.7 671.6 214.1 674.4 C214.6 677.1 214.1 680.7 214.1 682" fill="none" stroke="#33261a" stroke-width="1.045"/>
<path d="M290 568.2 C288.7 568.3 285.8 568.7 282.4 568.8 C279 568.9 273.6 568.5 269.8 568.8 C266 569.1 262 569.5 259.7 570.7 C257.3 571.8 257.1 574 255.9 575.7 C254.6 577.5 253.5 580.4 252.1 581.4 C250.6 582.5 248.9 582.4 247 582.1 C245.1 581.8 242.4 581 240.7 579.5 C239 578.1 237.7 575.7 236.9 573.2 C236.1 570.7 236.3 566.9 235.6 564.4 C235 561.8 235 559.4 233.1 558 C231.2 556.7 227 556.4 224.3 556.1 C221.5 555.9 219.6 555.8 216.7 556.8 C213.7 557.7 209.1 559.9 206.6 561.8 C204 563.7 202.1 565.4 201.5 568.2 C200.9 570.9 201.7 575.3 202.8 578.3 C203.8 581.2 205.9 583.3 207.8 585.9 C209.7 588.4 212 590.9 214.1 593.4 C216.2 596 218.8 598.3 220.5 601 C222.1 603.8 224 606.9 224.3 609.9 C224.5 612.8 223 615.8 221.7 618.7 C220.5 621.7 218.1 624.6 216.7 627.6 C215.2 630.5 213.5 633.5 212.9 636.4 C212.2 639.4 212.2 642.1 212.9 645.3 C213.5 648.4 215.4 651.6 216.7 655.4 C217.9 659.2 219.6 664.3 220.5 668 C221.3 671.8 220.9 676.3 221.7 678.2 C222.6 680.1 224 680.5 225.5 679.4 C227 678.4 229.3 673.9 230.6 671.8 C231.8 669.7 233.1 668.9 233.1 666.8 C233.1 664.7 230.8 661.7 230.6 659.2 C230.4 656.7 230.6 653.7 231.8 651.6 C233.1 649.5 235.8 647.7 238.2 646.6 C240.5 645.4 243.9 644.2 245.7 644.7 C247.6 645.1 248.9 647.1 249.5 649.1 C250.2 651.1 250.2 654.4 249.5 656.7 C248.9 659 247 661.1 245.7 663 C244.5 664.9 242.8 666.2 242 668 C241.1 669.9 240.9 673.3 240.7 674.4" fill="none" stroke="#33261a" stroke-width="1.045"/>
<path d="M236.9 510 C238.6 511.3 243.2 515.5 247 517.6 C250.8 519.7 255.4 521.3 259.7 522.6 C263.9 524 267.2 525.5 272.3 525.8 C277.4 526.1 287.1 524.8 290 524.5" fill="none" stroke="#33261a" stroke-width="1.045"/>
<path d="M156 659.2 C156.8 659.3 159.6 659.2 161 659.8 C162.5 660.5 164.2 662.5 164.8 663" fill="none" stroke="#33261a" stroke-width="1.045"/>
<path d="M166.1 572.6 C166.9 573.1 169.5 574.7 171.2 575.7 C172.8 576.8 175.4 578.4 176.2 578.9" fill="none" stroke="#33261a" stroke-width="1.045"/>
<path d="M181.9 549.8 C182.3 551 183.8 554.1 184.4 556.8 C185.1 559.4 185.4 563.3 185.7 565.6 C186 568 186.2 569.8 186.3 570.7" fill="none" stroke="#33261a" stroke-width="1.045"/>
</g>
<text x="696.8" y="105.7" font-size="8.4" fill="#2a1a10" text-anchor="middle" dominant-baseline="central" transform="rotate(-40 696.8 105.7)">2.0</text>
<text x="630.4" y="129.1" font-size="8.4" fill="#2a1a10" text-anchor="middle" dominant-baseline="central" transform="rotate(25 630.4 129.1)">2.5</text>
<text x="619" y="137.4" font-size="8.4" fill="#2a1a10" text-anchor="middle" dominant-baseline="central" transform="rotate(65 619 137.4)">2.5</text>
<text x="634.2" y="151.3" font-size="8.4" fill="#2a1a10" text-anchor="middle" dominant-baseline="central" transform="rotate(-75 634.2 151.3)">3.0</text>
<text x="590.6" y="154.4" font-size="8.4" fill="#2a1a10" text-anchor="middle" dominant-baseline="central" transform="rotate(20 590.6 154.4)">2.5</text>
<text x="613.3" y="174" font-size="8.4" fill="#2a1a10" text-anchor="middle" dominant-baseline="central" transform="rotate(80 613.3 174)">2.0</text>
<text x="590.6" y="189.8" font-size="8.4" fill="#2a1a10" text-anchor="middle" dominant-baseline="central" transform="rotate(0 590.6 189.8)">2.5</text>
<text x="593.1" y="133.6" font-size="8.4" fill="#2a1a10" text-anchor="middle" dominant-baseline="central" transform="rotate(30 593.1 133.6)">1.5</text>
<text x="561.5" y="167.7" font-size="8.4" fill="#2a1a10" text-anchor="middle" dominant-baseline="central" transform="rotate(45 561.5 167.7)">1.0</text>
<text x="538.6" y="196.7" font-size="8.8" fill="#2a1a10" text-anchor="middle" dominant-baseline="central" transform="rotate(8 538.6 196.7)">2.0</text>
<text x="488.7" y="263" font-size="9.7" fill="#2a1a10" text-anchor="middle" dominant-baseline="central" transform="rotate(10 488.7 263)">2.0</text>
<text x="471.6" y="345.2" font-size="10.6" fill="#2a1a10" text-anchor="middle" dominant-baseline="central" transform="rotate(5 471.6 345.2)">1.5</text>
<text x="547.5" y="281.4" font-size="8.4" fill="#2a1a10" text-anchor="middle" dominant-baseline="central" transform="rotate(-25 547.5 281.4)">2.5</text>
<text x="454.5" y="300.3" font-size="8.4" fill="#2a1a10" text-anchor="middle" dominant-baseline="central" transform="rotate(85 454.5 300.3)">2.0</text>
<text x="507.6" y="228.3" font-size="8.4" fill="#2a1a10" text-anchor="middle" dominant-baseline="central" transform="rotate(80 507.6 228.3)">1.5</text>
<text x="591.7" y="201.7" font-size="8.4" fill="#2a1a10" text-anchor="middle" dominant-baseline="central" transform="rotate(50 591.7 201.7)">1.0</text>
<text x="617" y="173.9" font-size="8.4" fill="#2a1a10" text-anchor="middle" dominant-baseline="central" transform="rotate(-80 617 173.9)">2.5</text>
<text x="523.4" y="294" font-size="8.4" fill="#2a1a10" text-anchor="middle" dominant-baseline="central" transform="rotate(-10 523.4 294)">2.5</text>
<text x="495.6" y="309.2" font-size="8.4" fill="#2a1a10" text-anchor="middle" dominant-baseline="central" transform="rotate(40 495.6 309.2)">1.5</text>
<text x="436.6" y="350.6" font-size="8.8" fill="#2a1a10" text-anchor="middle" dominant-baseline="central" transform="rotate(-12 436.6 350.6)">2.0</text>
<text x="407.5" y="371.4" font-size="8.8" fill="#2a1a10" text-anchor="middle" dominant-baseline="central" transform="rotate(45 407.5 371.4)">1.0</text>
<text x="386" y="463.1" font-size="9.7" fill="#2a1a10" text-anchor="middle" dominant-baseline="central" transform="rotate(0 386 463.1)">1.5</text>
<text x="430.2" y="417.6" font-size="8.4" fill="#2a1a10" text-anchor="middle" dominant-baseline="central" transform="rotate(20 430.2 417.6)">1.5</text>
<text x="399.9" y="413.8" font-size="8.4" fill="#2a1a10" text-anchor="middle" dominant-baseline="central" transform="rotate(60 399.9 413.8)">2.0</text>
<text x="359.4" y="449.2" font-size="8.4" fill="#2a1a10" text-anchor="middle" dominant-baseline="central" transform="rotate(0 359.4 449.2)">2.0</text>
<text x="327.8" y="427.7" font-size="8.4" fill="#2a1a10" text-anchor="middle" dominant-baseline="central" transform="rotate(80 327.8 427.7)">1.0</text>
<text x="325.3" y="480.8" font-size="8.4" fill="#2a1a10" text-anchor="middle" dominant-baseline="central" transform="rotate(10 325.3 480.8)">1.5</text>
<text x="337.9" y="463.1" font-size="8.4" fill="#2a1a10" text-anchor="middle" dominant-baseline="central" transform="rotate(70 337.9 463.1)">2.5</text>
<text x="417.6" y="426.4" font-size="8.4" fill="#2a1a10" text-anchor="middle" dominant-baseline="central" transform="rotate(30 417.6 426.4)">1.5</text>
<text x="217.9" y="543.3" font-size="8.8" fill="#2a1a10" text-anchor="middle" dominant-baseline="central" transform="rotate(0 217.9 543.3)">1.5</text>
<text x="293.2" y="522.4" font-size="8.4" fill="#2a1a10" text-anchor="middle" dominant-baseline="central" transform="rotate(85 293.2 522.4)">2.0</text>
<text x="290" y="499" font-size="8.4" fill="#2a1a10" text-anchor="middle" dominant-baseline="central" transform="rotate(0 290 499)">2.5</text>
<text x="211.6" y="561" font-size="8.4" fill="#2a1a10" text-anchor="middle" dominant-baseline="central" transform="rotate(35 211.6 561)">2.0</text>
<text x="301.4" y="490.8" font-size="8.4" fill="#2a1a10" text-anchor="middle" dominant-baseline="central" transform="rotate(75 301.4 490.8)">2.5</text>
<text x="362.1" y="448.4" font-size="8.4" fill="#2a1a10" text-anchor="middle" dominant-baseline="central" transform="rotate(0 362.1 448.4)">2.0</text>
<text x="326.7" y="480.7" font-size="8.4" fill="#2a1a10" text-anchor="middle" dominant-baseline="central" transform="rotate(15 326.7 480.7)">1.5</text>
<text x="301.4" y="541.4" font-size="8.4" fill="#2a1a10" text-anchor="middle" dominant-baseline="central" transform="rotate(60 301.4 541.4)">1.5</text>
<text x="339.3" y="537.6" font-size="8.4" fill="#2a1a10" text-anchor="middle" dominant-baseline="central" transform="rotate(0 339.3 537.6)">2.0</text>
<text x="354.5" y="518.6" font-size="8.4" fill="#2a1a10" text-anchor="middle" dominant-baseline="central" transform="rotate(0 354.5 518.6)">1.0</text>
<text x="260.9" y="578" font-size="8.4" fill="#2a1a10" text-anchor="middle" dominant-baseline="central" transform="rotate(-40 260.9 578)">2.5</text>
<text x="245.7" y="614.7" font-size="8.4" fill="#2a1a10" text-anchor="middle" dominant-baseline="central" transform="rotate(10 245.7 614.7)">2.0</text>
<text x="216.7" y="543.5" font-size="8.8" fill="#2a1a10" text-anchor="middle" dominant-baseline="central" transform="rotate(0 216.7 543.5)">1.5</text>
<text x="210.3" y="560.6" font-size="8.4" fill="#2a1a10" text-anchor="middle" dominant-baseline="central" transform="rotate(-25 210.3 560.6)">2.0</text>
<text x="175.6" y="584" font-size="8.4" fill="#2a1a10" text-anchor="middle" dominant-baseline="central" transform="rotate(60 175.6 584)">1.0</text>
<text x="166.1" y="627.6" font-size="8.4" fill="#2a1a10" text-anchor="middle" dominant-baseline="central" transform="rotate(0 166.1 627.6)">1.0</text>
<text x="249.5" y="613.7" font-size="8.4" fill="#2a1a10" text-anchor="middle" dominant-baseline="central" transform="rotate(10 249.5 613.7)">2.0</text>
<text x="267.2" y="637.7" font-size="8.4" fill="#2a1a10" text-anchor="middle" dominant-baseline="central" transform="rotate(-60 267.2 637.7)">2.5</text>
<path d="M390.3 329.5 L626.1 84 L614 74.8 L618.4 71 L639.9 62.1 L685.4 52 L741 49.1 L743.6 65.3 L748 96.9 L729.7 113.3 L684.8 158.2 L681.6 147.8 L651.3 175.9 L628.5 204.4 L608 227 L609.2 232 L597 243.8 L546.6 254.8 L539.9 271.3 L531.5 295.8 L476.7 330.1Z" fill="none" stroke="#2a2af0" stroke-width="1.15" stroke-linejoin="miter"/>
<path d="M125.6 650.3 L147.8 645.3 L134.5 620.6 L184.4 573.9 L186.3 570.7 L174.3 559.9 L181.9 549.8 L234.4 487 L243.2 478.2 L407.5 397.4 L410.6 412.5 L413.2 439.1 L406.2 446.7 L360.8 492.7 L343.1 513.6 L314 552.8 L303.3 578.7 L280 587.5 L284 629 L292 627 L243.3 694" fill="none" stroke="#2a2af0" stroke-width="1.15" stroke-linejoin="miter"/>
</g>
<g clip-path="url(#cb)">
<clipPath id="stripB"><path d="M961.4 620.2 L970.2 615.2 L982.9 607.6 L991.7 598.7 L1000.6 593.7 L1010.7 592.4 L1020.8 588.6 L1030.9 577.2 L1037.2 570.9 L1044.8 560.8 L1051.2 549.4 L1060 540.6 L1063.8 530.5 L1076.4 527.9 L1080 519.1 L1085.1 514 L1092.6 503.9 L1101.5 493.8 L1107.8 486.2 L1115.4 476.1 L1123 466 L1130.6 455.9 L1140.7 449.5 L1150.8 440.7 L1160.9 434.4 L1168.5 426.8 L1178.6 416.7 L1187.5 411.6 L1196.3 400.2 L1206.4 391.4 L1214 383.8 L1219.1 380 L1220.2 378.9 L1229.1 373.8 L1240.5 368.7 L1250.6 358.6 L1260.7 351 L1270.8 343.4 L1280.9 335.9 L1288.5 329.5 L1292.3 320.7 L1292.3 313.1 L1297.4 305.5 L1303.7 296.7 L1311.3 289.1 L1321.4 276.4 L1327.7 267.6 L1328.3 260 L1330 249.9 L1330 248.9 L1337.6 243.8 L1349 233.7 L1359.1 218.5 L1370.5 208.4 L1383.1 193.2 L1395.7 180.6 L1405.9 167.9 L1417.2 155.3 L1428.6 147.7 L1438.7 141.4 L1448.9 130 L1447.6 131.3 L1457.7 118.6 L1465.3 112.3 L1475.4 107.2 L1483 100.9 L1506.4 77.5 L1495.6 69.3 L1518.4 54.1 L1563.9 44 L1621.4 42.5 L1623.3 61.7 L1627.1 88.9 L1623.3 92.1 L1614.5 100.9 L1604.4 108.5 L1596.8 117.4 L1587.9 122.4 L1579.1 127.5 L1571.5 133.8 L1565.2 140.1 L1561.4 139.5 L1553.8 154 L1548.7 160.3 L1541.2 169.2 L1536.1 176.8 L1528.5 185.6 L1520.9 197 L1513.3 208.4 L1509.5 218.5 L1494.4 229.9 L1481.7 237.5 L1469.1 243.8 L1456.4 255.2 L1447.6 259 L1441.3 269.1 L1434.9 281.7 L1428.6 294.4 L1418.5 302 L1410.9 312.1 L1403.3 322.2 L1397 330 L1397.2 325.7 L1387.1 330.8 L1377 338.4 L1372 343.4 L1364.4 348.5 L1351.7 354.8 L1339.1 362.4 L1326.4 368.7 L1318.9 375.1 L1311.3 378.9 L1310 381.4 L1318.9 390.2 L1330.2 400.3 L1341 410.5 L1334 423.1 L1326.4 435.7 L1318.9 447.1 L1300 468.5 L1294.9 471 L1287.4 481.2 L1277.2 491.3 L1269.7 498.9 L1262.1 506.4 L1254.5 511.5 L1246.9 519.1 L1238 526.7 L1229.2 534.3 L1221.6 541.8 L1214 549.4 L1206.4 560.8 L1201.4 569.7 L1197.6 580 L1170 624 L1164.9 629.1 L1157.4 636.7 L1147.2 648 L1134.6 659.4 L1127 669.5 L1118.2 676.5 L1089.1 667 L1063.8 658.2 L1038.5 649.3 L1010.7 639.8 L981.6 629.1Z"/></clipPath>
<g clip-path="url(#stripB)">
<path d="M961.4 620.2 L970.2 615.2 L982.9 607.6 L991.7 598.7 L1000.6 593.7 L1010.7 592.4 L1020.8 588.6 L1030.9 577.2 L1037.2 570.9 L1044.8 560.8 L1051.2 549.4 L1060 540.6 L1063.8 530.5 L1076.4 527.9 L1080 519.1 L1085.1 514 L1092.6 503.9 L1101.5 493.8 L1107.8 486.2 L1115.4 476.1 L1123 466 L1130.6 455.9 L1140.7 449.5 L1150.8 440.7 L1160.9 434.4 L1168.5 426.8 L1178.6 416.7 L1187.5 411.6 L1196.3 400.2 L1206.4 391.4 L1214 383.8 L1219.1 380 L1220.2 378.9 L1229.1 373.8 L1240.5 368.7 L1250.6 358.6 L1260.7 351 L1270.8 343.4 L1280.9 335.9 L1288.5 329.5 L1292.3 320.7 L1292.3 313.1 L1297.4 305.5 L1303.7 296.7 L1311.3 289.1 L1321.4 276.4 L1327.7 267.6 L1328.3 260 L1330 249.9 L1330 248.9 L1337.6 243.8 L1349 233.7 L1359.1 218.5 L1370.5 208.4 L1383.1 193.2 L1395.7 180.6 L1405.9 167.9 L1417.2 155.3 L1428.6 147.7 L1438.7 141.4 L1448.9 130 L1447.6 131.3 L1457.7 118.6 L1465.3 112.3 L1475.4 107.2 L1483 100.9 L1506.4 77.5 L1495.6 69.3 L1518.4 54.1 L1563.9 44 L1621.4 42.5 L1623.3 61.7 L1627.1 88.9 L1623.3 92.1 L1614.5 100.9 L1604.4 108.5 L1596.8 117.4 L1587.9 122.4 L1579.1 127.5 L1571.5 133.8 L1565.2 140.1 L1561.4 139.5 L1553.8 154 L1548.7 160.3 L1541.2 169.2 L1536.1 176.8 L1528.5 185.6 L1520.9 197 L1513.3 208.4 L1509.5 218.5 L1494.4 229.9 L1481.7 237.5 L1469.1 243.8 L1456.4 255.2 L1447.6 259 L1441.3 269.1 L1434.9 281.7 L1428.6 294.4 L1418.5 302 L1410.9 312.1 L1403.3 322.2 L1397 330 L1397.2 325.7 L1387.1 330.8 L1377 338.4 L1372 343.4 L1364.4 348.5 L1351.7 354.8 L1339.1 362.4 L1326.4 368.7 L1318.9 375.1 L1311.3 378.9 L1310 381.4 L1318.9 390.2 L1330.2 400.3 L1341 410.5 L1334 423.1 L1326.4 435.7 L1318.9 447.1 L1300 468.5 L1294.9 471 L1287.4 481.2 L1277.2 491.3 L1269.7 498.9 L1262.1 506.4 L1254.5 511.5 L1246.9 519.1 L1238 526.7 L1229.2 534.3 L1221.6 541.8 L1214 549.4 L1206.4 560.8 L1201.4 569.7 L1197.6 580 L1170 624 L1164.9 629.1 L1157.4 636.7 L1147.2 648 L1134.6 659.4 L1127 669.5 L1118.2 676.5 L1089.1 667 L1063.8 658.2 L1038.5 649.3 L1010.7 639.8 L981.6 629.1Z" fill="#FEE2BA"/>
<path d="M1605.6 44 C1604.7 46.6 1600.4 57.6 1598 61.7 C1595.7 65.9 1588.8 75.6 1585.4 79.4 C1582 83.3 1571.9 92.3 1569 94.6 C1566 96.9 1561.9 98.3 1560 99.2 C1558.1 100.1 1554.3 101.4 1552.4 102.3 C1550.5 103.2 1545.5 105.5 1543.6 106.7 C1541.6 108 1537.2 111.4 1535.3 113.1 C1533.5 114.7 1529.3 118.8 1527.7 120.6 C1526.2 122.5 1523 127.1 1522.1 128.9 C1521.1 130.6 1519.9 134.1 1519.5 135.8 C1519.1 137.5 1518.7 141.7 1518.6 143.4 C1518.6 145.1 1519.2 148.7 1518.9 150.4 C1518.6 152 1516.8 156.1 1515.9 157.8 C1514.9 159.6 1511.8 163.8 1510.8 165.4 C1509.8 167 1507.9 170.6 1507 171.7 C1506.1 172.8 1504.5 174.4 1503.2 174.9 C1501.9 175.3 1497.4 175.2 1495.6 175.5 C1493.9 175.9 1489.1 177.8 1488 178 C1487 178.3 1487.5 177.6 1486.8 178 C1486 178.5 1482.5 180.7 1481.7 181.8 C1481 183 1480.5 186.7 1480.5 188.2 C1480.5 189.6 1481.1 193.2 1481.7 194.5 C1482.3 195.8 1484.9 198.1 1485.5 199.5 C1486.2 201 1487.3 205.5 1487.4 207.1 C1487.5 208.7 1486.7 212.3 1486.2 213.4 C1485.6 214.6 1484.2 216.4 1483 217.2 C1481.7 218.1 1477 220.2 1475.4 221 C1473.8 221.9 1470 223.8 1469.1 224.8 C1468.1 225.9 1467 228.7 1467.2 229.9 C1467.3 231.1 1469.7 233.8 1470.3 234.9 C1471 236.1 1474.5 237.5 1472.9 240 C1471.3 242.5 1461.8 255.6 1456.4 256.4 C1451.1 257.2 1431.2 247 1426.7 247 C1422.3 247 1419.5 254.4 1418.5 256.4 C1417.5 258.4 1419.4 262.8 1418.5 264 C1417.6 265.2 1412.4 265.5 1410.9 266.6 C1409.4 267.6 1406.2 271.4 1405.9 272.9 C1405.6 274.4 1407.5 277.9 1408.4 279.2 C1409.3 280.5 1413.2 283.2 1413.4 284.3 C1413.7 285.3 1412.2 286.9 1410.9 288 C1409.6 289.2 1404.4 292.6 1402.1 294.4 C1399.7 296.1 1393.2 301.5 1390.7 303.2 C1388.2 305 1382.4 308.9 1380.8 309.3 C1379.2 309.7 1378.2 307.5 1377 306.8 C1375.8 306 1372.2 303.1 1370.7 303 C1369.2 302.8 1365.5 304.6 1364.4 305.5 C1363.3 306.4 1361.8 309.4 1361.2 310.6 C1360.6 311.8 1360.1 314.6 1359.3 315.6 C1358.5 316.7 1355.7 319 1354.3 319.4 C1352.8 319.9 1348.3 319.9 1346.7 319.4 C1345 319 1341.4 316.7 1340.3 315.6 C1339.3 314.6 1338.6 311.5 1337.8 310.6 C1337.1 309.7 1334.9 307.9 1334 308 C1333.1 308.2 1330.7 310.7 1330.2 311.8 C1329.8 313 1330.4 316.7 1330.2 318.2 C1330.1 319.6 1330.1 323.5 1329 324.5 C1327.8 325.4 1322.2 326.4 1320.1 326.4 C1318.1 326.4 1312.7 325.6 1311.3 324.5 C1309.8 323.4 1308.2 318.8 1307.5 316.9 C1306.7 315 1305.4 310.1 1304.9 308 C1304.5 306 1302.9 300.4 1303.7 299.2 C1304.4 298 1309.5 297.8 1311.3 297.9 C1313 298.1 1317.1 300.6 1318.9 300.5 C1320.6 300.3 1325.3 297.7 1326.4 296.7 C1327.6 295.6 1328.7 294 1329 291.6 C1329.3 289.2 1329.3 279.2 1329 276.4 C1328.7 273.6 1326.5 270.2 1326.4 267.6 C1326.4 264.9 1331.4 261.6 1328.3 253.7 C1325.3 245.8 1282.3 224.9 1300 200 C1317.7 175.1 1449.7 59.8 1480 40 C1510.3 20.2 1545.3 30 1560 30 C1574.7 30 1600.7 38.4 1606 40 C1611.3 41.6 1606.6 41.5 1605.6 44Z" fill="#FEC893"/>
<path d="M1587.9 44 C1586.4 46.3 1579.8 55.1 1576.6 59.2 C1573.3 63.3 1563.2 76.1 1560 79.6 C1556.7 83 1551 87.1 1548.6 89 C1546.3 91 1542.1 94.1 1539.8 96 C1537.4 97.9 1530.6 103.6 1528.4 105.5 C1526.2 107.3 1522.4 110.4 1520.8 111.8 C1519.2 113.2 1515.9 116.6 1514.5 117.5 C1513 118.4 1509.8 119.5 1508.2 119.8 C1506.5 120 1502.3 119.8 1500.6 119.4 C1498.8 119 1494.6 116.9 1493 116.2 C1491.4 115.6 1488.1 114.1 1486.7 113.7 C1485.2 113.2 1481.7 112.6 1480.3 112.4 C1478.9 112.3 1474.9 111.4 1474.6 112.4 C1474.4 113.4 1477.4 119.1 1477.9 121.2 C1478.5 123.2 1478.9 128.1 1479.2 130 C1479.5 131.9 1480.5 135.7 1480.5 137.6 C1480.5 139.5 1480.2 145.1 1479.2 146.4 C1478.2 147.8 1473 148.1 1471.6 149 C1470.2 149.9 1467.8 152.5 1467.2 154 C1466.6 155.5 1465.6 160.4 1466.6 161.6 C1467.5 162.8 1473.5 163.7 1475.4 164.1 C1477.3 164.6 1481.7 164.8 1483 165.4 C1484.3 166 1486.3 168.8 1486.8 169.2 C1487.2 169.6 1486.7 168.6 1486.8 169.2 C1486.9 169.8 1487.9 173.1 1487.4 174.3 C1487 175.4 1484.2 178.1 1483 179.3 C1481.7 180.5 1477.7 183 1476.7 184.4 C1475.6 185.7 1474.4 189.1 1474.1 190.7 C1473.9 192.3 1474.2 196.7 1474.8 198.3 C1475.4 199.9 1478.4 203.4 1479.2 204.6 C1480 205.8 1482 207.7 1481.7 208.4 C1481.4 209.1 1478.1 210.6 1476.7 210.9 C1475.2 211.2 1470.9 210.6 1469.1 210.9 C1467.3 211.3 1463.1 213.8 1461.5 214.1 C1459.9 214.4 1456.6 214 1455.2 213.4 C1453.7 212.9 1450.5 210.1 1448.9 209.7 C1447.2 209.2 1442.9 209.2 1441.3 209.7 C1439.6 210.1 1436.3 212.1 1434.9 213.4 C1433.6 214.8 1430.9 219 1429.9 221 C1428.9 223.1 1427.1 228.6 1426.1 231.2 C1425.1 233.7 1422.5 240.5 1421 242.5 C1419.6 244.6 1415.2 247.7 1413.4 248.9 C1411.7 250 1407.8 251.7 1405.9 252 C1403.9 252.3 1398.8 251.9 1397 251.4 C1395.2 250.9 1391.6 248.8 1390.7 247.6 C1389.7 246.4 1388.6 242.9 1388.8 241.3 C1388.9 239.6 1390.8 235.4 1392 233.7 C1393.1 231.9 1396.7 228 1398.3 226.1 C1399.9 224.2 1404.1 219 1405.9 217.2 C1407.6 215.5 1412 212.2 1413.4 210.9 C1414.9 209.6 1417.5 207 1418.5 205.9 C1419.5 204.7 1421.3 201.6 1422.3 200.8 C1423.3 200 1426.4 199.5 1427.4 198.9 C1428.3 198.3 1430.4 196.6 1430.5 195.7 C1430.7 194.9 1429.4 192.4 1428.6 192 C1427.8 191.5 1424.7 191.7 1423.6 192 C1422.4 192.2 1420.6 194.1 1418.5 194.5 C1416.4 194.9 1408.8 195 1405.9 195.1 C1402.9 195.3 1395.9 195.7 1393.2 195.7 C1390.5 195.8 1384.7 195.7 1382.5 195.7 C1380.3 195.7 1372.2 201.1 1374.3 195.7 C1376.3 190.4 1387.7 168.2 1400 150 C1412.3 131.8 1461.3 54 1480 40 C1498.7 26 1547.2 30 1560 30 C1572.8 30 1586.7 38.4 1590 40 C1593.3 41.6 1589.5 41.8 1587.9 44Z" fill="#FDBA78"/>
<path d="M1572.8 44.7 C1571 47.1 1562.9 57.9 1560 61.2 C1557.1 64.6 1550.3 70.9 1548 73.2 C1545.6 75.6 1541.6 79.7 1539.8 81.4 C1537.9 83.2 1533.9 86.8 1532.2 88.4 C1530.4 90 1526.4 93.8 1524.6 95.4 C1522.8 96.9 1518.6 100.4 1517 101.7 C1515.4 103 1512.2 105.9 1510.7 106.7 C1509.2 107.6 1505.9 109 1504.4 109.3 C1502.8 109.5 1499 109.1 1497.4 108.6 C1495.8 108.2 1492 106.4 1490.4 105.5 C1488.9 104.6 1485.5 101.9 1484.5 101 C1483.5 100.2 1483.4 98.5 1481.7 98.4 C1480 98.3 1467.9 106.8 1470 100 C1472.1 93.2 1489.5 48.2 1500 40 C1510.5 31.8 1551.2 30 1560 30 C1568.8 30 1573.5 38.3 1575 40 C1576.5 41.7 1574.5 42.2 1572.8 44.7Z" fill="#FDAE62"/>
<path d="M1557.6 45.9 C1555.8 49.4 1547.2 57.6 1544.8 60 C1542.4 62.3 1539.1 64.7 1537.2 66.3 C1535.3 67.9 1530.2 72.3 1528.4 73.9 C1526.5 75.4 1522.9 78.2 1521.4 79.6 C1520 80.9 1517.2 83.8 1515.7 85.2 C1514.3 86.6 1510.1 90.5 1508.8 91.6 C1507.5 92.6 1505.4 93.8 1504.4 94.1 C1503.3 94.4 1501 94.5 1499.9 94.1 C1498.9 93.7 1496.3 91.6 1495.5 90.9 C1494.7 90.3 1494.9 89.6 1493.1 88.3 C1491.3 87 1479.2 85.6 1480 80 C1480.8 74.4 1490.7 45.8 1500 40 C1509.3 34.2 1553.3 29.3 1560 30 C1566.7 30.7 1559.4 42.4 1557.6 45.9Z" fill="#FD9A36"/>
<path d="M1622.7 66.8 C1620 68.8 1618.6 74.4 1617 76.9 C1615.5 79.4 1611 85.8 1609.4 88.3 C1607.8 90.8 1604.3 96 1603.1 98.4 C1601.9 100.8 1600 106 1599.3 108.5 C1598.6 111 1592 120.9 1596.8 119.9 C1601.5 118.9 1635 107 1640 100 C1645 93 1642 63.9 1640 60 C1638 56.1 1625.4 64.8 1622.7 66.8Z" fill="#FFF6DA"/>
<path d="M1556.3 152.8 C1554.3 153.5 1550.5 152.2 1548.7 152.8 C1547 153.4 1543.2 156.6 1541.2 157.8 C1539.1 159 1533.1 161.7 1531 162.9 C1529 164.1 1525.1 166.3 1523.4 167.9 C1521.8 169.6 1518.3 174.4 1517.1 176.8 C1515.9 179.1 1514.1 185.8 1513.3 188.2 C1512.6 190.5 1511.1 194.9 1510.8 197 C1510.5 199.1 1510.8 203.2 1510.8 205.9 C1510.8 208.5 1508.7 221.1 1510.8 220 C1512.9 219 1522 205.6 1528.5 197 C1535 188.4 1563.2 151.6 1566.4 146.4 C1569.7 141.3 1558.4 152 1556.3 152.8Z" fill="#FFF6DA"/>
<path d="M1539.9 126.2 C1540.4 124.5 1542.2 121.8 1543.7 121.2 C1545.2 120.5 1547.5 121.4 1548.7 122.4 C1550 123.5 1551.3 125.7 1551.3 127.5 C1551.3 129.3 1550 132.1 1548.7 133.2 C1547.5 134.2 1545 134.1 1543.7 133.8 C1542.3 133.5 1541.2 132.5 1540.5 131.3 C1539.9 130 1539.4 127.9 1539.9 126.2Z" fill="#FFF6DA" stroke="#4a4540" stroke-width="0.935"/>
<path d="M1460.2 164.1 C1459.9 165.5 1458.5 169.8 1458.3 171.7 C1458.2 173.6 1459 178.5 1459 180.6 C1458.9 182.6 1458.4 187.8 1457.7 189.4 C1457 191 1453.8 194.2 1452.6 194.5 C1451.5 194.8 1448.8 193 1447.6 192 C1446.4 190.9 1443.7 187 1442.5 185.6 C1441.3 184.3 1438.8 181.6 1437.5 180.6 C1436.1 179.5 1432.2 178.1 1431.2 176.8 C1430.1 175.5 1428.6 171 1428.6 169.2 C1428.6 167.4 1430 162.9 1431.2 161.6 C1432.3 160.4 1436.8 159 1438.7 158.4 C1440.7 157.9 1446.1 157.8 1447.6 157.2 C1449.1 156.5 1451.1 154.2 1451.4 152.8 C1451.7 151.4 1450.4 146.8 1450.1 145.2 C1449.8 143.5 1448.1 139.7 1448.9 138.9 C1449.6 138 1454.4 137.1 1456.4 137.6 C1458.5 138 1465.2 141.2 1466.6 142.6 C1467.9 144.1 1468.1 148.8 1467.8 150.2 C1467.5 151.7 1464.8 154.1 1464 155.3 C1463.3 156.5 1461.9 159.3 1461.5 160.3 C1461.1 161.4 1460.6 162.8 1460.2 164.1Z" fill="#FEC893"/>
<path d="M1440 173 C1440.5 171.1 1442.1 168.4 1443.8 167.3 C1445.5 166.2 1448.6 165.9 1450.1 166.7 C1451.6 167.4 1452.5 169.8 1452.6 171.7 C1452.8 173.6 1452 176.6 1450.7 178 C1449.5 179.5 1446.7 180.5 1445.1 180.6 C1443.4 180.7 1441.5 179.9 1440.6 178.7 C1439.8 177.4 1439.5 174.9 1440 173Z" fill="#FEE2BA" stroke="#4a4540" stroke-width="0.935"/>
<path d="M1454.5 151.5 C1454.8 149.4 1455.1 146 1456.4 144.5 C1457.8 143.1 1461.1 142.1 1462.8 142.6 C1464.4 143.2 1466 145.6 1466.6 147.7 C1467.1 149.8 1467 153.4 1465.9 155.3 C1464.9 157.2 1462 158.8 1460.2 159.1 C1458.4 159.4 1456.1 158.4 1455.2 157.2 C1454.2 155.9 1454.3 153.6 1454.5 151.5Z" fill="#FEE2BA" stroke="#4a4540" stroke-width="0.935"/>
<path d="M1486.8 132.5 C1486.8 130.9 1488 128.3 1489.3 127.5 C1490.6 126.6 1493.1 126.6 1494.4 127.5 C1495.6 128.3 1496.9 130.9 1496.9 132.5 C1496.9 134.1 1495.6 136.2 1494.4 137 C1493.1 137.7 1490.6 137.7 1489.3 137 C1488 136.2 1486.8 134.1 1486.8 132.5Z" fill="#FEE2BA" stroke="#4a4540" stroke-width="0.935"/>
<path d="M1464.7 171.7 C1466.7 170.4 1474.4 169 1476.7 169.8 C1479 170.7 1478.6 174.6 1478.6 176.8 C1478.6 179 1478.5 182.1 1476.7 183.1 C1474.9 184.2 1469.8 183.9 1467.8 183.1 C1465.8 182.3 1465.2 179.9 1464.7 178 C1464.1 176.1 1462.7 173.1 1464.7 171.7Z" fill="#FDAE62" stroke="#4a4540" stroke-width="0.935"/>
<path d="M1483 184.4 C1484.1 183 1487.8 183.5 1490.6 183.7 C1493.3 183.9 1498.1 184.1 1499.4 185.6 C1500.8 187.2 1500.3 191.7 1498.8 193.2 C1497.3 194.7 1493.1 194.7 1490.6 194.5 C1488 194.3 1484.9 193.6 1483.6 192 C1482.4 190.3 1481.8 185.7 1483 184.4Z" fill="#FFF6DA" stroke="#4a4540" stroke-width="0.935"/>
<path d="M1441.9 171.7 C1442.3 169.7 1444.7 167.8 1446.3 167.3 C1447.9 166.8 1450.3 167.4 1451.4 168.6 C1452.4 169.7 1452.9 172.5 1452.6 174.3 C1452.4 176 1451.6 178.5 1450.1 179.3 C1448.6 180.2 1445.2 180.6 1443.8 179.3 C1442.4 178 1441.5 173.7 1441.9 171.7Z" fill="#FEE2BA"/>
<path d="M1441.9 171.7 C1442.3 169.7 1444.7 167.8 1446.3 167.3 C1447.9 166.8 1450.3 167.4 1451.4 168.6 C1452.4 169.7 1452.9 172.5 1452.6 174.3 C1452.4 176 1451.6 178.5 1450.1 179.3 C1448.6 180.2 1445.2 180.6 1443.8 179.3 C1442.4 178 1441.5 173.7 1441.9 171.7Z" fill="#FEE2BA" stroke="#4a4540" stroke-width="0.935"/>
<path d="M1355.3 245.1 C1357.6 244.2 1362.2 243.8 1365.4 243.8 C1368.6 243.8 1371.7 244 1374.3 245.1 C1376.8 246.1 1379.3 247.8 1380.6 250.1 C1381.8 252.4 1381.8 256 1381.8 259 C1381.8 261.9 1381.6 265.3 1380.6 267.8 C1379.5 270.3 1377.2 272.2 1375.5 274.1 C1373.8 276 1371.7 276.9 1370.5 279.2 C1369.2 281.5 1368.6 284.9 1367.9 288 C1367.3 291.2 1367.5 295 1366.7 298.2 C1365.8 301.3 1364.8 304.5 1362.9 307 C1361 309.5 1357.8 312.3 1355.3 313.3 C1352.8 314.4 1349.8 314.4 1347.7 313.3 C1345.6 312.3 1343.9 309.5 1342.6 307 C1341.4 304.5 1340.5 301.3 1340.1 298.2 C1339.7 295 1339.7 291.8 1340.1 288 C1340.5 284.3 1341.6 279.4 1342.6 275.4 C1343.7 271.4 1345.4 267.4 1346.4 264 C1347.5 260.7 1348.1 257.7 1349 255.2 C1349.8 252.6 1350.4 250.5 1351.5 248.9 C1352.5 247.2 1353 245.9 1355.3 245.1Z" fill="#FDBA78" stroke="#4a4540" stroke-width="0.935"/>
<path d="M1344.5 294.4 C1344.5 292.1 1344.2 288.9 1345.2 286.8 C1346.1 284.7 1348.3 282.4 1350.2 281.7 C1352.1 281.1 1354.9 281.7 1356.6 283 C1358.2 284.3 1359.8 286.8 1360.3 289.3 C1360.9 291.8 1360.6 295.6 1359.7 298.2 C1358.9 300.7 1357.1 303.2 1355.3 304.5 C1353.5 305.7 1350.7 306.4 1349 305.7 C1347.3 305.1 1345.9 302.6 1345.2 300.7 C1344.4 298.8 1344.5 296.7 1344.5 294.4Z" fill="#FDAE62" stroke="#4a4540" stroke-width="0.935"/>
<path d="M1442.5 240 C1443 237.9 1445.3 237.1 1447.6 236.2 C1449.9 235.4 1453.9 234.7 1456.4 234.9 C1459 235.2 1461.5 236 1462.8 237.5 C1464 238.9 1464.7 241.7 1464 243.8 C1463.4 245.9 1461.1 248.7 1459 250.1 C1456.9 251.5 1453.7 252.2 1451.4 252 C1449.1 251.8 1446.5 250.9 1445.1 248.9 C1443.6 246.9 1442.1 242.1 1442.5 240Z" fill="#FDBA78" stroke="#4a4540" stroke-width="0.935"/>
<path d="M1405.9 272.9 C1406.3 270.8 1408.8 268 1410.9 266.6 C1413 265.1 1416 263.8 1418.5 264 C1421 264.2 1424 266.1 1426.1 267.8 C1428.2 269.5 1430.5 272 1431.2 274.1 C1431.8 276.2 1431.2 278.9 1429.9 280.5 C1428.6 282 1426.1 283.2 1423.6 283.6 C1421 284 1417.2 283.7 1414.7 283 C1412.2 282.3 1409.9 280.9 1408.4 279.2 C1406.9 277.5 1405.4 275 1405.9 272.9Z" fill="#FEC893" stroke="#4a4540" stroke-width="0.935"/>
<path d="M1410.9 272.9 C1411.3 271.3 1414.1 269.5 1416 269.1 C1417.9 268.7 1420.9 269.3 1422.3 270.3 C1423.7 271.4 1424.6 273.9 1424.2 275.4 C1423.8 276.9 1421.6 278.7 1419.8 279.2 C1418 279.7 1414.9 279.6 1413.4 278.6 C1412 277.5 1410.5 274.5 1410.9 272.9Z" fill="#FDBA78" stroke="#4a4540" stroke-width="0.935"/>
<path d="M1412.2 290.6 C1412.8 289.5 1419.3 288.2 1421 288.7 C1422.8 289.1 1427.1 293.1 1427.4 294.4 C1427.7 295.6 1424.9 299 1423.6 299.4 C1422.2 299.9 1417.3 299.2 1416 298.2 C1414.7 297.1 1411.6 291.7 1412.2 290.6Z" fill="#FFF6DA"/>
<path d="M1328.3 252.4 C1329.8 251.8 1326.4 264.8 1326.4 267.6 C1326.5 270.4 1328.7 273.6 1329 276.4 C1329.3 279.2 1329.3 289.2 1329 291.6 C1328.7 294 1327.6 295.6 1326.4 296.7 C1325.3 297.7 1320.6 300.3 1318.9 300.5 C1317.1 300.6 1313 298.1 1311.3 297.9 C1309.5 297.8 1306.3 296.2 1303.7 299.2 C1301 302.1 1287.3 326.3 1288.5 323.2 C1289.7 320.1 1309.1 280.9 1313.8 272.6 C1318.4 264.4 1326.9 253 1328.3 252.4Z" fill="#FEE2BA"/>
<path d="M1296.1 340.9 C1297 338.6 1298.4 336 1299.9 334.6 C1301.4 333.2 1303.5 332.3 1304.9 332.7 C1306.4 333.1 1307.9 335.1 1308.7 337.1 C1309.6 339.1 1309.4 342.2 1310 344.7 C1310.6 347.2 1311.3 350.8 1312.5 352.3 C1313.8 353.8 1315.9 354.2 1317.6 353.6 C1319.3 352.9 1320.7 350.2 1322.6 348.5 C1324.5 346.8 1326.6 344.5 1329 343.4 C1331.3 342.4 1334.2 341.8 1336.6 342.2 C1338.9 342.6 1341.4 344.3 1342.9 346 C1344.4 347.7 1345.2 350.2 1345.4 352.3 C1345.6 354.4 1345.6 356.5 1344.1 358.6 C1342.7 360.7 1339.3 363.5 1336.6 364.9 C1333.8 366.4 1330.2 367.5 1327.7 367.5 C1325.2 367.5 1323.7 366.2 1321.4 364.9 C1319.1 363.7 1316.1 360.5 1313.8 359.9 C1311.5 359.3 1309.6 360.7 1307.5 361.2 C1305.4 361.6 1303 363 1301.2 362.4 C1299.3 361.8 1297.3 359.7 1296.1 357.4 C1294.9 355 1294.2 351.2 1294.2 348.5 C1294.2 345.8 1295.1 343.2 1296.1 340.9Z" fill="#FEC893" stroke="#4a4540" stroke-width="0.935"/>
<path d="M1292.9 322 C1292.8 324.2 1290.7 329.9 1289.8 332.1 C1288.8 334.3 1286 338.9 1284.7 340.9 C1283.4 343 1279.9 348.2 1278.4 349.8 C1276.9 351.3 1273.7 353.6 1272.1 354.2 C1270.4 354.8 1266.4 354.8 1264.5 354.8 C1262.6 354.9 1258.7 353.1 1255.6 354.6 C1252.5 356.1 1235.6 370.2 1237.9 367.5 C1240.3 364.7 1269.7 337.1 1275.9 330.8 C1282.1 324.5 1289 314.1 1291 313.1 C1293 312.1 1293.1 319.7 1292.9 322Z" fill="#FFF6DA"/>
<path d="M1234.1 411.7 C1233.5 410.1 1236.9 404.9 1237.9 402.9 C1239 400.8 1241.7 396.1 1243 394 C1244.3 392 1247.8 386.9 1249.3 385.2 C1250.8 383.5 1253.7 380.1 1255.6 379.5 C1257.6 378.9 1263.4 379.6 1265.7 380.1 C1268.1 380.6 1273.8 383 1275.9 383.9 C1277.9 384.8 1281.9 387.3 1283.4 387.7 C1285 388.1 1287.7 387.9 1289.1 387.7 C1290.6 387.6 1294.7 386 1296.1 386.4 C1297.5 386.9 1300.1 390 1301.2 391.5 C1302.2 393 1303.9 397.5 1304.9 399.1 C1306 400.7 1308.5 404.2 1310 405.4 C1311.5 406.6 1315.8 408.9 1317.6 409.2 C1319.4 409.5 1323.6 408.7 1325.2 407.9 C1326.8 407.2 1328.4 402.6 1331.5 402.9 C1334.6 403.2 1351.4 406.5 1351.7 410.5 C1352 414.4 1338.4 429.5 1334 437 C1329.6 444.5 1319.1 473.5 1313.8 474.9 C1308.5 476.4 1290.7 455 1288.5 449.7 C1286.3 444.3 1294.7 432.2 1294.8 429.4 C1295 426.6 1291.2 426.3 1289.8 425.6 C1288.3 425 1284.1 423.9 1282.2 423.7 C1280.3 423.6 1275.3 424.1 1273.3 424.4 C1271.4 424.6 1266.9 425.9 1265.7 425.6 C1264.6 425.3 1262.9 422.7 1263.2 421.8 C1263.5 421 1266.9 418.9 1268.3 418 C1269.6 417.2 1273.6 415.4 1274.6 414.3 C1275.6 413.1 1277.1 409.3 1277.1 407.9 C1277.1 406.6 1275.6 403.6 1274.6 402.9 C1273.6 402.1 1269.9 401.5 1268.3 401.6 C1266.7 401.8 1262.5 403.3 1260.7 404.1 C1258.9 405 1254.6 407.4 1253.1 409.2 C1251.6 411 1249.2 418.4 1248 419.3 C1246.9 420.2 1244.6 417.7 1243 416.8 C1241.4 415.9 1234.7 413.3 1234.1 411.7Z" fill="#FEC893"/>
<path d="M1303.7 385.2 C1304.4 383.8 1308.2 379.7 1310 380.1 C1311.8 380.6 1316.8 387 1318.9 389 C1320.9 391 1327.4 396 1327.7 397.2 C1328 398.4 1323 398.9 1321.4 399.1 C1319.8 399.3 1315.4 399.4 1313.8 399.1 C1312.2 398.8 1308.7 397.4 1307.5 396.6 C1306.3 395.7 1304.1 392.8 1303.7 391.5 C1303.2 390.2 1302.9 386.5 1303.7 385.2Z" fill="#FFF6DA"/>
<path d="M1130.6 460.9 C1131.2 461.5 1132.2 456.6 1133.1 455.9 C1134 455.1 1136.7 454.2 1138.2 454.6 C1139.6 455 1144 458.9 1145.7 459.7 C1147.5 460.4 1151.9 461.2 1153.3 460.9 C1154.8 460.6 1156.9 458.2 1158.4 457.1 C1159.9 456.1 1164.2 452.7 1166 452.1 C1167.7 451.4 1171.5 451.3 1173.6 451.4 C1175.6 451.6 1181.3 453.3 1183.7 453.3 C1186 453.4 1191.7 452.7 1193.8 452.1 C1195.9 451.5 1200.1 449.5 1201.4 448.3 C1202.7 447.1 1204.6 443.7 1205.2 442 C1205.8 440.2 1206.4 434.9 1206.4 433.1 C1206.4 431.3 1205.2 428.3 1205.2 426.8 C1205.2 425.3 1205.4 421.6 1206.4 420.5 C1207.5 419.3 1212.5 417.7 1214 416.7 C1215.5 415.6 1217.8 412.3 1219.1 411.6 C1220.4 410.9 1223.9 410.6 1225.4 410.3 C1226.9 410.1 1230.8 410 1231.7 409.1 C1232.6 408.2 1233.1 404.7 1233 402.8 C1232.8 400.8 1231.2 394.7 1230.5 392.6 C1229.7 390.6 1227.6 386.5 1226.7 385.1 C1225.8 383.6 1223.8 381.2 1222.9 380 C1222 378.8 1225.4 370.5 1219.1 374.9 C1212.7 379.4 1179.1 409.1 1168.5 417.9 C1157.9 426.8 1132.5 445.8 1128 450.8 C1123.6 455.8 1130 460.3 1130.6 460.9Z" fill="#FEC893"/>
<path d="M1221.5 377.6 C1223 378.2 1224.3 384.2 1225.3 386.4 C1226.3 388.7 1229.5 394.3 1230.3 396.6 C1231.2 398.8 1232.4 403.6 1232.9 405.4 C1233.3 407.2 1234.6 410.5 1234.1 411.7 C1233.7 412.9 1230.9 414.9 1229.1 415.5 C1227.3 416.1 1221.5 416.8 1219 416.8 C1216.5 416.8 1210.1 415.4 1207.6 415.5 C1205.1 415.7 1198.7 421.4 1197.5 418 C1196.3 414.7 1195.7 390.7 1197.5 386.4 C1199.2 382.2 1209.8 382.4 1212.6 381.4 C1215.4 380.3 1220 377 1221.5 377.6Z" fill="#FEC893"/>
<path d="M1206.4 385.1 C1207.9 384.6 1212.4 385.6 1214 386.3 C1215.6 387.1 1219.3 389.9 1220.3 391.4 C1221.4 392.9 1222.7 397 1222.9 399 C1223 400.9 1222.3 406.2 1221.6 407.8 C1220.9 409.4 1218.2 412.1 1216.6 412.9 C1214.9 413.6 1209.6 414.2 1207.7 414.1 C1205.8 414.1 1201.7 412.8 1200.1 412.2 C1198.6 411.7 1195.2 410 1194.4 409.1 C1193.6 408.1 1192.8 405.5 1193.2 404 C1193.5 402.5 1196.6 398.1 1197.6 396.4 C1198.5 394.8 1200.3 391.4 1201.4 390.1 C1202.4 388.8 1205 385.5 1206.4 385.1Z" fill="#FDBA78"/>
<path d="M1200.1 404 C1200.1 402.2 1202.4 399.8 1203.9 399 C1205.4 398.1 1207.7 398.1 1209 399 C1210.2 399.8 1211.5 402.3 1211.5 404 C1211.5 405.7 1210.2 408.1 1209 409.1 C1207.7 410 1205.4 410.6 1203.9 409.7 C1202.4 408.9 1200.1 405.8 1200.1 404Z" fill="#FDAE62" stroke="#4a4540" stroke-width="0.935"/>
<path d="M1186.2 431.8 C1186.2 429.6 1187.3 427.1 1188.7 425.5 C1190.2 423.9 1193 422.5 1195.1 422.4 C1197.2 422.3 1199.8 423.3 1201.4 424.9 C1203 426.5 1204.4 429.5 1204.5 431.8 C1204.6 434.2 1203.6 437.1 1202 438.8 C1200.4 440.5 1197.3 442 1195.1 442 C1192.8 442 1190.2 440.5 1188.7 438.8 C1187.3 437.1 1186.2 434.1 1186.2 431.8Z" fill="#FDBA78"/>
<path d="M1189.4 431.8 C1189.4 430.4 1190.3 428.5 1191.3 427.4 C1192.2 426.4 1193.7 425.5 1195.1 425.5 C1196.4 425.5 1198.4 426.4 1199.5 427.4 C1200.5 428.5 1201.4 430.4 1201.4 431.8 C1201.4 433.3 1200.5 435.2 1199.5 436.3 C1198.4 437.3 1196.4 438.2 1195.1 438.2 C1193.7 438.2 1192.2 437.3 1191.3 436.3 C1190.3 435.2 1189.4 433.3 1189.4 431.8Z" fill="#FDAE62"/>
<path d="M1191.3 431.8 C1191.3 430.7 1192.2 429.2 1193.2 428.7 C1194.1 428.2 1196 428.2 1197 428.7 C1197.9 429.2 1198.9 430.7 1198.9 431.8 C1198.9 433 1197.9 434.8 1197 435.4 C1196 436 1194.1 436 1193.2 435.4 C1192.2 434.8 1191.3 433 1191.3 431.8Z" fill="#FD9A36"/>
<path d="M1207.7 420.5 C1208.1 419 1209.9 416.7 1211.5 416 C1213.1 415.4 1215.9 415.7 1217.2 416.7 C1218.4 417.6 1219.6 420.2 1219.1 421.7 C1218.6 423.2 1215.7 425 1214 425.5 C1212.3 426 1210 425.7 1209 424.9 C1207.9 424 1207.3 421.9 1207.7 420.5Z" fill="#FFF6DA" stroke="#4a4540" stroke-width="0.935"/>
<path d="M1162.2 463.4 C1162 461.6 1164.1 459.7 1166 458.4 C1167.9 457.1 1170.6 456.1 1173.6 455.9 C1176.5 455.7 1180.7 456.5 1183.7 457.1 C1186.6 457.8 1189.5 458.4 1191.3 459.7 C1193.1 460.9 1194.4 462.8 1194.4 464.7 C1194.4 466.6 1193.1 469.5 1191.3 471 C1189.5 472.6 1186.4 474 1183.7 474.2 C1180.9 474.4 1177.6 473 1174.8 472.3 C1172.1 471.6 1169.3 471.2 1167.2 469.8 C1165.1 468.3 1162.4 465.3 1162.2 463.4Z" fill="#FFF6DA" stroke="#4a4540" stroke-width="0.935"/>
<path d="M1122.4 498.9 C1122.8 497.4 1124.6 495.3 1126.8 494.4 C1129 493.6 1132.5 493.8 1135.6 493.8 C1138.8 493.8 1142.4 494.4 1145.7 494.4 C1149.1 494.4 1152.9 493.5 1155.9 493.8 C1158.8 494.1 1161.1 495.1 1163.4 496.3 C1165.8 497.6 1168.4 499.5 1169.8 501.4 C1171.1 503.3 1172.1 505.8 1171.7 507.7 C1171.2 509.6 1169.5 511.7 1167.2 512.8 C1165 513.8 1161.6 514.2 1158.4 514 C1155.2 513.8 1151.4 512.5 1148.3 511.5 C1145.1 510.4 1142.4 508.8 1139.4 507.7 C1136.5 506.6 1133.1 505.9 1130.6 505.2 C1128 504.4 1125.6 504.3 1124.3 503.3 C1122.9 502.2 1121.9 500.3 1122.4 498.9Z" fill="#FFF6DA" stroke="#4a4540" stroke-width="0.935"/>
<path d="M1088.9 517.8 C1089.3 515.9 1091 512.5 1092.6 510.2 C1094.3 507.9 1096.9 506 1099 503.9 C1101.1 501.8 1103.2 498.5 1105.3 497.6 C1107.4 496.6 1110.1 497.2 1111.6 498.2 C1113.1 499.3 1113.9 501.7 1114.1 503.9 C1114.3 506.1 1113.7 509.2 1112.9 511.5 C1112 513.8 1110.8 515.9 1109.1 517.8 C1107.4 519.7 1105.1 521.8 1102.8 522.9 C1100.4 523.9 1097.3 524.4 1095.2 524.1 C1093.1 523.9 1091.2 522.7 1090.1 521.6 C1089.1 520.6 1088.4 519.7 1088.9 517.8Z" fill="#FFF6DA" stroke="#4a4540" stroke-width="0.935"/>
<path d="M1254.5 417.9 C1255.5 416.5 1257.2 414.1 1258.3 414.1 C1259.3 414.1 1260.8 416.2 1260.8 417.9 C1260.8 419.6 1258.5 421.7 1258.3 424.3 C1258.1 426.8 1259.8 430.4 1259.5 433.1 C1259.3 435.8 1257 438.2 1257 440.7 C1257 443.2 1257.9 446.6 1259.5 448.3 C1261.2 450 1264.8 450.8 1267.1 450.8 C1269.4 450.8 1271.8 449.5 1273.5 448.3 C1275.1 447 1276.4 445.3 1277.2 443.2 C1278.1 441.1 1277.7 437.1 1278.5 435.6 C1279.4 434.2 1280.8 434.2 1282.3 434.4 C1283.8 434.6 1287.4 435 1287.4 436.9 C1287.4 438.8 1284.4 443 1282.3 445.7 C1280.2 448.5 1277.5 451.2 1274.7 453.3 C1272 455.4 1268.8 456.9 1265.9 458.4 C1262.9 459.9 1260.2 461.3 1257 462.2 C1253.9 463 1249.5 463.9 1246.9 463.4 C1244.3 463 1241.8 461.1 1241.2 459.7 C1240.6 458.2 1241.7 456.1 1243.1 454.6 C1244.5 453.1 1248.2 453.1 1249.4 450.8 C1250.7 448.5 1250.6 444.1 1250.7 440.7 C1250.8 437.3 1249.8 433.5 1250.1 430.6 C1250.3 427.6 1251.2 425.1 1252 423 C1252.7 420.9 1253.4 419.4 1254.5 417.9Z" fill="#FFF6DA" stroke="#4a4540" stroke-width="0.935"/>
<path d="M1222.9 511.5 C1223.5 509 1226 504.1 1227.9 501.4 C1229.8 498.6 1231.7 496.5 1234.3 495.1 C1236.8 493.6 1240.6 492.3 1243.1 492.5 C1245.6 492.7 1248.2 494.2 1249.4 496.3 C1250.7 498.4 1251.1 502.4 1250.7 505.2 C1250.3 507.9 1248.8 510.7 1246.9 512.8 C1245 514.9 1242.1 516.8 1239.3 517.8 C1236.6 518.9 1233 519.3 1230.5 519.1 C1227.9 518.9 1225.4 517.8 1224.1 516.6 C1222.9 515.3 1222.2 514 1222.9 511.5Z" fill="#FFF6DA" stroke="#4a4540" stroke-width="0.935"/>
<path d="M1197 522.9 C1198 521.4 1201.5 520.6 1203.9 520.3 C1206.3 520.1 1209.8 520.6 1211.5 521.6 C1213.2 522.7 1214.2 525 1214 526.7 C1213.8 528.4 1212.1 530.8 1210.2 531.7 C1208.3 532.7 1204.8 532.8 1202.6 532.4 C1200.5 531.9 1198.5 530.8 1197.6 529.2 C1196.6 527.6 1195.9 524.4 1197 522.9Z" fill="#FFF6DA" stroke="#4a4540" stroke-width="0.935"/>
<path d="M1295.6 430.6 C1301.2 427 1301.7 436.3 1302.5 440.7 C1303.3 445.1 1304.3 463.8 1302.5 468.5 C1300.8 473.2 1290.3 478.5 1287.4 481.2 C1284.4 483.8 1279 489.5 1277.2 491.3 C1275.5 493 1273.8 496.6 1272.2 496.3 C1270.6 496 1264.5 490.8 1263.3 488.7 C1262.2 486.7 1262.5 480.4 1262.1 478.6 C1261.6 476.9 1260.4 474.4 1259.5 473.6 C1258.7 472.7 1250.3 476.1 1254.5 471 C1258.7 466 1290 434.1 1295.6 430.6Z" fill="#FFF6DA"/>
<path d="M1265.9 476.1 C1266.3 473.9 1267.8 470.2 1269.7 468.5 C1271.6 466.8 1274.9 465.8 1277.2 466 C1279.6 466.2 1282.4 467.9 1283.6 469.8 C1284.7 471.7 1284.8 475 1284.2 477.4 C1283.6 479.7 1281.8 482.4 1279.8 483.7 C1277.8 484.9 1274.3 485.3 1272.2 484.9 C1270.1 484.6 1268.2 483.3 1267.1 481.8 C1266.1 480.3 1265.4 478.3 1265.9 476.1Z" fill="#FEE2BA" stroke="#4a4540" stroke-width="0.935"/>
<path d="M1225.4 436.9 C1225.7 434.4 1226.9 429.5 1227.9 426.8 C1229 424 1230 421.9 1231.7 420.5 C1233.4 419 1236.3 417.5 1238 417.9 C1239.8 418.4 1241.6 420.5 1242.5 423 C1243.3 425.5 1243.4 429.7 1243.1 433.1 C1242.8 436.5 1241.8 440.6 1240.6 443.2 C1239.3 445.9 1237.4 448.3 1235.5 448.9 C1233.6 449.5 1230.8 448.2 1229.2 447 C1227.6 445.9 1226.7 443.6 1226 442 C1225.4 440.3 1225.1 439.4 1225.4 436.9Z" fill="#FEC893" stroke="#4a4540" stroke-width="0.935"/>
<path d="M1230.5 433.1 C1230.4 431.3 1230.7 428.3 1231.7 426.8 C1232.8 425.3 1235.2 424 1236.8 424.3 C1238.4 424.5 1240.6 426.1 1241.2 428 C1241.8 429.9 1241.3 433.8 1240.6 435.6 C1239.8 437.4 1238.2 438.5 1236.8 438.8 C1235.4 439.1 1233.4 438.5 1232.4 437.5 C1231.3 436.6 1230.6 434.9 1230.5 433.1Z" fill="#FDBA78" stroke="#4a4540" stroke-width="0.935"/>
<path d="M1192.5 490 C1192.8 487.5 1192.3 486.7 1193.8 486.2 C1195.3 485.7 1198.6 486.8 1201.4 486.8 C1204.1 486.8 1207.3 486.8 1210.2 486.2 C1213.2 485.6 1216.3 483.9 1219.1 483 C1221.8 482.2 1224.9 480.8 1226.7 481.2 C1228.5 481.5 1229.6 482.8 1229.8 484.9 C1230 487.1 1229.1 491.1 1227.9 493.8 C1226.8 496.5 1224.8 499.3 1222.9 501.4 C1221 503.5 1218.4 504.8 1216.6 506.4 C1214.7 508.1 1213.4 510.1 1211.5 511.5 C1209.6 512.9 1207.7 514.2 1205.2 514.7 C1202.6 515.1 1198.6 514.8 1196.3 514 C1194 513.3 1192 512.3 1191.3 510.2 C1190.5 508.1 1191.7 504.8 1191.9 501.4 C1192.1 498 1192.2 492.5 1192.5 490Z" fill="#FEC893" stroke="#4a4540" stroke-width="0.935"/>
<path d="M1211.5 496.3 C1212 495.2 1213.8 493.1 1215.3 492.5 C1216.8 492 1219.4 492.4 1220.3 493.2 C1221.3 493.9 1221.6 495.8 1221 497 C1220.3 498.1 1218 499.7 1216.6 500.1 C1215.1 500.5 1213 500.1 1212.1 499.5 C1211.3 498.9 1211 497.5 1211.5 496.3Z" fill="none" stroke="#4a4540" stroke-width="0.935"/>
<path d="M1148.5 442.5 C1146.4 442.4 1133.5 451.3 1130.8 453.9 C1128.2 456.6 1127.4 462.6 1125.7 465.3 C1124.1 467.9 1119 474 1116.9 476.7 C1114.8 479.3 1109.8 485.7 1108 488 C1106.3 490.4 1101.7 495.4 1101.7 496.9 C1101.7 498.4 1106.4 500.7 1108 500.7 C1109.7 500.7 1114.2 498.1 1115.6 496.9 C1117.1 495.7 1119.5 492.3 1120.7 490.6 C1121.9 488.8 1124.9 483.9 1125.7 481.7 C1126.6 479.5 1127.7 473.8 1128.3 471.6 C1128.9 469.4 1129.6 464.2 1130.8 462.8 C1132 461.3 1136.3 459.9 1138.4 459 C1140.5 458.1 1147.3 457.1 1148.5 455.2 C1149.7 453.3 1150.6 442.7 1148.5 442.5Z" fill="#FEC893"/>
<path d="M1113.1 477.9 C1114.3 475.9 1119.2 472.9 1120.7 472.9 C1122.2 472.9 1125.5 476.2 1125.7 477.9 C1126 479.7 1124.4 486.1 1123.2 488 C1122 490 1117.1 494.1 1115.6 494.4 C1114.2 494.7 1110.9 492.5 1110.6 490.6 C1110.3 488.7 1111.9 480 1113.1 477.9Z" fill="#FDBA78"/>
<path d="M1163.7 577.8 C1166.3 574.4 1182.3 569.1 1186.4 569 C1190.6 568.8 1198.3 573.9 1199.1 576.6 C1199.8 579.2 1194.2 588.5 1192.8 591.7 C1191.3 595 1187.9 601.4 1186.4 604.4 C1185 607.3 1181.6 614.4 1180.1 617 C1178.6 619.7 1175.3 625.7 1173.8 627.1 C1172.3 628.6 1168.5 630.8 1167.5 629.7 C1166.4 628.5 1165.4 620.7 1164.9 617 C1164.5 613.3 1163.8 602.6 1163.7 598 C1163.5 593.5 1161 581.2 1163.7 577.8Z" fill="#FEC893"/>
<path d="M1167.5 604.4 C1169.1 601 1179 597.2 1181.4 596.8 C1183.7 596.3 1187.7 598.5 1187.7 600.6 C1187.7 602.6 1183 611.4 1181.4 614.5 C1179.8 617.6 1175.4 625.8 1173.8 627.1 C1172.2 628.5 1168.2 628.5 1167.5 625.9 C1166.7 623.2 1165.8 607.8 1167.5 604.4Z" fill="#FDBA78"/>
<path d="M1080 522.9 C1081.6 523.5 1085.8 527 1087.6 527.9 C1089.4 528.8 1093.1 530.3 1095.2 530.5 C1097.2 530.6 1103.1 530.1 1105.3 529.2 C1107.5 528.3 1112.4 524.4 1114.1 522.9 C1115.9 521.4 1118.8 517.6 1120.5 516.6 C1122.1 515.5 1126.3 514 1128 514 C1129.8 514 1133.9 515.8 1135.6 516.6 C1137.4 517.3 1141.3 519.8 1143.2 520.3 C1145.1 520.9 1150 521.6 1152.1 521.6 C1154.1 521.6 1158.7 520.6 1160.9 520.3 C1163.1 520.1 1169 518.9 1171 519.1 C1173.1 519.2 1177.3 520.6 1178.6 521.6 C1179.9 522.6 1181.4 526.6 1182.4 527.9 C1183.4 529.3 1185.8 532 1187.5 533 C1189.1 534 1195.3 535.6 1196.3 536.8 C1197.4 538 1196.6 541.6 1196.3 543.1 C1196 544.6 1195.1 548.7 1193.8 549.4 C1192.5 550.2 1186.7 549.9 1184.9 549.4 C1183.2 549 1180.2 546.5 1178.6 545.6 C1177 544.7 1173 542.1 1171 541.8 C1169.1 541.5 1164 542.4 1162.2 543.1 C1160.4 543.8 1157.2 546.5 1155.9 548.2 C1154.5 549.8 1151.7 555.4 1150.8 557 C1149.9 558.6 1149.5 561.3 1148.3 562.1 C1147.1 562.8 1142.5 563.3 1140.7 563.3 C1138.9 563.3 1134.9 561.9 1133.1 562.1 C1131.3 562.2 1127.3 563.6 1125.5 564.6 C1123.7 565.6 1120 569.6 1117.9 570.9 C1115.9 572.2 1110.2 575.5 1107.8 576 C1105.5 576.4 1100.1 575.5 1097.7 574.7 C1095.3 574 1089.7 571 1087.6 569.7 C1085.5 568.3 1081.6 564.8 1080 563.3 C1078.4 561.9 1074.4 561.7 1073.7 557 C1072.9 552.3 1072.9 526.9 1073.7 522.9 C1074.4 518.9 1078.4 522.3 1080 522.9Z" fill="#FEC893"/>
<path d="M1082.8 520.3 C1083.8 519.6 1084.3 520.9 1085.3 521.6 C1086.3 522.3 1090 525.8 1091.6 526.7 C1093.2 527.6 1097.3 529.2 1099.2 529.2 C1101.1 529.2 1106.3 527.6 1108 526.7 C1109.8 525.8 1113 522.8 1114.4 521.6 C1115.7 520.4 1118.1 517.4 1119.4 516.6 C1120.8 515.7 1124.1 514.2 1125.7 514 C1127.4 513.9 1131.4 514.7 1133.3 515.3 C1135.3 515.9 1140 518.3 1142.2 519.1 C1144.4 519.8 1149.9 521.6 1152.3 521.6 C1154.7 521.6 1160.5 519.4 1162.4 519.1 C1164.3 518.7 1166.2 518.3 1168.7 518.4 C1171.2 518.6 1180.5 517.5 1183.9 520.3 C1187.3 523.2 1197.8 536.9 1197.8 543.1 C1197.8 549.3 1187.3 569.5 1183.9 573.4 C1180.5 577.4 1171 576.2 1168.7 576.6 C1166.5 577.1 1166.6 576.9 1164.9 577.2 C1163.3 577.6 1156.9 579.3 1154.8 579.8 C1152.8 580.2 1148.7 581.5 1147.2 581 C1145.8 580.6 1142.9 577.5 1142.2 576 C1141.4 574.5 1141.5 570 1140.9 568.4 C1140.3 566.8 1138.3 563 1137.1 562.1 C1135.9 561.1 1132.3 560 1130.8 560.2 C1129.3 560.3 1125.8 562.2 1124.5 563.3 C1123.2 564.4 1120.8 568.3 1119.4 569.7 C1118.1 571 1115 573.9 1113.1 574.7 C1111.2 575.5 1105.2 576.6 1103 576.6 C1100.8 576.6 1096.1 575.7 1094.1 574.7 C1092.2 573.8 1088.2 570 1086.6 568.4 C1084.9 566.8 1081.6 562.7 1080.2 560.8 C1078.9 558.9 1076.5 553.7 1075.2 552 C1073.8 550.2 1070.5 546.7 1068.9 545.6 C1067.2 544.6 1062.6 543.7 1061.3 543.1 C1059.9 542.5 1057.2 542.1 1057.5 540.6 C1057.8 539.1 1061.6 531.9 1063.8 530.5 C1066 529 1074.2 529.1 1076.4 527.9 C1078.7 526.8 1081.7 521.1 1082.8 520.3Z" fill="#FEC893"/>
<path d="M1080.9 539.3 C1081.1 537.7 1082.2 536.4 1084 536.1 C1085.8 535.9 1088.7 537.3 1091.6 538 C1094.6 538.8 1098.4 539.9 1101.7 540.6 C1105.1 541.2 1108.9 541.5 1111.8 541.8 C1114.8 542.2 1117.7 541.6 1119.4 542.5 C1121.1 543.3 1122 544.9 1122 546.9 C1122 548.9 1120.9 552.4 1119.4 554.5 C1118 556.6 1115.6 558.3 1113.1 559.5 C1110.6 560.8 1107.2 562.1 1104.3 562.1 C1101.3 562.1 1098.1 561 1095.4 559.5 C1092.7 558.1 1089.9 555.5 1087.8 553.2 C1085.7 550.9 1083.9 548 1082.8 545.6 C1081.6 543.3 1080.7 540.9 1080.9 539.3Z" fill="#FDBA78" stroke="#4a4540" stroke-width="0.935"/>
<path d="M1133.1 539.3 C1133.5 537.7 1134.8 535.7 1136.9 534.9 C1139 534 1143.2 533.9 1145.7 534.3 C1148.3 534.6 1150.8 535.3 1152 536.8 C1153.3 538.3 1153.7 541.2 1153.3 543.1 C1152.9 545 1151.6 547.5 1149.5 548.2 C1147.4 548.8 1143.2 547.5 1140.7 546.9 C1138.1 546.3 1135.6 545.6 1134.3 544.4 C1133.1 543.1 1132.7 540.9 1133.1 539.3Z" fill="#FDBA78" stroke="#4a4540" stroke-width="0.935"/>
<path d="M1133.3 576 C1133.3 574.3 1134.2 572.2 1135.9 570.9 C1137.6 569.7 1140.9 568.7 1143.5 568.4 C1146 568.1 1149.4 568 1151 569 C1152.7 570.1 1153.8 572.7 1153.6 574.7 C1153.4 576.7 1151.7 579.6 1149.8 581 C1147.9 582.5 1144.5 583.6 1142.2 583.6 C1139.9 583.6 1137.3 582.3 1135.9 581 C1134.4 579.8 1133.3 577.7 1133.3 576Z" fill="#FDBA78" stroke="#4a4540" stroke-width="0.935"/>
<path d="M1150.8 557 C1151.7 555.4 1154.5 549.8 1155.9 548.2 C1157.2 546.5 1160.4 543.8 1162.2 543.1 C1164 542.4 1169.1 541.5 1171 541.8 C1173 542.1 1177 544.7 1178.6 545.6 C1180.2 546.5 1183.2 549 1184.9 549.4 C1186.7 549.9 1192.5 550.2 1193.8 549.4 C1195.1 548.7 1194.8 541.8 1196.3 543.1 C1197.8 544.4 1206.7 557.7 1206.4 560.8 C1206.1 563.9 1196.4 568.8 1193.8 569.7 C1191.1 570.5 1185.7 569 1183.7 568.4 C1181.6 567.8 1178.2 565.3 1176.1 564.6 C1174 563.9 1168.3 562.4 1166 562.1 C1163.6 561.8 1157.9 562.1 1155.9 562.1 C1153.8 562.1 1148.9 562.7 1148.3 562.1 C1147.7 561.5 1149.9 558.6 1150.8 557Z" fill="#FEE2BA"/>
<path d="M1089.1 519.1 C1088.9 517.1 1091.2 514 1092.9 511.5 C1094.6 509 1096.9 506.2 1099.2 503.9 C1101.5 501.6 1104.7 498.4 1106.8 497.6 C1108.9 496.7 1110.7 497.4 1111.8 498.9 C1113 500.3 1113.7 503.9 1113.7 506.4 C1113.7 509 1112.8 511.7 1111.8 514 C1110.9 516.3 1109.7 518.7 1108 520.3 C1106.4 522 1104 523.6 1101.7 524.1 C1099.4 524.7 1096.2 524.3 1094.1 523.5 C1092 522.7 1089.3 521.1 1089.1 519.1Z" fill="#FFF6DA"/>
<path d="M1056.8 558.3 C1057.2 556.6 1058.6 555 1060 554.5 C1061.4 554 1063.5 554.1 1065.1 555.1 C1066.6 556.2 1068.4 558.6 1069.5 560.8 C1070.5 563 1070.7 565.7 1071.4 568.4 C1072 571.1 1072.4 574.5 1073.3 577.2 C1074.1 580 1076.1 582.5 1076.4 584.8 C1076.8 587.1 1076.4 589.8 1075.2 591.2 C1073.9 592.5 1070.5 593.5 1068.9 593 C1067.2 592.6 1066 591 1065.1 588.6 C1064.1 586.2 1063.8 581.5 1063.2 578.5 C1062.5 575.6 1062.1 573.2 1061.3 570.9 C1060.4 568.6 1058.8 566.7 1058.1 564.6 C1057.4 562.5 1056.5 560 1056.8 558.3Z" fill="#FFF6DA" stroke="#4a4540" stroke-width="0.935"/>
<path d="M991.7 602.5 C993 600.6 997.4 596.5 1000.6 594.9 C1003.7 593.4 1007.3 593.7 1010.7 593 C1014.1 592.4 1018.5 590.4 1020.8 591.2 C1023.1 591.9 1024.6 594.9 1024.6 597.5 C1024.6 600 1022.3 603.7 1020.8 606.3 C1019.3 609 1018.1 611.9 1015.7 613.3 C1013.4 614.6 1009.8 614.9 1006.9 614.5 C1003.9 614.2 1000.4 612.8 998 611.4 C995.7 610 994 607.8 993 606.3 C991.9 604.8 990.5 604.4 991.7 602.5Z" fill="#FFF6DA" stroke="#4a4540" stroke-width="0.935"/>
<path d="M1014.5 615.2 C1015.1 613.4 1018.5 612.1 1020.8 612 C1023.1 611.9 1026.1 613.4 1028.4 614.5 C1030.7 615.7 1033.6 617.2 1034.7 619 C1035.9 620.8 1036.2 623.6 1035.3 625.3 C1034.5 627 1031.9 628.7 1029.7 629.1 C1027.4 629.5 1024.2 628.9 1022.1 627.8 C1020 626.8 1018.3 624.9 1017 622.8 C1015.7 620.7 1013.9 617 1014.5 615.2Z" fill="#FFF6DA" stroke="#4a4540" stroke-width="0.935"/>
<path d="M1109.3 608.9 C1109.5 607.3 1111.4 605.1 1113.1 604.4 C1114.8 603.8 1118 604.1 1119.4 605.1 C1120.9 606 1122.2 608.5 1122 610.1 C1121.7 611.7 1119.8 613.9 1118.2 614.5 C1116.5 615.2 1113.3 614.9 1111.8 613.9 C1110.4 613 1109.1 610.4 1109.3 608.9Z" fill="#FFF6DA" stroke="#4a4540" stroke-width="0.935"/>
<path d="M1118.2 645.5 C1118.2 642.6 1118.4 639.2 1119.4 636.7 C1120.5 634.1 1122.4 631.7 1124.5 630.3 C1126.6 629 1129.5 628 1132.1 628.4 C1134.6 628.9 1137.3 631.1 1139.7 632.9 C1142 634.7 1144.7 637.1 1146 639.2 C1147.2 641.3 1147.9 643.2 1147.2 645.5 C1146.6 647.8 1144.5 651 1142.2 653.1 C1139.9 655.2 1136.3 657.2 1133.3 658.2 C1130.4 659.1 1126.8 659.4 1124.5 658.8 C1122.2 658.2 1120.5 656.6 1119.4 654.4 C1118.4 652.2 1118.2 648.5 1118.2 645.5Z" fill="#FFF6DA" stroke="#4a4540" stroke-width="0.935"/>
<path d="M1137.1 596.2 C1137.6 593.7 1138.8 590.5 1140.9 588.6 C1143 586.7 1146.8 585.7 1149.8 584.8 C1152.7 584 1156.3 582.9 1158.6 583.6 C1160.9 584.2 1163 586.3 1163.7 588.6 C1164.3 590.9 1163.7 594.9 1162.4 597.5 C1161.2 600 1158.8 602.3 1156.1 603.8 C1153.4 605.3 1148.9 606.3 1146 606.3 C1143 606.3 1139.9 605.5 1138.4 603.8 C1136.9 602.1 1136.7 598.7 1137.1 596.2Z" fill="#FFF6DA" stroke="#4a4540" stroke-width="0.935"/>
<path d="M1143.5 621.5 C1143.7 619.4 1145.3 616.9 1147.2 615.2 C1149.1 613.5 1151.9 612.2 1154.8 611.4 C1157.8 610.5 1162 610.1 1164.9 610.1 C1167.9 610.1 1171.3 608.2 1172.5 611.4 C1173.8 614.5 1174.2 625.5 1172.5 629.1 C1170.8 632.7 1165.8 632.5 1162.4 632.9 C1159 633.3 1155 632.5 1152.3 631.6 C1149.6 630.8 1147.5 629.5 1146 627.8 C1144.5 626.1 1143.2 623.6 1143.5 621.5Z" fill="#FEC893" stroke="#4a4540" stroke-width="0.935"/>
<path d="M1073.9 660.7 C1073 659.2 1079.7 658.2 1081.5 656.9 C1083.3 655.6 1087.3 650.9 1089.1 649.3 C1090.9 647.7 1094.8 644 1096.7 643 C1098.6 642 1104.2 640.2 1105.5 640.5 C1106.8 640.8 1107.8 643.9 1108 645.5 C1108.3 647.1 1107.8 652.2 1108 654.4 C1108.3 656.6 1109.7 662.4 1110.6 664.5 C1111.5 666.5 1114.7 670.3 1115.6 672.1 C1116.5 673.8 1121.3 680 1118.2 679.7 C1115.1 679.4 1094.2 671.8 1089.1 669.5 C1083.9 667.3 1074.8 662.2 1073.9 660.7Z" fill="#FEC893"/>
<path d="M1090.3 654.4 C1090.9 652.1 1092.7 648.4 1094.1 646.8 C1095.6 645.2 1097.9 644.3 1099.2 644.9 C1100.5 645.5 1101.4 648.2 1101.7 650.6 C1102 653 1101.5 656.7 1101.1 659.4 C1100.7 662.2 1100.4 666 1099.2 667 C1098 668.1 1095.5 666.8 1094.1 665.7 C1092.8 664.7 1091.6 662.6 1091 660.7 C1090.3 658.8 1089.8 656.7 1090.3 654.4Z" fill="#FDBA78"/>
<path d="M1036 593.7 C1036.2 592.4 1038.3 590.4 1039.8 589.9 C1041.2 589.4 1043.6 589.8 1044.8 590.5 C1046.1 591.3 1047.5 593.2 1047.4 594.3 C1047.3 595.5 1045.7 596.9 1044.2 597.5 C1042.7 598 1039.9 598.1 1038.5 597.5 C1037.1 596.8 1035.8 594.9 1036 593.7Z" fill="#FDBA78" stroke="#4a4540" stroke-width="0.935"/>
<path d="M1557.6 45.9 C1555.5 48.3 1548.2 56.6 1544.8 60 C1541.4 63.3 1540 64 1537.2 66.3 C1534.5 68.6 1531 71.7 1528.4 73.9 C1525.7 76.1 1523.5 77.7 1521.4 79.6 C1519.3 81.4 1517.8 83.2 1515.7 85.2 C1513.6 87.2 1510.7 90.1 1508.8 91.6 C1506.9 93 1505.8 93.7 1504.4 94.1 C1502.9 94.5 1501.4 94.6 1499.9 94.1 C1498.5 93.6 1496.6 91.9 1495.5 90.9 C1494.4 90 1493.5 88.7 1493.1 88.3" fill="none" stroke="#4a4540" stroke-width="0.935"/>
<path d="M1572.8 44.7 C1570.6 47.4 1564.1 56.5 1560 61.2 C1555.9 66 1551.3 69.9 1548 73.2 C1544.6 76.6 1542.4 78.9 1539.8 81.4 C1537.1 84 1534.7 86.1 1532.2 88.4 C1529.6 90.7 1527.1 93.1 1524.6 95.4 C1522.1 97.6 1519.3 99.8 1517 101.7 C1514.7 103.6 1512.8 105.5 1510.7 106.7 C1508.6 108 1506.6 108.9 1504.4 109.3 C1502.1 109.6 1499.7 109.3 1497.4 108.6 C1495.1 108 1492.6 106.7 1490.4 105.5 C1488.3 104.2 1486 102.2 1484.5 101 C1483.1 99.9 1482.2 98.8 1481.7 98.4" fill="none" stroke="#4a4540" stroke-width="0.935"/>
<path d="M1587.9 44 C1586 46.6 1581.2 53.3 1576.6 59.2 C1571.9 65.1 1564.6 74.6 1560 79.6 C1555.3 84.5 1552 86.3 1548.6 89 C1545.2 91.8 1543.1 93.2 1539.8 96 C1536.4 98.7 1531.5 102.8 1528.4 105.5 C1525.2 108.1 1523.1 109.8 1520.8 111.8 C1518.5 113.8 1516.6 116.2 1514.5 117.5 C1512.4 118.8 1510.5 119.4 1508.2 119.8 C1505.8 120.1 1503.1 120 1500.6 119.4 C1498 118.8 1495.3 117.2 1493 116.2 C1490.7 115.3 1488.8 114.3 1486.7 113.7 C1484.5 113.1 1482.3 112.6 1480.3 112.4 C1478.3 112.2 1475.6 112.4 1474.6 112.4" fill="none" stroke="#4a4540" stroke-width="0.935"/>
<path d="M1605.6 44 C1604.4 47 1601.4 55.8 1598 61.7 C1594.7 67.6 1590.3 73.9 1585.4 79.4 C1580.6 84.9 1573.2 91.3 1569 94.6 C1564.7 97.9 1562.8 97.9 1560 99.2 C1557.2 100.4 1555.1 101 1552.4 102.3 C1549.7 103.6 1546.4 104.9 1543.6 106.7 C1540.7 108.5 1538 110.7 1535.3 113.1 C1532.7 115.4 1530 118 1527.7 120.6 C1525.5 123.3 1523.4 126.3 1522.1 128.9 C1520.7 131.4 1520.1 133.4 1519.5 135.8 C1519 138.2 1518.7 141 1518.6 143.4 C1518.5 145.8 1519.4 148 1518.9 150.4 C1518.4 152.8 1517.2 155.3 1515.9 157.8 C1514.5 160.3 1512.3 163.1 1510.8 165.4 C1509.3 167.7 1508.3 170.1 1507 171.7 C1505.7 173.3 1505.1 174.3 1503.2 174.9 C1501.3 175.5 1498.2 175 1495.6 175.5 C1493.1 176 1489.5 177.6 1488 178 C1486.6 178.5 1487.8 177.4 1486.8 178 C1485.7 178.7 1482.8 180.2 1481.7 181.8 C1480.7 183.5 1480.5 186.1 1480.5 188.2 C1480.5 190.3 1480.9 192.6 1481.7 194.5 C1482.6 196.4 1484.6 197.4 1485.5 199.5 C1486.5 201.6 1487.3 204.8 1487.4 207.1 C1487.5 209.4 1486.9 211.8 1486.2 213.4 C1485.4 215.1 1484.8 216 1483 217.2 C1481.2 218.5 1477.7 219.8 1475.4 221 C1473.1 222.3 1470.5 223.4 1469.1 224.8 C1467.7 226.3 1467 228.2 1467.2 229.9 C1467.4 231.6 1469.4 233.3 1470.3 234.9 C1471.3 236.6 1472.5 239.2 1472.9 240" fill="none" stroke="#4a4540" stroke-width="0.935"/>
<path d="M1622.7 66.8 C1621.8 68.5 1619.2 73.3 1617 76.9 C1614.8 80.5 1611.7 84.7 1609.4 88.3 C1607.1 91.9 1604.8 95 1603.1 98.4 C1601.4 101.8 1600.4 104.9 1599.3 108.5 C1598.3 112.1 1597.2 118 1596.8 119.9" fill="none" stroke="#4a4540" stroke-width="0.935"/>
<path d="M1556.3 152.8 C1555.1 152.8 1551.3 151.9 1548.7 152.8 C1546.2 153.6 1544.1 156.1 1541.2 157.8 C1538.2 159.5 1534 161.2 1531 162.9 C1528.1 164.6 1525.8 165.6 1523.4 167.9 C1521.1 170.3 1518.8 173.4 1517.1 176.8 C1515.4 180.2 1514.4 184.8 1513.3 188.2 C1512.3 191.5 1511.2 194.1 1510.8 197 C1510.4 200 1510.8 204.4 1510.8 205.9" fill="none" stroke="#4a4540" stroke-width="0.935"/>
<path d="M1486.8 169.2 C1486.9 170 1488 172.6 1487.4 174.3 C1486.8 175.9 1484.8 177.6 1483 179.3 C1481.2 181 1478.1 182.5 1476.7 184.4 C1475.2 186.3 1474.5 188.4 1474.1 190.7 C1473.8 193 1473.9 196 1474.8 198.3 C1475.6 200.6 1478 202.9 1479.2 204.6 C1480.4 206.3 1482.1 207.3 1481.7 208.4 C1481.3 209.4 1478.8 210.5 1476.7 210.9 C1474.6 211.3 1471.6 210.4 1469.1 210.9 C1466.6 211.4 1463.8 213.7 1461.5 214.1 C1459.2 214.5 1457.3 214.2 1455.2 213.4 C1453.1 212.7 1451.2 210.3 1448.9 209.7 C1446.5 209 1443.6 209 1441.3 209.7 C1438.9 210.3 1436.8 211.6 1434.9 213.4 C1433 215.3 1431.4 218.1 1429.9 221 C1428.4 224 1427.6 227.6 1426.1 231.2 C1424.6 234.7 1423.1 239.6 1421 242.5 C1418.9 245.5 1416 247.3 1413.4 248.9 C1410.9 250.4 1408.6 251.6 1405.9 252 C1403.1 252.4 1399.5 252.1 1397 251.4 C1394.5 250.6 1392.1 249.3 1390.7 247.6 C1389.3 245.9 1388.6 243.6 1388.8 241.3 C1389 238.9 1390.4 236.2 1392 233.7 C1393.5 231.2 1396 228.8 1398.3 226.1 C1400.6 223.4 1403.3 219.8 1405.9 217.2 C1408.4 214.7 1411.3 212.8 1413.4 210.9 C1415.6 209 1417 207.5 1418.5 205.9 C1420 204.2 1421.7 201.6 1422.3 200.8" fill="none" stroke="#4a4540" stroke-width="0.935"/>
<path d="M1422.3 200.8 C1423.1 200.5 1426 199.8 1427.4 198.9 C1428.7 198.1 1430.3 196.9 1430.5 195.7 C1430.7 194.6 1429.8 192.6 1428.6 192 C1427.5 191.3 1425.3 191.5 1423.6 192 C1421.9 192.4 1421.5 194 1418.5 194.5 C1415.6 195 1410.1 194.9 1405.9 195.1 C1401.6 195.3 1397.1 195.6 1393.2 195.7 C1389.3 195.9 1384.3 195.7 1382.5 195.7" fill="none" stroke="#4a4540" stroke-width="0.935"/>
<path d="M1460.2 164.1 C1459.9 165.4 1458.5 169 1458.3 171.7 C1458.1 174.5 1459.1 177.6 1459 180.6 C1458.9 183.5 1458.8 187.1 1457.7 189.4 C1456.6 191.7 1454.3 194.1 1452.6 194.5 C1451 194.9 1449.3 193.4 1447.6 192 C1445.9 190.5 1444.2 187.5 1442.5 185.6 C1440.8 183.7 1439.4 182.1 1437.5 180.6 C1435.6 179.1 1432.6 178.7 1431.2 176.8 C1429.7 174.9 1428.6 171.7 1428.6 169.2 C1428.6 166.7 1429.5 163.4 1431.2 161.6 C1432.8 159.8 1436 159.2 1438.7 158.4 C1441.5 157.7 1445.5 158.1 1447.6 157.2 C1449.7 156.2 1451 154.8 1451.4 152.8 C1451.8 150.8 1450.5 147.5 1450.1 145.2 C1449.7 142.9 1449.1 139.9 1448.9 138.9" fill="none" stroke="#4a4540" stroke-width="0.935"/>
<path d="M1460.2 164.1 C1461.3 163.7 1464 161.6 1466.6 161.6 C1469.1 161.6 1472.7 163.5 1475.4 164.1 C1478.1 164.8 1481.1 164.6 1483 165.4 C1484.9 166.2 1486.2 168.6 1486.8 169.2" fill="none" stroke="#4a4540" stroke-width="0.935"/>
<path d="M1465.3 112.3 C1467 112.5 1473.3 112.1 1475.4 113.6 C1477.5 115 1477.3 118.4 1477.9 121.2 C1478.6 123.9 1478.8 127.3 1479.2 130 C1479.6 132.7 1480.5 134.8 1480.5 137.6 C1480.5 140.3 1480.7 144.5 1479.2 146.4 C1477.7 148.3 1473.9 149 1471.6 149 C1469.3 149 1467 147.9 1465.3 146.4 C1463.6 145 1462.5 142.6 1461.5 140.1 C1460.4 137.6 1457.7 133.2 1459 131.3 C1460.2 129.4 1465.9 128.9 1469.1 128.7 C1472.2 128.5 1476.5 129.8 1477.9 130" fill="none" stroke="#4a4540" stroke-width="0.935"/>
<path d="M1459 162.9 C1458.8 164.4 1457.7 168.6 1457.7 171.7 C1457.7 174.9 1459 178.7 1459 181.8 C1459 185 1458.8 188.5 1457.7 190.7 C1456.6 192.9 1454.3 194.7 1452.6 195.1 C1451 195.5 1449.3 194.4 1447.6 193.2 C1445.9 192.1 1443.8 189.2 1442.5 188.2 C1441.3 187.1 1440.4 187.1 1440 186.9" fill="none" stroke="#4a4540" stroke-width="0.935"/>
<path d="M1459 162.9 C1460.2 162.7 1463.8 161.4 1466.6 161.6 C1469.3 161.8 1472.7 163.5 1475.4 164.1 C1478.1 164.8 1481.1 164.6 1483 165.4 C1484.9 166.2 1486.1 168.6 1486.8 169.2" fill="none" stroke="#4a4540" stroke-width="0.935"/>
<path d="M1440 146.4 C1441.1 146.4 1444.6 145.4 1446.3 146.4 C1448 147.5 1449.9 150.9 1450.1 152.8 C1450.3 154.7 1449.3 156.8 1447.6 157.8 C1445.9 158.9 1441.3 158.9 1440 159.1" fill="none" stroke="#4a4540" stroke-width="0.935"/>
<path d="M1417.2 160.3 C1417.7 162.7 1419.6 169.8 1419.8 174.3 C1420 178.7 1418.9 183.5 1418.5 186.9 C1418.1 190.3 1417.5 193.2 1417.2 194.5" fill="none" stroke="#4a4540" stroke-width="0.935"/>
<path d="M1426.7 247 C1425.4 248.5 1419.9 253.6 1418.5 256.4 C1417.1 259.3 1419.8 262.3 1418.5 264 C1417.2 265.7 1413 265.1 1410.9 266.6 C1408.8 268 1406.3 270.8 1405.9 272.9 C1405.4 275 1407.1 277.3 1408.4 279.2 C1409.7 281.1 1413 282.8 1413.4 284.3 C1413.9 285.7 1412.8 286.4 1410.9 288 C1409 289.7 1405.4 291.8 1402.1 294.4 C1398.7 296.9 1392.6 301.7 1390.7 303.2" fill="none" stroke="#4a4540" stroke-width="0.935"/>
<path d="M1330 307 C1330.8 307.2 1333.6 306.8 1335.1 308.3 C1336.5 309.8 1337.4 314 1338.9 315.9 C1340.3 317.8 1341.8 319.2 1343.9 319.7 C1346 320.1 1349.4 319.7 1351.5 318.4 C1353.6 317.1 1355.1 314.2 1356.6 312.1 C1358 310 1358.4 307.4 1360.3 305.7 C1362.2 304.1 1365.8 302.2 1367.9 302 C1370 301.7 1370.9 303.6 1373 304.5 C1375.1 305.3 1378.5 307 1380.6 307 C1382.7 307 1384.8 304.9 1385.6 304.5" fill="none" stroke="#4a4540" stroke-width="0.935"/>
<path d="M1402.1 291.8 C1403.5 291.2 1407.8 288.7 1410.9 288 C1414.1 287.4 1418.3 287 1421 288 C1423.8 289.1 1426.3 293.3 1427.4 294.4" fill="none" stroke="#4a4540" stroke-width="0.935"/>
<path d="M1427.4 250.1 C1428.6 250.3 1432.6 250.5 1434.9 251.4 C1437.3 252.2 1439.7 253.9 1441.3 255.2 C1442.8 256.4 1443.9 258.3 1444.4 259" fill="none" stroke="#4a4540" stroke-width="0.935"/>
<path d="M1510.8 205.9 C1510.8 204.4 1510.4 200 1510.8 197 C1511.2 194.1 1512.3 191.5 1513.3 188.2 C1514.4 184.8 1516.5 178.7 1517.1 176.8" fill="none" stroke="#4a4540" stroke-width="0.935"/>
<path d="M1380.8 309.3 C1380.2 308.9 1378.7 307.8 1377 306.8 C1375.3 305.7 1372.8 303.2 1370.7 303 C1368.6 302.8 1366 304.3 1364.4 305.5 C1362.8 306.8 1362.1 308.9 1361.2 310.6 C1360.4 312.3 1360.5 314.2 1359.3 315.6 C1358.2 317.1 1356.4 318.8 1354.3 319.4 C1352.1 320.1 1349 320.1 1346.7 319.4 C1344.4 318.8 1341.8 317.1 1340.3 315.6 C1338.9 314.2 1338.9 311.8 1337.8 310.6 C1336.8 309.3 1335.3 307.8 1334 308 C1332.8 308.3 1330.9 310.2 1330.2 311.8 C1329.6 313.5 1330.4 316.1 1330.2 318.2 C1330 320.3 1330.7 323.1 1329 324.5 C1327.3 325.9 1323.1 326.4 1320.1 326.4 C1317.2 326.4 1313.4 326.1 1311.3 324.5 C1309.2 322.9 1308.5 319.6 1307.5 316.9 C1306.4 314.2 1305.6 311 1304.9 308 C1304.3 305.1 1302.6 300.9 1303.7 299.2 C1304.7 297.5 1308.7 297.7 1311.3 297.9 C1313.8 298.1 1316.3 300.7 1318.9 300.5 C1321.4 300.2 1324.8 298.1 1326.4 296.7 C1328.1 295.2 1328.5 295 1329 291.6 C1329.4 288.2 1329.4 280.4 1329 276.4 C1328.5 272.4 1326.9 269.1 1326.4 267.6" fill="none" stroke="#4a4540" stroke-width="0.935"/>
<path d="M1292.9 322 C1292.4 323.6 1291.1 328.9 1289.8 332.1 C1288.4 335.2 1286.6 338 1284.7 340.9 C1282.8 343.9 1280.5 347.6 1278.4 349.8 C1276.3 352 1274.4 353.4 1272.1 354.2 C1269.8 355 1267.2 354.8 1264.5 354.8 C1261.7 354.9 1257.1 354.6 1255.6 354.6" fill="none" stroke="#4a4540" stroke-width="0.935"/>
<path d="M1221.5 377.6 C1222.1 379.1 1223.8 383.3 1225.3 386.4 C1226.8 389.6 1229.1 393.4 1230.3 396.6 C1231.6 399.7 1232.2 402.9 1232.9 405.4 C1233.5 407.9 1233.3 412.1 1234.1 411.7 C1235 411.3 1236.5 405.8 1237.9 402.9 C1239.4 399.9 1241.1 397 1243 394 C1244.9 391.1 1247.2 387.6 1249.3 385.2 C1251.4 382.8 1252.9 380.3 1255.6 379.5 C1258.4 378.6 1262.4 379.4 1265.7 380.1 C1269.1 380.9 1272.9 382.6 1275.9 383.9 C1278.8 385.2 1281.2 387.1 1283.4 387.7 C1285.7 388.3 1287 387.9 1289.1 387.7 C1291.2 387.5 1294.1 385.8 1296.1 386.4 C1298.1 387.1 1299.7 389.4 1301.2 391.5 C1302.6 393.6 1303.5 396.8 1304.9 399.1 C1306.4 401.4 1307.9 403.7 1310 405.4 C1312.1 407.1 1315.1 408.8 1317.6 409.2 C1320.1 409.6 1323.3 408.8 1325.2 407.9 C1327.1 407.1 1328.3 404.8 1329 404.1" fill="none" stroke="#4a4540" stroke-width="0.935"/>
<path d="M1253.1 409.2 C1254.4 408.4 1258.2 405.4 1260.7 404.1 C1263.2 402.9 1266 401.8 1268.3 401.6 C1270.6 401.4 1273.1 401.8 1274.6 402.9 C1276.1 403.9 1277.1 406 1277.1 407.9 C1277.1 409.8 1276.1 412.6 1274.6 414.3 C1273.1 415.9 1270.2 416.8 1268.3 418 C1266.4 419.3 1263.6 420.6 1263.2 421.8 C1262.8 423.1 1264.1 425.2 1265.7 425.6 C1267.4 426.1 1270.6 424.7 1273.3 424.4 C1276.1 424.1 1279.4 423.5 1282.2 423.7 C1284.9 423.9 1287.7 424.7 1289.8 425.6 C1291.9 426.6 1294 428.8 1294.8 429.4" fill="none" stroke="#4a4540" stroke-width="0.935"/>
<path d="M1321.4 394 C1321.2 394.9 1321.4 398 1320.1 399.1 C1318.9 400.1 1314.8 400.1 1313.8 400.3" fill="none" stroke="#4a4540" stroke-width="0.935"/>
<path d="M1294.8 430.7 C1295.9 432.2 1299 436.8 1301.2 439.5 C1303.3 442.3 1305.6 445 1307.5 447.1 C1309.4 449.2 1311.7 451.3 1312.5 452.2" fill="none" stroke="#4a4540" stroke-width="0.935"/>
<path d="M1130.6 460.9 C1131 460.1 1131.8 456.9 1133.1 455.9 C1134.4 454.8 1136.1 454 1138.2 454.6 C1140.3 455.2 1143.2 458.6 1145.7 459.7 C1148.3 460.7 1151.2 461.3 1153.3 460.9 C1155.4 460.5 1156.3 458.6 1158.4 457.1 C1160.5 455.7 1163.4 453 1166 452.1 C1168.5 451.1 1170.6 451.2 1173.6 451.4 C1176.5 451.6 1180.3 453.2 1183.7 453.3 C1187.1 453.4 1190.8 452.9 1193.8 452.1 C1196.7 451.2 1199.5 450 1201.4 448.3 C1203.3 446.6 1204.3 444.5 1205.2 442 C1206 439.4 1206.4 435.6 1206.4 433.1 C1206.4 430.6 1205.2 428.9 1205.2 426.8 C1205.2 424.7 1205 422.1 1206.4 420.5 C1207.9 418.8 1211.9 418.1 1214 416.7 C1216.1 415.2 1217.2 412.7 1219.1 411.6 C1221 410.6 1223.3 410.8 1225.4 410.3 C1227.5 409.9 1230.5 410.3 1231.7 409.1 C1233 407.8 1233.2 405.5 1233 402.8 C1232.8 400 1231.5 395.6 1230.5 392.6 C1229.4 389.7 1227.9 387.2 1226.7 385.1 C1225.4 383 1223.5 380.8 1222.9 380" fill="none" stroke="#4a4540" stroke-width="0.935"/>
<path d="M1080 522.9 C1081.3 523.7 1085.1 526.7 1087.6 527.9 C1090.1 529.2 1092.2 530.3 1095.2 530.5 C1098.1 530.7 1102.1 530.5 1105.3 529.2 C1108.4 527.9 1111.6 525 1114.1 522.9 C1116.7 520.8 1118.1 518 1120.5 516.6 C1122.8 515.1 1125.5 514 1128 514 C1130.6 514 1133.1 515.5 1135.6 516.6 C1138.2 517.6 1140.5 519.5 1143.2 520.3 C1146 521.2 1149.1 521.6 1152.1 521.6 C1155 521.6 1157.8 520.8 1160.9 520.3 C1164.1 519.9 1168.1 518.9 1171 519.1 C1174 519.3 1176.7 520.1 1178.6 521.6 C1180.5 523.1 1180.9 526 1182.4 527.9 C1183.9 529.8 1185.2 531.5 1187.5 533 C1189.8 534.5 1194.8 536.2 1196.3 536.8" fill="none" stroke="#4a4540" stroke-width="0.935"/>
<path d="M1187.3 431.8 C1187.3 429.8 1188.6 427.3 1189.9 425.9 C1191.1 424.4 1193.1 423.3 1195 423.3 C1196.8 423.3 1199.5 424.4 1201 425.9 C1202.4 427.3 1203.5 429.8 1203.5 431.8 C1203.5 433.8 1202.4 436.4 1201 437.8 C1199.5 439.2 1196.8 440.4 1195 440.4 C1193.1 440.4 1191.1 439.2 1189.9 437.8 C1188.6 436.4 1187.3 433.8 1187.3 431.8Z" fill="none" stroke="#4a4540" stroke-width="0.765"/>
<path d="M1185.2 431.8 C1185.2 429.3 1186.8 426.1 1188.4 424.3 C1190.1 422.5 1192.6 421.1 1194.9 421.1 C1197.2 421.1 1200.6 422.5 1202.4 424.3 C1204.2 426.1 1205.6 429.3 1205.6 431.8 C1205.6 434.3 1204.2 437.6 1202.4 439.4 C1200.6 441.2 1197.2 442.6 1194.9 442.6 C1192.6 442.6 1190.1 441.2 1188.4 439.4 C1186.8 437.6 1185.2 434.3 1185.2 431.8Z" fill="none" stroke="#4a4540" stroke-width="0.765"/>
<path d="M1182.8 431.8 C1182.8 428.7 1184.8 424.8 1186.8 422.5 C1188.8 420.3 1191.9 418.6 1194.8 418.6 C1197.7 418.6 1201.9 420.3 1204.1 422.5 C1206.3 424.8 1208.1 428.7 1208.1 431.8 C1208.1 434.9 1206.3 438.9 1204.1 441.1 C1201.9 443.3 1197.7 445.1 1194.8 445.1 C1191.9 445.1 1188.8 443.3 1186.8 441.1 C1184.8 438.9 1182.8 434.9 1182.8 431.8Z" fill="none" stroke="#4a4540" stroke-width="0.765"/>
<path d="M1196.4 404 C1196.4 401.1 1200.2 397.2 1202.5 395.9 C1204.9 394.5 1208.6 394.5 1210.6 395.9 C1212.6 397.2 1214.7 401.3 1214.7 404 C1214.7 406.7 1212.6 410.5 1210.6 412.1 C1208.6 413.6 1204.9 414.4 1202.5 413.1 C1200.2 411.7 1196.4 406.8 1196.4 404Z" fill="none" stroke="#4a4540" stroke-width="0.765"/>
<path d="M1192.8 403.9 C1192.8 400 1197.9 394.6 1201.1 392.8 C1204.4 390.9 1209.5 390.9 1212.3 392.8 C1215 394.6 1217.8 400.2 1217.8 403.9 C1217.8 407.6 1215 412.9 1212.3 415 C1209.5 417.1 1204.4 418.3 1201.1 416.4 C1197.9 414.6 1192.8 407.8 1192.8 403.9Z" fill="none" stroke="#4a4540" stroke-width="0.765"/>
<path d="M1150.8 557 C1151.6 555.5 1154 550.5 1155.9 548.2 C1157.8 545.8 1159.7 544.2 1162.2 543.1 C1164.7 542.1 1168.3 541.4 1171 541.8 C1173.8 542.3 1176.3 544.4 1178.6 545.6 C1180.9 546.9 1182.4 548.8 1184.9 549.4 C1187.5 550.1 1192.3 549.4 1193.8 549.4" fill="none" stroke="#4a4540" stroke-width="0.935"/>
<path d="M1080 563.3 C1081.3 564.4 1084.6 567.8 1087.6 569.7 C1090.5 571.6 1094.3 573.7 1097.7 574.7 C1101.1 575.8 1104.4 576.6 1107.8 576 C1111.2 575.3 1115 572.8 1117.9 570.9 C1120.9 569 1123 566.1 1125.5 564.6 C1128 563.1 1130.6 562.3 1133.1 562.1 C1135.6 561.9 1138.2 563.3 1140.7 563.3 C1143.2 563.3 1145.7 562.3 1148.3 562.1 C1150.8 561.9 1152.9 562.1 1155.9 562.1 C1158.8 562.1 1162.6 561.6 1166 562.1 C1169.3 562.5 1173.1 563.5 1176.1 564.6 C1179 565.7 1180.7 566.3 1183.7 568.4 C1186.6 570.5 1192.1 575.8 1193.8 577.2" fill="none" stroke="#4a4540" stroke-width="0.935"/>
<path d="M1262.1 424.3 C1262.3 423.4 1261.6 420.5 1263.3 419.2 C1265 417.9 1269.9 418.1 1272.2 416.7 C1274.5 415.2 1276.4 412.5 1277.2 410.3 C1278.1 408.2 1278.1 405.7 1277.2 404 C1276.4 402.3 1274.1 400.4 1272.2 400.2 C1270.3 400 1267.6 401.7 1265.9 402.8 C1264.2 403.8 1264 404.9 1262.1 406.6 C1260.2 408.2 1255.7 411.8 1254.5 412.9" fill="none" stroke="#4a4540" stroke-width="0.935"/>
<path d="M1262.1 424.3 C1262.9 424.5 1264.6 425.7 1267.1 425.5 C1269.7 425.3 1273.7 423.2 1277.2 423 C1280.8 422.8 1285.6 423 1288.6 424.3 C1291.7 425.5 1294.4 429.5 1295.6 430.6" fill="none" stroke="#4a4540" stroke-width="0.935"/>
<path d="M1254.5 471 C1255.3 471.5 1258.3 472.3 1259.5 473.6 C1260.8 474.8 1261.4 476.1 1262.1 478.6 C1262.7 481.2 1261.6 485.8 1263.3 488.7 C1265 491.7 1270.7 495.1 1272.2 496.3" fill="none" stroke="#4a4540" stroke-width="0.935"/>
<path d="M1082.8 520.3 C1083.2 520.6 1083.8 520.6 1085.3 521.6 C1086.8 522.7 1089.3 525.4 1091.6 526.7 C1093.9 527.9 1096.5 529.2 1099.2 529.2 C1101.9 529.2 1105.5 527.9 1108 526.7 C1110.6 525.4 1112.5 523.3 1114.4 521.6 C1116.3 519.9 1117.5 517.8 1119.4 516.6 C1121.3 515.3 1123.4 514.2 1125.7 514 C1128.1 513.8 1130.6 514.4 1133.3 515.3 C1136.1 516.1 1139 518 1142.2 519.1 C1145.3 520.1 1148.9 521.6 1152.3 521.6 C1155.7 521.6 1159.7 519.6 1162.4 519.1 C1165.2 518.6 1167.7 518.6 1168.7 518.4" fill="none" stroke="#4a4540" stroke-width="0.935"/>
<path d="M1168.7 576.6 C1168.1 576.7 1167.3 576.7 1164.9 577.2 C1162.6 577.8 1157.8 579.1 1154.8 579.8 C1151.9 580.4 1149.4 581.7 1147.2 581 C1145.1 580.4 1143.2 578.1 1142.2 576 C1141.1 573.9 1141.8 570.7 1140.9 568.4 C1140.1 566.1 1138.8 563.4 1137.1 562.1 C1135.4 560.7 1132.9 560 1130.8 560.2 C1128.7 560.4 1126.4 561.8 1124.5 563.3 C1122.6 564.9 1121.3 567.8 1119.4 569.7 C1117.5 571.6 1115.8 573.6 1113.1 574.7 C1110.4 575.9 1106.2 576.6 1103 576.6 C1099.8 576.6 1096.9 576.1 1094.1 574.7 C1091.4 573.3 1088.9 570.7 1086.6 568.4 C1084.2 566.1 1082.1 563.5 1080.2 560.8 C1078.3 558.1 1077.1 554.5 1075.2 552 C1073.3 549.4 1071.2 547.1 1068.9 545.6 C1066.5 544.2 1063.2 543.9 1061.3 543.1 C1059.4 542.3 1058.1 541 1057.5 540.6" fill="none" stroke="#4a4540" stroke-width="0.935"/>
<path d="M1073.9 660.7 C1075.2 660.1 1079 658.8 1081.5 656.9 C1084 655 1086.6 651.6 1089.1 649.3 C1091.6 647 1093.9 644.5 1096.7 643 C1099.4 641.5 1103.6 640 1105.5 640.5 C1107.4 640.9 1107.6 643.2 1108 645.5 C1108.5 647.8 1107.6 651.2 1108 654.4 C1108.5 657.5 1109.3 661.5 1110.6 664.5 C1111.8 667.4 1114.8 670.8 1115.6 672.1" fill="none" stroke="#4a4540" stroke-width="0.935"/>
<path d="M1030.9 576 C1031.1 577.2 1032.6 581.2 1032.2 583.6 C1031.8 585.9 1029.7 588.2 1028.4 589.9 C1027.1 591.6 1025.2 593 1024.6 593.7" fill="none" stroke="#4a4540" stroke-width="0.935"/>
<path d="M974 611.4 C973.8 612.4 973.2 615.8 972.8 617.7 C972.3 619.6 971.7 621.9 971.5 622.8" fill="none" stroke="#4a4540" stroke-width="0.935"/>
</g>
<text x="1517.8" y="63.6" font-size="10.4" fill="#2a1a10" text-anchor="middle" dominant-baseline="central" transform="rotate(-48 1517.8 63.6)">3.0</text>
<text x="1528.5" y="73.7" font-size="10.4" fill="#2a1a10" text-anchor="middle" dominant-baseline="central" transform="rotate(-48 1528.5 73.7)">3.0</text>
<text x="1539.3" y="82" font-size="10.4" fill="#2a1a10" text-anchor="middle" dominant-baseline="central" transform="rotate(-48 1539.3 82)">2.5</text>
<text x="1550" y="90.8" font-size="10.4" fill="#2a1a10" text-anchor="middle" dominant-baseline="central" transform="rotate(-48 1550 90.8)">2.0</text>
<text x="1610.1" y="83.9" font-size="10.4" fill="#2a1a10" text-anchor="middle" dominant-baseline="central" transform="rotate(-55 1610.1 83.9)">1.0</text>
<text x="1543.7" y="123.7" font-size="10.4" fill="#2a1a10" text-anchor="middle" dominant-baseline="central" transform="rotate(-80 1543.7 123.7)">1.0</text>
<text x="1515.2" y="155.9" font-size="9.5" fill="#2a1a10" text-anchor="middle" dominant-baseline="central" transform="rotate(60 1515.2 155.9)">1.5</text>
<text x="1527.2" y="162.2" font-size="10.4" fill="#2a1a10" text-anchor="middle" dominant-baseline="central" transform="rotate(-60 1527.2 162.2)">1.0</text>
<text x="1475.4" y="202.1" font-size="9.5" fill="#2a1a10" text-anchor="middle" dominant-baseline="central" transform="rotate(60 1475.4 202.1)">2.0</text>
<text x="1465.9" y="212.8" font-size="9.5" fill="#2a1a10" text-anchor="middle" dominant-baseline="central" transform="rotate(-30 1465.9 212.8)">2.0</text>
<text x="1493.1" y="126.2" font-size="9.5" fill="#2a1a10" text-anchor="middle" dominant-baseline="central" transform="rotate(-60 1493.1 126.2)">2.5</text>
<text x="1490.6" y="189.4" font-size="9.5" fill="#2a1a10" text-anchor="middle" dominant-baseline="central" transform="rotate(0 1490.6 189.4)">1.0</text>
<text x="1470.3" y="146.4" font-size="8.5" fill="#2a1a10" text-anchor="middle" dominant-baseline="central" transform="rotate(90 1470.3 146.4)">2.5</text>
<text x="1459" y="151.5" font-size="8.5" fill="#2a1a10" text-anchor="middle" dominant-baseline="central" transform="rotate(60 1459 151.5)">1.5</text>
<text x="1471.6" y="178" font-size="8.5" fill="#2a1a10" text-anchor="middle" dominant-baseline="central" transform="rotate(60 1471.6 178)">2.5</text>
<text x="1447.6" y="174.3" font-size="8.5" fill="#2a1a10" text-anchor="middle" dominant-baseline="central" transform="rotate(70 1447.6 174.3)">1.5</text>
<text x="1408.4" y="186.3" font-size="12.3" fill="#2a1a10" text-anchor="middle" dominant-baseline="central" transform="rotate(8 1408.4 186.3)">2.5</text>
<text x="1470.3" y="207.1" font-size="10.4" fill="#2a1a10" text-anchor="middle" dominant-baseline="central" transform="rotate(-50 1470.3 207.1)">2.0</text>
<text x="1352.8" y="251.4" font-size="10.4" fill="#2a1a10" text-anchor="middle" dominant-baseline="central" transform="rotate(-55 1352.8 251.4)">2.0</text>
<text x="1403.3" y="267.8" font-size="9.5" fill="#2a1a10" text-anchor="middle" dominant-baseline="central" transform="rotate(-55 1403.3 267.8)">2.0</text>
<text x="1397" y="307" font-size="12.3" fill="#2a1a10" text-anchor="middle" dominant-baseline="central" transform="rotate(0 1397 307)">1.5</text>
<text x="1349" y="289.3" font-size="8.5" fill="#2a1a10" text-anchor="middle" dominant-baseline="central" transform="rotate(60 1349 289.3)">2.5</text>
<text x="1345.2" y="300.7" font-size="8.5" fill="#2a1a10" text-anchor="middle" dominant-baseline="central" transform="rotate(20 1345.2 300.7)">2.5</text>
<text x="1441.3" y="227.4" font-size="9.5" fill="#2a1a10" text-anchor="middle" dominant-baseline="central" transform="rotate(0 1441.3 227.4)">1.5</text>
<text x="1451.4" y="233.7" font-size="8.5" fill="#2a1a10" text-anchor="middle" dominant-baseline="central" transform="rotate(60 1451.4 233.7)">2.0</text>
<text x="1443.8" y="174.3" font-size="8.5" fill="#2a1a10" text-anchor="middle" dominant-baseline="central" transform="rotate(60 1443.8 174.3)">1.5</text>
<text x="1461.5" y="240" font-size="8.5" fill="#2a1a10" text-anchor="middle" dominant-baseline="central" transform="rotate(-70 1461.5 240)">2.0</text>
<text x="1324.5" y="343.4" font-size="11.4" fill="#2a1a10" text-anchor="middle" dominant-baseline="central" transform="rotate(-38 1324.5 343.4)">1.5</text>
<text x="1279.7" y="347.2" font-size="11.4" fill="#2a1a10" text-anchor="middle" dominant-baseline="central" transform="rotate(-52 1279.7 347.2)">1.0</text>
<text x="1248" y="381.4" font-size="11.4" fill="#2a1a10" text-anchor="middle" dominant-baseline="central" transform="rotate(-50 1248 381.4)">1.5</text>
<text x="1272.1" y="447.1" font-size="12.3" fill="#2a1a10" text-anchor="middle" dominant-baseline="central" transform="rotate(0 1272.1 447.1)">1.0</text>
<text x="1308.7" y="394" font-size="10.4" fill="#2a1a10" text-anchor="middle" dominant-baseline="central" transform="rotate(82 1308.7 394)">1.0</text>
<text x="1322.6" y="294.1" font-size="9.5" fill="#2a1a10" text-anchor="middle" dominant-baseline="central" transform="rotate(-50 1322.6 294.1)">2.0</text>
<text x="1312.5" y="286.6" font-size="8.5" fill="#2a1a10" text-anchor="middle" dominant-baseline="central" transform="rotate(60 1312.5 286.6)">1.5</text>
<text x="1235.4" y="424.4" font-size="8.5" fill="#2a1a10" text-anchor="middle" dominant-baseline="central" transform="rotate(80 1235.4 424.4)">2.0</text>
<text x="1219" y="394" font-size="8.5" fill="#2a1a10" text-anchor="middle" dominant-baseline="central" transform="rotate(70 1219 394)">2.0</text>
<text x="1248" y="405.4" font-size="8.5" fill="#2a1a10" text-anchor="middle" dominant-baseline="central" transform="rotate(-30 1248 405.4)">2.0</text>
<text x="1179.9" y="462.2" font-size="12.3" fill="#2a1a10" text-anchor="middle" dominant-baseline="central" transform="rotate(10 1179.9 462.2)">1.0</text>
<text x="1146.4" y="494.4" font-size="13.3" fill="#2a1a10" text-anchor="middle" dominant-baseline="central" transform="rotate(0 1146.4 494.4)">1.0</text>
<text x="1160.9" y="523.5" font-size="12.3" fill="#2a1a10" text-anchor="middle" dominant-baseline="central" transform="rotate(5 1160.9 523.5)">1.5</text>
<text x="1272.2" y="446.4" font-size="12.3" fill="#2a1a10" text-anchor="middle" dominant-baseline="central" transform="rotate(-5 1272.2 446.4)">1.0</text>
<text x="1174.2" y="432.5" font-size="10.4" fill="#2a1a10" text-anchor="middle" dominant-baseline="central" transform="rotate(-60 1174.2 432.5)">1.5</text>
<text x="1245.6" y="509" font-size="10.4" fill="#2a1a10" text-anchor="middle" dominant-baseline="central" transform="rotate(60 1245.6 509)">1.0</text>
<text x="1092.6" y="550.7" font-size="10.4" fill="#2a1a10" text-anchor="middle" dominant-baseline="central" transform="rotate(45 1092.6 550.7)">2.0</text>
<text x="1109.1" y="506.4" font-size="9.5" fill="#2a1a10" text-anchor="middle" dominant-baseline="central" transform="rotate(-50 1109.1 506.4)">1.0</text>
<text x="1222.9" y="455.9" font-size="9.5" fill="#2a1a10" text-anchor="middle" dominant-baseline="central" transform="rotate(70 1222.9 455.9)">1.5</text>
<text x="1210.2" y="476.1" font-size="9.5" fill="#2a1a10" text-anchor="middle" dominant-baseline="central" transform="rotate(70 1210.2 476.1)">1.0</text>
<text x="1210.2" y="501.4" font-size="8.5" fill="#2a1a10" text-anchor="middle" dominant-baseline="central" transform="rotate(70 1210.2 501.4)">2.0</text>
<text x="1203.9" y="516.6" font-size="9.5" fill="#2a1a10" text-anchor="middle" dominant-baseline="central" transform="rotate(50 1203.9 516.6)">1.5</text>
<text x="1273.5" y="477.4" font-size="9.5" fill="#2a1a10" text-anchor="middle" dominant-baseline="central" transform="rotate(-50 1273.5 477.4)">1.0</text>
<text x="1235.5" y="430.6" font-size="8.5" fill="#2a1a10" text-anchor="middle" dominant-baseline="central" transform="rotate(0 1235.5 430.6)">2.0</text>
<text x="1143.2" y="540.6" font-size="8.5" fill="#2a1a10" text-anchor="middle" dominant-baseline="central" transform="rotate(0 1143.2 540.6)">2.0</text>
<text x="1139.4" y="458.4" font-size="8.5" fill="#2a1a10" text-anchor="middle" dominant-baseline="central" transform="rotate(10 1139.4 458.4)">1.5</text>
<text x="1123" y="479.9" font-size="8.5" fill="#2a1a10" text-anchor="middle" dominant-baseline="central" transform="rotate(70 1123 479.9)">1.0</text>
<text x="1148.3" y="558.3" font-size="8.5" fill="#2a1a10" text-anchor="middle" dominant-baseline="central" transform="rotate(50 1148.3 558.3)">2.0</text>
<text x="1143.2" y="574.7" font-size="8.5" fill="#2a1a10" text-anchor="middle" dominant-baseline="central" transform="rotate(70 1143.2 574.7)">2.0</text>
<text x="1091.6" y="546.9" font-size="8.5" fill="#2a1a10" text-anchor="middle" dominant-baseline="central" transform="rotate(50 1091.6 546.9)">2.0</text>
<text x="1105.5" y="512.8" font-size="8.5" fill="#2a1a10" text-anchor="middle" dominant-baseline="central" transform="rotate(70 1105.5 512.8)">1.0</text>
<text x="1114.4" y="610.1" font-size="8.5" fill="#2a1a10" text-anchor="middle" dominant-baseline="central" transform="rotate(40 1114.4 610.1)">1.0</text>
<text x="1124.5" y="625.3" font-size="8.5" fill="#2a1a10" text-anchor="middle" dominant-baseline="central" transform="rotate(50 1124.5 625.3)">1.0</text>
<text x="1094.1" y="649.3" font-size="8.5" fill="#2a1a10" text-anchor="middle" dominant-baseline="central" transform="rotate(70 1094.1 649.3)">1.5</text>
<text x="1085.3" y="654.4" font-size="8.5" fill="#2a1a10" text-anchor="middle" dominant-baseline="central" transform="rotate(-40 1085.3 654.4)">1.5</text>
<text x="1090.3" y="663.2" font-size="8.5" fill="#2a1a10" text-anchor="middle" dominant-baseline="central" transform="rotate(60 1090.3 663.2)">2.0</text>
<text x="1058.7" y="583.6" font-size="8.5" fill="#2a1a10" text-anchor="middle" dominant-baseline="central" transform="rotate(-70 1058.7 583.6)">1.0</text>
<text x="1070.1" y="588.6" font-size="8.5" fill="#2a1a10" text-anchor="middle" dominant-baseline="central" transform="rotate(-50 1070.1 588.6)">1.0</text>
<text x="1042.3" y="592.4" font-size="8.5" fill="#2a1a10" text-anchor="middle" dominant-baseline="central" transform="rotate(0 1042.3 592.4)">2.0</text>
<text x="1022.1" y="594.9" font-size="8.5" fill="#2a1a10" text-anchor="middle" dominant-baseline="central" transform="rotate(0 1022.1 594.9)">1.0</text>
<text x="1139.7" y="603.8" font-size="8.5" fill="#2a1a10" text-anchor="middle" dominant-baseline="central" transform="rotate(0 1139.7 603.8)">1.0</text>
<text x="1134.6" y="591.2" font-size="8.5" fill="#2a1a10" text-anchor="middle" dominant-baseline="central" transform="rotate(90 1134.6 591.2)">1.0</text>
<path d="M1273.3 320.7 L1506.4 77.5 L1493.7 68 L1518.4 54.1 L1563.9 44 L1621.4 42.5 L1623.3 61.7 L1627.1 88.9 L1596.8 119.9 L1564.5 150.2 L1561.4 139.5 L1510.8 193.2 L1488 218.5 L1490 223.6 L1476.7 234.9 L1426.7 247 L1421 264 L1412.2 289.3 L1357.4 322Z" fill="none" stroke="#2a2af0" stroke-width="1.3" stroke-linejoin="miter"/>
<path d="M1010.7 639.2 L1031.6 633.5 L1018.9 608.9 L1070.7 559.5 L1058.1 548.8 L1108 490 L1120.5 476.1 L1126.8 467.2 L1289.2 387.6 L1295.6 430.6 L1254.5 471 L1214 516.6 L1196.3 543.1 L1186.2 567.8 L1162.4 578.5 L1166.2 617.5 L1174.4 616.2 L1127 682.2" fill="none" stroke="#2a2af0" stroke-width="1.3" stroke-linejoin="miter"/>
</g>
<g clip-path="url(#cc)">
<clipPath id="stripC"><path d="M527.6 1429 L539 1413.8 L547.8 1404.9 L557.9 1396.1 L570.6 1393.6 L583.2 1387.2 L590.8 1378.4 L600.9 1368.3 L606 1358.2 L611 1350.6 L617.4 1341.7 L628.7 1335.4 L638.9 1322.8 L649 1310.1 L659.1 1300 L661.5 1294.8 L669.1 1283.4 L676.7 1274.6 L685.5 1265.7 L695.6 1256.9 L708.3 1249.3 L718.4 1237.9 L728.5 1226.6 L741.2 1216.4 L748.7 1208.9 L758.9 1200 L772.6 1191.3 L785.3 1183.7 L797.9 1176.1 L810.6 1166 L819.4 1155.9 L830.8 1143.2 L840.9 1130.6 L848.5 1117.9 L856.1 1107.8 L866.2 1096.4 L876.3 1080 L890.1 1058.7 L899 1047.4 L907.8 1036 L914.1 1027.1 L924.3 1017 L933.1 1006.9 L940.7 996.8 L950.8 986.7 L960.9 977.8 L971 965.2 L981.2 957.6 L991.3 950 L995.1 943.8 L1005.2 934.9 L1015.3 928.6 L1026.7 918.5 L1062.1 885 L1049.4 875.5 L1073.4 862.9 L1120.2 852.5 L1174.9 850.2 L1177.1 867.9 L1181.9 898.3 L1172.1 910.9 L1165.7 921 L1154.4 928.6 L1141.7 936.2 L1131.6 941.3 L1124 946.3 L1116.4 951.4 L1111.4 961.5 L1103.8 969.1 L1098.7 976.7 L1093.7 986.8 L1086.1 993.1 L1078.5 998.2 L1073.4 1007 L1068.4 1017.1 L1064.6 1030 L1057 1032.2 L1044.4 1041 L1031.7 1048.6 L1019.1 1056.2 L1006.4 1063.8 L998.9 1071.4 L993.8 1081.5 L988.7 1092.9 L983.7 1105.5 L976.1 1114.4 L968.5 1123.2 L955.9 1132.1 L945.7 1139.7 L935.6 1144.7 L930.6 1150 L924.4 1155.9 L911.7 1162.2 L901.6 1167.2 L905.4 1173.6 L918 1178.6 L924.4 1183.7 L920.6 1193.8 L914.3 1203.9 L909.2 1214 L896.6 1221.6 L889 1231.7 L881.4 1241.8 L873.8 1254.5 L867.5 1265.9 L856.1 1280 L849.9 1280.9 L837.2 1288.5 L827.1 1301.2 L817 1313.8 L808.2 1323.9 L798 1327.7 L787.9 1336.6 L779.1 1345.4 L771.5 1354.3 L763.9 1363.1 L753.8 1374.5 L748.7 1383.3 L751.3 1392.2 L748.7 1400 L740 1413.8 L734.9 1421.4 L727.4 1434 L717.2 1442.9 L707.1 1451.7 L697 1464.4 L686.9 1474.5 L678 1483.3 L646.4 1474.5 L614.8 1463.1 L583.2 1450.5 L551.6 1437.8Z"/></clipPath>
<g clip-path="url(#stripC)">
<path d="M527.6 1429 L539 1413.8 L547.8 1404.9 L557.9 1396.1 L570.6 1393.6 L583.2 1387.2 L590.8 1378.4 L600.9 1368.3 L606 1358.2 L611 1350.6 L617.4 1341.7 L628.7 1335.4 L638.9 1322.8 L649 1310.1 L659.1 1300 L661.5 1294.8 L669.1 1283.4 L676.7 1274.6 L685.5 1265.7 L695.6 1256.9 L708.3 1249.3 L718.4 1237.9 L728.5 1226.6 L741.2 1216.4 L748.7 1208.9 L758.9 1200 L772.6 1191.3 L785.3 1183.7 L797.9 1176.1 L810.6 1166 L819.4 1155.9 L830.8 1143.2 L840.9 1130.6 L848.5 1117.9 L856.1 1107.8 L866.2 1096.4 L876.3 1080 L890.1 1058.7 L899 1047.4 L907.8 1036 L914.1 1027.1 L924.3 1017 L933.1 1006.9 L940.7 996.8 L950.8 986.7 L960.9 977.8 L971 965.2 L981.2 957.6 L991.3 950 L995.1 943.8 L1005.2 934.9 L1015.3 928.6 L1026.7 918.5 L1062.1 885 L1049.4 875.5 L1073.4 862.9 L1120.2 852.5 L1174.9 850.2 L1177.1 867.9 L1181.9 898.3 L1172.1 910.9 L1165.7 921 L1154.4 928.6 L1141.7 936.2 L1131.6 941.3 L1124 946.3 L1116.4 951.4 L1111.4 961.5 L1103.8 969.1 L1098.7 976.7 L1093.7 986.8 L1086.1 993.1 L1078.5 998.2 L1073.4 1007 L1068.4 1017.1 L1064.6 1030 L1057 1032.2 L1044.4 1041 L1031.7 1048.6 L1019.1 1056.2 L1006.4 1063.8 L998.9 1071.4 L993.8 1081.5 L988.7 1092.9 L983.7 1105.5 L976.1 1114.4 L968.5 1123.2 L955.9 1132.1 L945.7 1139.7 L935.6 1144.7 L930.6 1150 L924.4 1155.9 L911.7 1162.2 L901.6 1167.2 L905.4 1173.6 L918 1178.6 L924.4 1183.7 L920.6 1193.8 L914.3 1203.9 L909.2 1214 L896.6 1221.6 L889 1231.7 L881.4 1241.8 L873.8 1254.5 L867.5 1265.9 L856.1 1280 L849.9 1280.9 L837.2 1288.5 L827.1 1301.2 L817 1313.8 L808.2 1323.9 L798 1327.7 L787.9 1336.6 L779.1 1345.4 L771.5 1354.3 L763.9 1363.1 L753.8 1374.5 L748.7 1383.3 L751.3 1392.2 L748.7 1400 L740 1413.8 L734.9 1421.4 L727.4 1434 L717.2 1442.9 L707.1 1451.7 L697 1464.4 L686.9 1474.5 L678 1483.3 L646.4 1474.5 L614.8 1463.1 L583.2 1450.5 L551.6 1437.8Z" fill="#FEE2BA"/>
<path d="M1026.7 918.5 C1025.5 924 1029.6 925.1 1030.5 927.4 C1031.3 929.6 1033.1 935.4 1034.3 937.5 C1035.4 939.5 1039.1 943.6 1040.6 945.1 C1042.1 946.5 1045.7 948.8 1046.9 950.1 C1048.1 951.4 1049.8 955 1050.7 956.4 C1051.6 957.9 1053.3 961.7 1054.5 962.8 C1055.7 963.9 1059.2 965.6 1060.8 965.9 C1062.4 966.2 1066.6 966 1068.4 965.3 C1070.2 964.6 1074.2 961.7 1076 960.2 C1077.7 958.8 1081.8 954.6 1083.6 952.6 C1085.3 950.7 1089.5 945.4 1091.2 943.8 C1092.8 942.2 1095.7 939.5 1097.5 938.7 C1099.2 937.9 1104.1 936.9 1106.3 936.8 C1108.5 936.8 1113.6 937.7 1116.4 938.1 C1119.2 938.5 1125.9 941.4 1130.3 940.6 C1134.8 939.8 1147.1 936.7 1154.4 931.2 C1161.6 925.6 1189.4 903.5 1192.3 893.2 C1195.3 882.9 1194.4 847.1 1179.7 842.6 C1164.9 838.2 1082.1 850.9 1065.9 855.3 C1049.6 859.7 1045.1 873.2 1040.6 880.6 C1036 888 1027.8 913 1026.7 918.5Z" fill="#FFF6DA"/>
<path d="M1017.2 931.2 C1018.8 932.8 1021.3 936.8 1022.9 938.7 C1024.4 940.7 1028.7 945.7 1030.5 947.6 C1032.2 949.5 1036.8 953.4 1038 955.2 C1039.3 956.9 1040.8 961 1041.2 962.8 C1041.6 964.5 1041.2 969.5 1041.2 970.3 C1041.2 971.2 1042.2 970.6 1041.2 970.3 C1040.2 970.1 1035.1 968.3 1033 967.8 C1030.9 967.3 1025.1 966.1 1022.9 965.9 C1020.7 965.8 1015.6 966 1014 966.6 C1012.4 967.1 1009.7 969 1009 970.3 C1008.2 971.7 1008.4 978.1 1007.7 977.9 C1007 977.8 1004.7 971.6 1002.6 969.1 C1000.6 966.6 993 957.9 990 956.4 C987 955 975.1 960.1 977.4 956.4 C979.6 952.8 1004.3 927.8 1009 924.8 C1013.6 921.9 1015.6 929.5 1017.2 931.2Z" fill="#FEC893"/>
<path d="M1041.2 970.3 C1042.4 969.4 1048.4 970.9 1050.7 971 C1053 971.1 1058.3 971.1 1060.8 971 C1063.3 970.9 1069.5 970.7 1072.2 970.3 C1074.8 970 1080.9 968.6 1083.6 967.8 C1086.2 967.1 1092 964.5 1094.9 964 C1097.9 963.5 1106.3 964.3 1108.9 963.4 C1111.4 962.5 1117 953.6 1116.4 956.4 C1115.8 959.3 1109.7 979.2 1103.8 988 C1097.9 996.9 1075 1027.1 1065.9 1032.3 C1056.7 1037.5 1030.3 1034.5 1025.4 1032.3 C1020.5 1030.1 1024.1 1017 1024.1 1013.3 C1024.1 1009.6 1025 1003.1 1025.4 1000.7 C1025.8 998.3 1026.9 994.6 1027.9 993.1 C1029 991.6 1033.1 988.9 1034.3 988 C1035.4 987.2 1037.3 986.6 1038 985.5 C1038.8 984.5 1040.2 981 1040.6 979.2 C1040.9 977.4 1040 971.3 1041.2 970.3Z" fill="#FEC893"/>
<path d="M1096.2 979.2 C1091.8 979.2 1071 979.2 1065.9 979.2 C1060.7 979.2 1053.6 978.2 1052 979.2 C1050.3 980.2 1051.8 986.1 1052 988 C1052.1 990 1053.5 994 1053.2 995.6 C1052.9 997.3 1050.6 1000.6 1049.4 1002 C1048.2 1003.3 1044.3 1005.7 1043.1 1007 C1041.9 1008.3 1039.8 1011.7 1039.3 1013.3 C1038.9 1015 1038.9 1019.3 1039.3 1020.9 C1039.8 1022.5 1041.8 1025.9 1043.1 1027.2 C1044.4 1028.6 1046.6 1031.7 1050.7 1032.3 C1054.8 1032.9 1072.3 1038.5 1078.5 1032.3 C1084.7 1026.1 1101.7 985.4 1103.8 979.2 C1105.9 973 1100.6 979.2 1096.2 979.2Z" fill="#FDBA78"/>
<path d="M940.7 998 C938.2 1003.1 945.8 1003.6 947 1005.6 C948.2 1007.7 950.3 1013.4 950.8 1015.7 C951.3 1018.1 951.6 1023.5 951.4 1025.9 C951.3 1028.2 950.4 1033.9 949.5 1036 C948.7 1038 946.1 1042.2 944.5 1043.6 C942.9 1045 937.7 1047.2 935.6 1048 C933.6 1048.8 928.8 1049.9 926.8 1050.5 C924.7 1051.2 919.6 1052.7 917.9 1053.7 C916.3 1054.6 914.1 1057.3 912.9 1058.7 C911.7 1060.2 909 1064.4 907.8 1066.3 C906.6 1068.2 904.1 1073.1 902.8 1075.2 C901.4 1077.2 897.6 1081.8 896.4 1084 C895.3 1086.2 892.8 1091.6 892.6 1094.1 C892.5 1096.6 894.4 1103.2 895.2 1105.5 C895.9 1107.9 897.8 1112.9 899 1114.4 C900.1 1115.8 904 1117.1 905.3 1118.2 C906.5 1119.2 909.3 1121.9 909.7 1123.2 C910.2 1124.5 908.9 1128.2 909.1 1129.5 C909.3 1130.9 910.3 1134.3 911.6 1134.6 C912.9 1134.9 918.8 1133 920.5 1132.1 C922.1 1131.2 925.1 1128.5 925.5 1127 C926 1125.5 924.3 1121.5 924.3 1119.4 C924.3 1117.4 924.9 1111.7 925.5 1109.3 C926.1 1107 928.1 1101.1 929.3 1099.2 C930.5 1097.3 934 1094.2 935.6 1092.9 C937.3 1091.5 941.7 1089.1 943.2 1087.8 C944.7 1086.5 947.5 1083.4 948.3 1081.5 C949.1 1079.6 950.1 1073.7 950.2 1071.4 C950.2 1069 949.1 1063.6 948.9 1061.3 C948.7 1058.9 947.5 1052.8 948.3 1051.2 C949.1 1049.5 953.8 1047.8 955.9 1047.4 C957.9 1046.9 963.8 1047.1 966 1047.4 C968.2 1047.7 973.1 1049 974.8 1049.9 C976.6 1050.8 980.6 1053.5 981.2 1054.9 C981.7 1056.4 980.2 1060.8 979.9 1062.5 C979.6 1064.3 978.5 1068.9 978.6 1070.1 C978.8 1071.3 980.3 1072.9 981.2 1072.6 C982 1072.4 984.7 1068.5 986.2 1067.6 C987.7 1066.7 992.3 1065.8 993.8 1065.1 C995.3 1064.3 998.7 1062.3 998.9 1061.3 C999 1060.2 995.8 1057.7 995.1 1056.2 C994.3 1054.7 993.1 1050.7 992.5 1048.6 C991.9 1046.6 990.6 1040.9 990 1038.5 C989.4 1036.1 987.8 1030.8 987.5 1028.4 C987.2 1026 987.9 1020.2 987.5 1018.3 C987 1016.4 984.9 1013.3 983.7 1012 C982.5 1010.6 978.3 1008.4 977.4 1006.9 C976.4 1005.4 975.3 1001 975.5 999.3 C975.6 997.6 977.4 993.5 978.6 992.4 C979.9 991.3 984.4 989.9 986.2 989.8 C988 989.8 992.2 990.8 993.8 991.7 C995.4 992.7 998.8 996.9 1000.1 998 C1001.4 999.2 1003.8 1001.8 1005.2 1001.8 C1006.5 1001.8 1010.5 999.4 1011.5 998 C1012.5 996.7 1014.2 992.2 1014 990.5 C1013.9 988.7 1010.8 984.6 1010.2 982.9 C1009.6 981.1 1009 976.9 1009 975.3 C1009 973.7 1009.2 970.1 1010.2 969 C1011.3 967.9 1015.9 966 1017.8 965.8 C1019.7 965.7 1024.6 967.2 1026.7 967.7 C1028.7 968.2 1033.8 969.9 1035.5 970.2 C1037.2 970.5 1040.5 971.1 1041.2 970.2 C1041.9 969.3 1042.1 964.4 1041.8 962.6 C1041.6 960.9 1040.2 956.7 1039.3 955.1 C1038.4 953.4 1039.6 950.2 1034.3 948.7 C1028.9 947.3 1001.5 940.8 993.8 942.4 C986.1 944 974.7 956.2 968.5 962.6 C962.3 969.1 943.2 993 940.7 998Z" fill="#FEC893"/>
<path d="M1041.2 970.2 C1041.1 970.8 1040.9 973.8 1040.6 975.3 C1040.2 976.8 1039.1 981.3 1038 982.9 C1037 984.5 1033.1 987.7 1031.7 989.2 C1030.4 990.7 1027.5 993.6 1026.7 995.5 C1025.9 997.4 1025.1 1003 1024.8 1005.6 C1024.5 1008.3 1024.1 1015.3 1024.1 1018.3 C1024.1 1021.2 1024.5 1028.4 1024.8 1030.9 C1025.1 1033.4 1025.9 1038.2 1026.7 1039.8 C1027.5 1041.3 1029.7 1044 1031.7 1044.2 C1033.8 1044.3 1041.4 1042.4 1044.4 1041 C1047.3 1039.6 1055.8 1033.2 1057 1032.2 C1058.2 1031.2 1055.7 1032.9 1054.5 1032.2 C1053.3 1031.4 1048.5 1027.2 1046.9 1025.9 C1045.3 1024.5 1041.5 1022.3 1040.6 1020.8 C1039.6 1019.3 1038.4 1015 1038.7 1013.2 C1039 1011.4 1041.9 1007.4 1043.1 1005.6 C1044.4 1003.9 1048.2 1000.1 1049.4 998 C1050.6 996 1052.6 990.1 1053.2 987.9 C1053.8 985.7 1052.6 980.1 1054.5 979.1 C1056.4 978 1064.9 979.1 1069.7 979.1 C1074.4 979.1 1091.1 979.1 1094.9 979.1 C1098.8 979.1 1101.6 981 1102.5 979.1 C1103.4 977.2 1105.6 964 1102.5 962.6 C1099.4 961.3 1081.3 966.8 1076 967.7 C1070.7 968.6 1061 969.9 1057 970.2 C1053 970.5 1043.7 970.2 1041.8 970.2 C1040 970.2 1041.4 969.6 1041.2 970.2Z" fill="#FEC893"/>
<path d="M1094.9 979.1 C1091.1 979.1 1074.4 979.1 1069.7 979.1 C1064.9 979.1 1056.4 978 1054.5 979.1 C1052.6 980.1 1053.8 985.7 1053.2 987.9 C1052.6 990.1 1050.6 996 1049.4 998 C1048.2 1000.1 1044.4 1003.9 1043.1 1005.6 C1041.9 1007.4 1039 1011.4 1038.7 1013.2 C1038.4 1015 1039.6 1019.3 1040.6 1020.8 C1041.5 1022.3 1045.3 1024.5 1046.9 1025.9 C1048.5 1027.2 1051.8 1032.2 1054.5 1032.2 C1057.1 1032.2 1064.1 1031 1069.7 1025.9 C1075.3 1020.7 1098.7 993.4 1102.5 987.9 C1106.4 982.5 1103.4 980.1 1102.5 979.1 C1101.6 978 1098.8 979.1 1094.9 979.1Z" fill="#FDBA78"/>
<path d="M1050.7 957.6 C1051.4 959.8 1055.1 961.8 1057 962.6 C1058.9 963.5 1064.8 965.2 1067.1 965.2 C1069.5 965.2 1074.9 963.7 1077.2 962.6 C1079.6 961.6 1085.3 957.8 1087.4 956.3 C1089.4 954.8 1094.1 951.5 1094.9 950 C1095.8 948.5 1100.1 944.4 1094.9 943.7 C1089.8 942.9 1055.9 942.1 1050.7 943.7 C1045.5 945.3 1050 955.4 1050.7 957.6Z" fill="#FFF6DA"/>
<path d="M957.1 1063.8 C958.1 1061.9 960.3 1060.5 962.2 1060 C964.1 1059.5 967 1059.6 968.5 1060.6 C970 1061.7 970.8 1063.9 971 1066.3 C971.2 1068.7 970.6 1072.2 969.8 1075.2 C968.9 1078.1 967.2 1081.3 966 1084 C964.7 1086.8 963.9 1089.7 962.2 1091.6 C960.5 1093.5 957.7 1095 955.9 1095.4 C954.1 1095.8 952.1 1095.4 951.4 1094.1 C950.8 1092.9 951.5 1090.1 952.1 1087.8 C952.6 1085.5 953.9 1083 954.6 1080.2 C955.3 1077.5 956.1 1074.1 956.5 1071.4 C956.9 1068.6 956.2 1065.7 957.1 1063.8Z" fill="#FFF6DA" stroke="#1e1610" stroke-width="1.2100000000000002"/>
<path d="M940.7 1113.1 C940.9 1110.8 941.5 1107.4 943.2 1105.5 C944.9 1103.6 947.6 1102.5 950.8 1101.7 C954 1101 958.4 1100.9 962.2 1101.1 C966 1101.3 970.6 1101.8 973.6 1103 C976.5 1104.1 979.5 1106.2 979.9 1108 C980.3 1109.9 978 1112.7 976.1 1114.4 C974.2 1116.1 971.5 1117.1 968.5 1118.2 C965.6 1119.2 961.8 1119.8 958.4 1120.7 C955 1121.5 951 1123.4 948.3 1123.2 C945.5 1123 943.2 1121.1 942 1119.4 C940.7 1117.7 940.5 1115.4 940.7 1113.1Z" fill="#FDBA78" stroke="#1e1610" stroke-width="1.2100000000000002"/>
<path d="M971 1086.6 C971.7 1083.7 974.2 1082.5 976.1 1082.1 C978 1081.7 980.5 1082.7 982.4 1084 C984.3 1085.4 987.1 1088 987.5 1090.3 C987.9 1092.7 986.4 1096 984.9 1097.9 C983.5 1099.8 980.7 1101.5 978.6 1101.7 C976.5 1101.9 973.6 1101.7 972.3 1099.2 C971 1096.7 970.4 1089.4 971 1086.6Z" fill="#FEC893" stroke="#1e1610" stroke-width="1.2100000000000002"/>
<path d="M982.4 1054.9 C984 1054.1 991.9 1054.2 993.8 1054.9 C995.7 1055.7 998.9 1060.1 998.9 1061.3 C998.9 1062.4 995.3 1064.3 993.8 1065.1 C992.3 1065.8 987.7 1066.7 986.2 1067.6 C984.7 1068.5 982 1072.4 981.2 1072.6 C980.3 1072.9 978.8 1071.3 978.6 1070.1 C978.5 1068.9 979.4 1064.3 979.9 1062.5 C980.3 1060.8 980.8 1055.8 982.4 1054.9Z" fill="#FEC893"/>
<path d="M866.2 1096.4 C866.7 1099.4 869.7 1102.8 870 1105.3 C870.3 1107.8 869 1115 868.7 1117.9 C868.4 1120.9 867.5 1127.6 867.5 1130.6 C867.4 1133.5 868.4 1140.6 868.1 1143.2 C867.8 1145.9 866.1 1151.4 864.9 1153.3 C863.8 1155.3 860.5 1158.4 858.6 1159.7 C856.7 1160.9 851.2 1163.2 848.5 1164.1 C845.9 1165 838.8 1166.6 835.9 1167.2 C832.9 1167.9 826.2 1168.9 823.2 1169.8 C820.3 1170.7 813.5 1173.6 810.6 1174.8 C807.6 1176 800.6 1178.6 797.9 1179.9 C795.3 1181.2 789.4 1184.6 787.8 1186.2 C786.3 1187.8 785.1 1192 784.7 1193.8 C784.2 1195.6 784.4 1199.6 784 1201.4 C783.7 1203.2 782.4 1207.3 781.5 1209 C780.6 1210.6 777.9 1214.1 776.4 1215.3 C775 1216.5 770.8 1218.5 768.9 1219.1 C766.9 1219.7 761.8 1220.2 760 1220.3 C758.2 1220.5 754.4 1224.9 753.7 1220.3 C752.9 1215.8 744.1 1193.1 753.7 1181.2 C763.3 1169.2 822.7 1129.7 835.9 1117.9 C849 1106.1 862.7 1082.5 866.2 1080 C869.7 1077.5 865.8 1093.5 866.2 1096.4Z" fill="#FEC893"/>
<path d="M848.5 1117.9 C849.4 1118.7 848.2 1128.5 848.5 1130.6 C848.8 1132.6 850.4 1134.6 851 1135.6 C851.6 1136.7 853.6 1138.2 853.6 1139.4 C853.6 1140.6 851.9 1144.4 851 1145.7 C850.2 1147.1 847.5 1149.9 846 1150.8 C844.5 1151.7 840.5 1152.7 838.4 1153.3 C836.3 1153.9 830.5 1155.4 828.3 1155.9 C826.1 1156.3 821.5 1157.1 819.4 1157.1 C817.4 1157.1 809.2 1158.2 810.6 1155.9 C811.9 1153.5 827.3 1140.6 830.8 1136.9 C834.3 1133.2 838.9 1126.5 840.9 1124.3 C843 1122 847.6 1117.2 848.5 1117.9Z" fill="#FDBA78"/>
<path d="M906.7 1150.8 C906 1148.4 907.1 1146 907.9 1144.5 C908.8 1143 909.8 1142.2 911.7 1142 C913.6 1141.7 916.6 1142.6 919.3 1143.2 C922.1 1143.9 926.5 1144.3 928.2 1145.7 C929.8 1147.2 931.1 1150.2 929.4 1152.1 C927.7 1154 921 1156 918 1157.1 C915.1 1158.3 913.6 1160.1 911.7 1159 C909.8 1158 907.3 1153.2 906.7 1150.8Z" fill="#FEC893"/>
<path d="M827.6 1186.2 C827.9 1184.4 829 1181.9 830.8 1180.5 C832.6 1179.1 835.4 1178.4 838.4 1178 C841.3 1177.6 845.1 1177.7 848.5 1178 C851.9 1178.3 855.9 1178.9 858.6 1179.9 C861.4 1180.8 863 1182 864.9 1183.7 C866.8 1185.4 870.2 1188.6 870 1190 C869.8 1191.4 866.2 1191.4 863.7 1191.9 C861.2 1192.4 857.8 1192.6 854.8 1193.2 C851.9 1193.7 849.1 1194.8 846 1195.1 C842.8 1195.3 838.6 1195.1 835.9 1194.4 C833.1 1193.8 830.9 1192.6 829.5 1191.3 C828.2 1189.9 827.4 1188 827.6 1186.2Z" fill="#FFF6DA" stroke="#1e1610" stroke-width="1.2100000000000002"/>
<path d="M842.2 1207.7 C842.4 1205.9 846 1203 848.5 1202 C851 1201.1 854.2 1201.3 857.4 1202 C860.5 1202.8 864.1 1204.6 867.5 1206.4 C870.8 1208.2 874.6 1210.7 877.6 1212.8 C880.5 1214.9 883.7 1217 885.2 1219.1 C886.6 1221.2 887.1 1223.3 886.4 1225.4 C885.8 1227.5 883.9 1230.4 881.4 1231.7 C878.9 1233.1 874.8 1233.6 871.3 1233.6 C867.7 1233.6 863.3 1232.9 859.9 1231.7 C856.5 1230.6 853.1 1228.8 851 1226.7 C848.9 1224.6 847.9 1221.4 847.2 1219.1 C846.6 1216.8 848.1 1214.7 847.2 1212.8 C846.4 1210.9 842 1209.5 842.2 1207.7Z" fill="#FEC893" stroke="#1e1610" stroke-width="1.2100000000000002"/>
<path d="M760 1222.9 C761.5 1222.6 767.8 1220.9 770.1 1220.3 C772.5 1219.8 778.3 1218.4 780.2 1218.4 C782.1 1218.4 785.7 1219.5 786.6 1220.3 C787.4 1221.2 788.3 1224.1 787.8 1225.4 C787.4 1226.7 784.2 1230.5 782.8 1231.7 C781.3 1232.9 777.2 1234.8 775.2 1235.5 C773.1 1236.3 767.1 1237.6 765.1 1238 C763 1238.5 758.4 1241.1 757.5 1239.3 C756.6 1237.5 757.2 1224.8 757.5 1222.9 C757.8 1221 758.5 1223.2 760 1222.9Z" fill="#FFF6DA"/>
<path d="M785.3 1240.6 C785.7 1238.3 787.6 1234.7 789.1 1231.7 C790.6 1228.8 792.2 1225 794.1 1222.9 C796 1220.8 798.4 1219.3 800.5 1219.1 C802.6 1218.9 805.4 1220.1 806.8 1221.6 C808.2 1223.1 808.9 1225.4 808.7 1227.9 C808.5 1230.5 807.1 1234.3 805.5 1236.8 C803.9 1239.3 801.5 1241.4 799.2 1243.1 C796.9 1244.8 793.7 1246.5 791.6 1246.9 C789.5 1247.3 787.6 1246.7 786.6 1245.6 C785.5 1244.6 784.9 1242.9 785.3 1240.6Z" fill="#FEC893" stroke="#1e1610" stroke-width="1.2100000000000002"/>
<path d="M796.7 1282.3 C792.8 1280.5 796.5 1270.1 796.7 1267.1 C796.8 1264.2 797.3 1259.4 797.9 1257 C798.5 1254.7 800.5 1249.1 801.7 1246.9 C802.9 1244.7 806.4 1239.4 808 1238 C809.7 1236.7 813.9 1235.9 815.6 1235.5 C817.4 1235.2 821.4 1235.4 823.2 1234.9 C825 1234.4 829 1231.6 830.8 1231.1 C832.6 1230.6 836.6 1230.1 838.4 1230.5 C840.2 1230.8 844.5 1233.2 846 1234.3 C847.5 1235.3 850.4 1238.1 851 1239.3 C851.6 1240.5 852.1 1243 851 1244.4 C850 1245.7 844 1249.4 842.2 1250.7 C840.4 1252 837.2 1254.4 835.9 1255.7 C834.5 1257.1 832.3 1260.7 830.8 1262.1 C829.3 1263.4 823.5 1265.7 823.2 1267.1 C822.9 1268.6 827.5 1272.9 828.3 1274.7 C829 1276.5 833.2 1281.4 829.5 1282.3 C825.9 1283.2 800.5 1284.1 796.7 1282.3Z" fill="#FFF6DA"/>
<path d="M809.3 1257 C809.1 1254.3 810.4 1250.5 811.8 1248.2 C813.3 1245.8 816.1 1243.7 818.2 1243.1 C820.3 1242.5 823 1243.1 824.5 1244.4 C826 1245.6 826.3 1248.4 827 1250.7 C827.7 1253 829.1 1256.2 828.9 1258.3 C828.7 1260.4 827.3 1261.9 825.7 1263.3 C824.2 1264.8 821.5 1266.9 819.4 1267.1 C817.3 1267.3 814.8 1266.3 813.1 1264.6 C811.4 1262.9 809.5 1259.8 809.3 1257Z" fill="#FEE2BA" stroke="#1e1610" stroke-width="1.2100000000000002"/>
<path d="M757.5 1262.1 C758.7 1259.9 765.4 1263.6 767.6 1263.3 C769.8 1263 774.5 1259.7 776.4 1259.5 C778.4 1259.4 783 1261 784 1262.1 C785.1 1263.1 785.9 1267.2 785.3 1268.4 C784.7 1269.6 780.4 1271.2 779 1272.2 C777.5 1273.2 773.4 1276.1 772.6 1277.2 C771.9 1278.4 774.4 1281.7 772.6 1282.3 C770.9 1282.9 759.2 1284.7 757.5 1282.3 C755.7 1279.9 756.3 1264.3 757.5 1262.1Z" fill="#FFF6DA"/>
<path d="M728.5 1227.2 C729.7 1226.1 736.4 1222 738.6 1220.2 C740.8 1218.5 746.1 1212.2 747.5 1212 C748.9 1211.8 749.7 1217 750.6 1218.3 C751.6 1219.7 754.2 1222.5 755.7 1223.4 C757.2 1224.3 761.4 1226.2 763.3 1226.3 C765.1 1226.4 769.7 1224.9 771.5 1224.3 C773.3 1223.6 777.5 1221.4 779.1 1220.9 C780.7 1220.4 784.3 1219.6 785.4 1220 C786.5 1220.3 788.5 1222.7 788.6 1224 C788.6 1225.3 787 1229.4 786 1231 C785.1 1232.6 781.9 1236.5 780.3 1237.9 C778.8 1239.4 774.4 1242.4 772.8 1243.6 C771.1 1244.8 767.9 1248 766.4 1248 C765 1248.1 761.5 1245.4 760.1 1244.3 C758.7 1243.1 755.8 1239.2 754.4 1237.9 C753.1 1236.6 750.4 1234 748.7 1233.1 C747 1232.2 742.2 1230.7 739.9 1230.3 C737.5 1229.9 729.8 1230.1 728.5 1229.7 C727.2 1229.3 727.3 1228.3 728.5 1227.2Z" fill="#FFF6DA"/>
<path d="M746.2 1250.6 C746.4 1248.9 747.3 1246.8 748.7 1245.5 C750.2 1244.3 753 1243.2 755.1 1243 C757.2 1242.8 759.5 1243.4 761.4 1244.3 C763.3 1245.1 766.4 1246.9 766.4 1248 C766.4 1249.2 763.5 1250.2 761.4 1251.2 C759.3 1252.3 756.1 1253.6 753.8 1254.4 C751.5 1255.1 748.7 1256.3 747.5 1255.6 C746.2 1255 746 1252.3 746.2 1250.6Z" fill="#FFF6DA" stroke="#1e1610" stroke-width="1.2100000000000002"/>
<path d="M755.7 1206.3 C756.2 1204 754.3 1198.9 758.9 1197.5 C763.4 1196 779.1 1195.8 782.9 1197.5 C786.7 1199.2 782.5 1204.8 781.6 1207.6 C780.8 1210.3 779.5 1212 777.8 1213.9 C776.1 1215.8 773.8 1217.9 771.5 1219 C769.2 1220 766.1 1220.7 763.9 1220.2 C761.7 1219.8 759.6 1217.9 758.2 1216.4 C756.9 1215 756.1 1213.1 755.7 1211.4 C755.3 1209.7 755.2 1208.6 755.7 1206.3Z" fill="#FEC893" stroke="#1e1610" stroke-width="1.2100000000000002"/>
<path d="M795.5 1253.1 C796.4 1250.8 797.4 1249.1 799.3 1246.8 C801.2 1244.5 803.9 1241.1 806.9 1239.2 C809.8 1237.3 813.6 1236.7 817 1235.4 C820.4 1234.1 823.8 1232.5 827.1 1231.6 C830.5 1230.8 834.3 1230.1 837.2 1230.3 C840.2 1230.6 842.7 1231.6 844.8 1232.9 C846.9 1234.1 849.5 1235.6 849.9 1237.9 C850.3 1240.2 849 1244 847.4 1246.8 C845.7 1249.5 842.7 1252.1 839.8 1254.4 C836.8 1256.7 832.6 1258.4 829.7 1260.7 C826.7 1263 822.5 1266 822.1 1268.3 C821.6 1270.6 826.1 1272.5 827.1 1274.6 C828.2 1276.7 828.8 1278.4 828.4 1280.9 C828 1283.4 825.9 1286.8 824.6 1289.8 C823.3 1292.7 821.6 1296.1 820.8 1298.6 C820 1301.2 820.8 1303.7 819.5 1304.9 C818.3 1306.2 815.7 1306.8 813.2 1306.2 C810.7 1305.6 806.9 1303 804.4 1301.2 C801.8 1299.3 799.7 1297.1 798 1294.8 C796.4 1292.5 795 1290 794.3 1287.2 C793.5 1284.5 793.4 1281.3 793.6 1278.4 C793.8 1275.4 795.4 1272.5 795.5 1269.5 C795.6 1266.6 794.3 1263.4 794.3 1260.7 C794.3 1258 794.7 1255.4 795.5 1253.1Z" fill="#FFF6DA" stroke="#1e1610" stroke-width="1.2100000000000002"/>
<path d="M809.4 1255.6 C809.5 1253.5 810.5 1250.2 812 1248 C813.4 1245.9 816.2 1243.4 818.3 1243 C820.4 1242.6 823.1 1243.8 824.6 1245.5 C826.1 1247.2 827.1 1250.6 827.1 1253.1 C827.1 1255.6 826.3 1259 824.6 1260.7 C822.9 1262.4 819.2 1263.2 817 1263.2 C814.8 1263.2 812.6 1262 811.3 1260.7 C810.1 1259.4 809.3 1257.7 809.4 1255.6Z" fill="#FEE2BA" stroke="#1e1610" stroke-width="1.2100000000000002"/>
<path d="M744.9 1270.8 C746 1269.2 747.9 1268.7 750 1268.9 C752.1 1269.1 754.8 1271.8 757.6 1272.1 C760.3 1272.4 763.9 1271.6 766.4 1270.8 C769 1270 771.3 1268.5 772.8 1267 C774.2 1265.5 774 1263.1 775.3 1262 C776.6 1260.8 778.7 1259.8 780.3 1260.1 C782 1260.3 784.6 1261.6 785.4 1263.2 C786.2 1264.8 786.2 1267.9 785.4 1269.5 C784.6 1271.2 782 1272.3 780.3 1273.3 C778.7 1274.4 776 1274.4 775.3 1275.9 C774.6 1277.3 774.9 1280.7 775.9 1282.2 C777 1283.7 780.2 1283.7 781.6 1284.7 C783 1285.8 783.8 1285.8 784.1 1288.5 C784.5 1291.2 783.9 1298 783.5 1301.2 C783.1 1304.3 782.8 1305.6 781.6 1307.5 C780.5 1309.4 779.1 1311.5 776.6 1312.5 C774 1313.6 769.6 1314 766.4 1313.8 C763.3 1313.6 759.9 1312.7 757.6 1311.3 C755.3 1309.8 753.8 1307.5 752.5 1304.9 C751.3 1302.4 751.1 1299 750 1296.1 C748.9 1293.1 747.3 1290.2 746.2 1287.2 C745.2 1284.3 743.9 1281.1 743.7 1278.4 C743.5 1275.7 743.9 1272.4 744.9 1270.8Z" fill="#FFF6DA" stroke="#1e1610" stroke-width="1.2100000000000002"/>
<path d="M704.5 1251.8 C704.2 1253.5 711.7 1254.3 713.3 1255.6 C715 1257 717.4 1261.3 718.4 1263.2 C719.4 1265.1 721.6 1270 722.2 1272.1 C722.8 1274.1 723.9 1279 723.4 1280.9 C723 1282.8 719.9 1286.7 718.4 1288.5 C716.9 1290.3 712.9 1294.5 710.8 1296.1 C708.7 1297.7 702.8 1300.9 700.7 1302.4 C698.6 1303.9 694.2 1307.1 693.1 1308.7 C692 1310.4 691.1 1314.4 691.2 1316.3 C691.4 1318.2 693.6 1323.3 694.4 1325.2 C695.2 1327.1 697.6 1330.8 698.2 1332.8 C698.8 1334.7 699.6 1339.4 699.4 1341.6 C699.3 1343.8 697.8 1349.5 696.9 1351.7 C696 1353.9 693.3 1358.8 691.8 1360.6 C690.4 1362.3 686.3 1365.6 684.3 1366.9 C682.2 1368.2 676.6 1370.5 674.1 1372 C671.6 1373.4 665.3 1377.5 662.8 1379.5 C660.3 1381.6 654.6 1387.3 652.6 1389.7 C650.7 1392 638.8 1398.8 646.3 1400 C653.8 1401.2 709 1401.5 717.1 1400 C725.2 1398.5 716.3 1389.5 715.9 1387.1 C715.4 1384.7 713.8 1381.5 713.3 1379.5 C712.9 1377.6 711.9 1372.5 712.1 1370.7 C712.2 1368.9 714 1366 714.6 1364.4 C715.2 1362.7 716.1 1358.1 717.1 1356.8 C718.2 1355.5 721.8 1353.4 723.4 1353 C725.1 1352.5 729.6 1353.1 731 1353 C732.5 1352.8 735.8 1352 736.1 1351.7 C736.4 1351.4 734.4 1351.1 733.6 1350.5 C732.7 1349.9 729.2 1347.8 728.5 1346.7 C727.8 1345.5 727.1 1341.8 727.2 1340.3 C727.4 1338.9 729 1335.5 729.8 1334 C730.5 1332.5 732.4 1328.9 733.6 1327.7 C734.7 1326.5 738.4 1324.6 739.9 1323.9 C741.4 1323.2 745.2 1322.6 746.2 1321.4 C747.2 1320.2 748.7 1315.9 748.7 1313.8 C748.7 1311.7 746.9 1305.7 746.2 1303.7 C745.5 1301.6 743.6 1297.9 742.4 1296.1 C741.2 1294.3 737.4 1290.3 736.1 1288.5 C734.8 1286.7 731.6 1282.7 731 1280.9 C730.4 1279.2 730.6 1275.3 731 1273.3 C731.5 1271.4 734.1 1266.7 734.8 1264.5 C735.6 1262.3 737.2 1256.6 737.4 1254.4 C737.5 1252.2 736.8 1247.3 736.1 1245.5 C735.4 1243.7 732.7 1240.1 731 1239.2 C729.4 1238.3 724 1237.6 722.2 1237.9 C720.4 1238.2 717.9 1240.1 715.9 1241.7 C713.8 1243.3 704.8 1250.2 704.5 1251.8Z" fill="#FEC893"/>
<path d="M705.1 1313.8 C705.5 1312 706.5 1309.4 708.3 1307.5 C710.1 1305.6 712.9 1303.9 715.9 1302.4 C718.8 1300.9 722.8 1299.4 726 1298.6 C729.1 1297.9 732.4 1297.4 734.8 1298 C737.3 1298.6 739.5 1300.4 740.5 1302.4 C741.6 1304.4 741.7 1307.7 741.2 1310 C740.6 1312.3 739.5 1314.6 737.4 1316.3 C735.3 1318 731.7 1319.1 728.5 1320.1 C725.3 1321.2 721.6 1322.4 718.4 1322.6 C715.2 1322.9 711.6 1322.1 709.5 1321.4 C707.4 1320.6 706.5 1319.5 705.7 1318.2 C705 1317 704.7 1315.6 705.1 1313.8Z" fill="#FDBA78" stroke="#1e1610" stroke-width="1.2100000000000002"/>
<path d="M720.9 1250.6 C720.8 1248.9 722.2 1246.5 723.4 1245.5 C724.7 1244.6 727.2 1244.3 728.5 1244.9 C729.8 1245.5 730.9 1247.7 731 1249.3 C731.1 1250.9 730.3 1253.3 729.1 1254.4 C728 1255.4 725.5 1256.3 724.1 1255.6 C722.7 1255 721 1252.3 720.9 1250.6Z" fill="#FDBA78" stroke="#1e1610" stroke-width="1.2100000000000002"/>
<path d="M671.6 1280.9 C673.4 1278.4 676 1276.3 677.9 1274.6 C679.8 1272.9 681.9 1270.6 683 1270.8 C684 1271 684.7 1273.3 684.3 1275.9 C683.8 1278.4 681.7 1282.6 680.5 1286 C679.2 1289.3 677.9 1293.6 676.7 1296.1 C675.4 1298.6 674.2 1300.9 672.9 1301.2 C671.5 1301.4 669.4 1299.3 668.4 1297.4 C667.5 1295.5 666.7 1292.5 667.2 1289.8 C667.7 1287 669.8 1283.4 671.6 1280.9Z" fill="#FEC893"/>
<path d="M652.6 1308.7 C652.9 1306.6 655 1302.6 656.4 1301.2 C657.9 1299.7 660.2 1299.3 661.5 1299.9 C662.8 1300.5 664.2 1302.8 664 1304.9 C663.8 1307.1 661.7 1311.1 660.2 1312.5 C658.8 1314 656.4 1314.4 655.2 1313.8 C653.9 1313.2 652.4 1310.8 652.6 1308.7Z" fill="#FFF6DA"/>
<path d="M739.3 1334 C739.7 1332.2 741 1329.2 742.4 1328.3 C743.8 1327.5 746 1328 747.5 1329 C748.9 1329.9 750.2 1332.1 751.3 1334 C752.3 1335.9 753.6 1338.2 753.8 1340.3 C754 1342.5 753.6 1345.4 752.5 1346.7 C751.5 1347.9 749.2 1348.4 747.5 1347.9 C745.8 1347.5 743.7 1345.6 742.4 1344.1 C741.2 1342.7 740.4 1340.8 739.9 1339.1 C739.4 1337.4 738.8 1335.8 739.3 1334Z" fill="#FFF6DA" stroke="#1e1610" stroke-width="1.2100000000000002"/>
<path d="M715.9 1364.4 C716.3 1362.3 718.8 1359.2 720.9 1358 C723 1356.9 726.5 1356.6 728.5 1357.4 C730.5 1358.3 732.5 1361.1 732.9 1363.1 C733.4 1365.1 732.4 1367.7 731 1369.4 C729.7 1371.1 726.8 1373 724.7 1373.2 C722.6 1373.4 719.9 1372.2 718.4 1370.7 C716.9 1369.2 715.4 1366.5 715.9 1364.4Z" fill="#FFF6DA" stroke="#1e1610" stroke-width="1.2100000000000002"/>
<path d="M774 1317.6 C778.2 1313.3 786.4 1308.9 789.2 1307.5 C792 1306 796 1304.6 798 1304.9 C800.1 1305.2 804.7 1309 806.9 1310 C809.1 1311 814.4 1313.4 817 1313.8 C819.7 1314.2 834.1 1307.9 829.7 1313.8 C825.2 1319.7 787.9 1355.5 779.1 1364.4 C770.2 1373.2 758.1 1388.5 753.8 1389.7 C749.5 1390.8 742.4 1379.8 742.4 1374.5 C742.4 1369.2 750.1 1350.8 753.8 1344.1 C757.5 1337.5 769.9 1321.9 774 1317.6Z" fill="#FEC893"/>
<path d="M763.9 1336.6 C763.9 1334.9 766.2 1333.3 767.7 1332.8 C769.2 1332.2 771.5 1332.4 772.8 1333.4 C774 1334.3 775.3 1336.9 775.3 1338.4 C775.3 1340 774 1342.1 772.8 1342.9 C771.5 1343.6 769.2 1343.9 767.7 1342.9 C766.2 1341.8 763.9 1338.2 763.9 1336.6Z" fill="#FDBA78" stroke="#1e1610" stroke-width="1.2100000000000002"/>
<path d="M748.7 1365.6 C748.8 1363.9 750.8 1361.5 752.5 1360.6 C754.2 1359.6 757.4 1359.3 758.9 1359.9 C760.3 1360.6 761.6 1362.8 761.4 1364.4 C761.2 1366 759.2 1368.4 757.6 1369.4 C756 1370.5 753.4 1371.3 751.9 1370.7 C750.4 1370.1 748.6 1367.3 748.7 1365.6Z" fill="#FDBA78" stroke="#1e1610" stroke-width="1.2100000000000002"/>
<path d="M702.1 1300 C696.5 1300.6 695.7 1303.6 694.5 1305.1 C693.3 1306.5 692 1310.6 692 1312.6 C692 1314.7 693.7 1320.4 694.5 1322.8 C695.2 1325.1 698 1330.5 698.3 1332.9 C698.6 1335.2 697.8 1340.6 697 1343 C696.3 1345.3 693.4 1350.9 692 1353.1 C690.5 1355.3 686.4 1360 684.4 1362 C682.3 1363.9 676.8 1367.9 674.3 1369.5 C671.7 1371.2 665.4 1374.1 662.9 1375.9 C660.4 1377.6 654.7 1382.4 652.8 1384.7 C650.8 1387.1 647.4 1393.6 646.4 1396.1 C645.5 1398.6 644.5 1403.8 644.5 1406.2 C644.5 1408.6 645.5 1414.3 646.4 1416.3 C647.4 1418.4 651 1422.6 652.8 1423.9 C654.5 1425.2 659.4 1427.4 661.6 1427.7 C663.8 1428 669.4 1427.3 671.7 1426.4 C674.1 1425.6 679.8 1421.9 681.8 1420.1 C683.9 1418.3 687.7 1413.5 689.4 1411.3 C691.2 1409.1 695.2 1403.4 697 1401.2 C698.8 1398.9 703 1394.1 704.6 1392.3 C706.2 1390.5 709.7 1387.3 710.9 1386 C712.1 1384.7 714.4 1382.4 714.7 1380.9 C715 1379.4 713.2 1375.4 713.5 1373.3 C713.7 1371.3 716.2 1365.3 717.2 1363.2 C718.3 1361.2 720.8 1356.8 722.3 1355.6 C723.8 1354.5 728.4 1353.7 729.9 1353.1 C731.4 1352.5 734.6 1351.8 734.9 1350.6 C735.2 1349.4 733.2 1344.8 732.4 1343 C731.7 1341.2 728.9 1337.5 728.6 1335.4 C728.3 1333.3 729.1 1327.2 729.9 1325.3 C730.6 1323.4 733.5 1320.1 734.9 1319 C736.4 1317.8 741.6 1317.4 742.5 1315.2 C743.4 1313 747.3 1301.8 742.5 1300 C737.8 1298.2 707.7 1299.4 702.1 1300Z" fill="#FEC893"/>
<path d="M705.1 1313.8 C705.5 1312 706.5 1309.4 708.3 1307.5 C710.1 1305.6 712.9 1303.9 715.9 1302.4 C718.8 1300.9 722.8 1299.3 726 1298.6 C729.1 1297.9 732.4 1297.3 734.8 1298 C737.2 1298.6 739.5 1300.4 740.5 1302.4 C741.6 1304.4 741.7 1307.7 741.1 1310 C740.6 1312.3 739.5 1314.6 737.3 1316.3 C735.2 1318 731.7 1319.1 728.5 1320.1 C725.3 1321.2 721.5 1322.4 718.4 1322.6 C715.2 1322.8 711.6 1322.1 709.5 1321.4 C707.4 1320.6 706.5 1319.5 705.7 1318.2 C705 1316.9 704.7 1315.6 705.1 1313.8Z" fill="#FDBA78" stroke="#1e1610" stroke-width="1.2100000000000002"/>
<path d="M678 1396.1 C678.5 1393.8 681 1389.1 683.1 1386 C685.2 1382.8 688 1379.4 690.7 1377.1 C693.4 1374.8 697 1372.7 699.5 1372.1 C702.1 1371.4 704.4 1371.9 705.9 1373.3 C707.3 1374.8 708.6 1378.4 708.4 1380.9 C708.2 1383.4 706.5 1386.2 704.6 1388.5 C702.7 1390.8 699.8 1393 697 1394.8 C694.3 1396.6 690.9 1398.4 688.2 1399.3 C685.4 1400.1 682.3 1400.4 680.6 1399.9 C678.9 1399.4 677.6 1398.4 678 1396.1Z" fill="#FDBA78" stroke="#1e1610" stroke-width="1.2100000000000002"/>
<path d="M690.7 1382.2 C691.4 1380.5 693.9 1378.2 695.7 1377.1 C697.6 1376.1 700.5 1375.2 702.1 1375.9 C703.7 1376.5 705.2 1379 705.2 1380.9 C705.2 1382.8 703.7 1385.8 702.1 1387.2 C700.5 1388.7 697.5 1389.8 695.7 1389.8 C694 1389.8 692.2 1388.5 691.3 1387.2 C690.5 1386 690 1383.9 690.7 1382.2Z" fill="#FDAE62" stroke="#1e1610" stroke-width="1.2100000000000002"/>
<path d="M717.2 1368.3 C717.5 1366 718.3 1361.5 719.8 1359.4 C721.2 1357.3 724 1355.8 726.1 1355.6 C728.2 1355.4 730.9 1356.7 732.4 1358.2 C733.9 1359.6 735.2 1362.2 734.9 1364.5 C734.7 1366.8 733 1370.3 731.2 1372.1 C729.3 1373.9 725.7 1375 723.6 1375.2 C721.5 1375.4 719.6 1374.5 718.5 1373.3 C717.5 1372.2 717 1370.6 717.2 1368.3Z" fill="#FFF6DA" stroke="#1e1610" stroke-width="1.2100000000000002"/>
<path d="M717.2 1383.4 C719.8 1377.8 739.6 1372.3 742.5 1375.9 C745.5 1379.4 744.2 1408.3 742.5 1413.8 C740.9 1419.3 731.1 1422.1 728.6 1423.3 C726.1 1424.5 722.4 1428.6 721 1423.9 C719.7 1419.3 714.7 1389.1 717.2 1383.4Z" fill="#FEC893"/>
<path d="M659.1 1298.7 C661.1 1299.2 663.8 1302.5 664.1 1303.8 C664.4 1305.1 662.8 1308.8 661.6 1310.1 C660.4 1311.4 655.4 1313.7 654 1315.2 C652.7 1316.6 651.1 1321 650.2 1322.8 C649.3 1324.5 647.9 1328.7 646.4 1330.3 C645 1332 639.8 1335.6 637.6 1336.7 C635.4 1337.7 629.8 1338.5 627.5 1339.2 C625.1 1339.9 619.6 1342.5 617.4 1342.4 C615.1 1342.2 605.1 1342.9 608.5 1337.9 C611.9 1333 640.5 1304.6 646.4 1300 C652.3 1295.4 657 1298.3 659.1 1298.7Z" fill="#FFF6DA"/>
<path d="M608.5 1350.6 C609.2 1351 606.9 1358.3 607.2 1360.7 C607.5 1363.1 610.5 1368.7 611 1370.8 C611.6 1372.9 612.3 1376.6 611.7 1378.4 C611.1 1380.2 609.3 1384.8 606 1386 C602.7 1387.2 587.3 1387.5 583.2 1388.5 C579.1 1389.5 570.6 1396.3 570.6 1394.8 C570.6 1393.4 579.7 1380.3 583.2 1375.9 C586.8 1371.4 598 1359.8 600.9 1356.9 C603.9 1353.9 607.8 1350.1 608.5 1350.6Z" fill="#FFF6DA"/>
<path d="M520 1429 C521.4 1427.3 529.9 1425.9 532 1424.5 C534.1 1423.2 536.3 1419.1 537.7 1417.6 C539.1 1416 542.5 1412.1 544 1411.3 C545.5 1410.5 549.2 1410 550.3 1410.6 C551.5 1411.2 553.3 1414.5 554.1 1416.3 C555 1418.2 556.9 1424.2 557.9 1426.4 C559 1428.7 561.7 1433.7 563 1435.3 C564.3 1436.9 567.7 1439.9 569.3 1440.3 C570.9 1440.8 575.3 1439.8 576.9 1439.1 C578.5 1438.3 581.7 1434.9 583.2 1434 C584.7 1433.1 588.3 1431.3 589.5 1431.5 C590.8 1431.6 593.4 1434 594 1435.3 C594.6 1436.6 595 1441.3 594.6 1442.9 C594.2 1444.5 591.8 1448.2 590.8 1449.2 C589.8 1450.2 588.1 1450.7 585.7 1451.7 C583.4 1452.8 578.2 1459.5 570.6 1458 C562.9 1456.6 525.9 1442.5 520 1439.1 C514.1 1435.7 518.6 1430.7 520 1429Z" fill="#FFF6DA"/>
<path d="M635.7 1466.9 C635.5 1464.6 637.3 1461.3 638.9 1459.3 C640.4 1457.3 643.1 1455.3 645.2 1454.9 C647.3 1454.5 649.7 1455.4 651.5 1456.8 C653.3 1458.2 655.1 1461 655.9 1463.1 C656.8 1465.2 657.1 1467.4 656.6 1469.4 C656 1471.4 654.4 1474.1 652.8 1475.1 C651.1 1476.2 648.5 1476.1 646.4 1475.7 C644.3 1475.4 641.9 1474.7 640.1 1473.2 C638.3 1471.7 635.9 1469.2 635.7 1466.9Z" fill="#FEC893" stroke="#1e1610" stroke-width="1.2100000000000002"/>
<path d="M1026.7 918.5 C1027.3 920 1029.2 924.2 1030.5 927.4 C1031.7 930.5 1032.6 934.5 1034.3 937.5 C1035.9 940.4 1038.5 943 1040.6 945.1 C1042.7 947.2 1045.2 948.2 1046.9 950.1 C1048.6 952 1049.4 954.3 1050.7 956.4 C1052 958.5 1052.8 961.2 1054.5 962.8 C1056.2 964.3 1058.5 965.5 1060.8 965.9 C1063.1 966.3 1065.9 966.2 1068.4 965.3 C1070.9 964.3 1073.4 962.3 1076 960.2 C1078.5 958.1 1081 955.4 1083.6 952.6 C1086.1 949.9 1088.8 946.1 1091.2 943.8 C1093.5 941.5 1094.9 939.9 1097.5 938.7 C1100 937.6 1103.2 936.9 1106.3 936.8 C1109.5 936.7 1112.4 937.5 1116.4 938.1 C1120.4 938.7 1128 940.2 1130.3 940.6" fill="none" stroke="#1e1610" stroke-width="1.2100000000000002"/>
<path d="M1017.2 931.2 C1018.1 932.4 1020.7 936 1022.9 938.7 C1025.1 941.5 1027.9 944.8 1030.5 947.6 C1033 950.3 1036.3 952.6 1038 955.2 C1039.8 957.7 1040.7 960.2 1041.2 962.8 C1041.7 965.3 1041.3 967.6 1041.2 970.3 C1041.1 973.1 1041.1 976.7 1040.6 979.2 C1040 981.7 1039.1 984 1038 985.5 C1037 987 1035.9 986.8 1034.3 988 C1032.6 989.3 1029.4 991 1027.9 993.1 C1026.5 995.2 1026 997.3 1025.4 1000.7 C1024.8 1004.1 1024.1 1008.4 1024.1 1013.3 C1024.1 1018.2 1025.2 1027.2 1025.4 1030" fill="none" stroke="#1e1610" stroke-width="1.2100000000000002"/>
<path d="M1041.2 970.3 C1042.8 970.5 1047.4 970.9 1050.7 971 C1054 971.1 1057.2 971.1 1060.8 971 C1064.4 970.9 1068.4 970.9 1072.2 970.3 C1076 969.8 1079.8 968.9 1083.6 967.8 C1087.4 966.8 1090.7 964.8 1094.9 964 C1099.2 963.3 1106.5 963.5 1108.9 963.4" fill="none" stroke="#1e1610" stroke-width="1.4300000000000002"/>
<path d="M1096.2 979.2 C1091.2 979.2 1073.2 979.2 1065.9 979.2 C1058.5 979.2 1054.3 977.7 1052 979.2 C1049.6 980.7 1051.7 985.3 1052 988 C1052.2 990.8 1053.6 993.3 1053.2 995.6 C1052.8 998 1051.1 1000.1 1049.4 1002 C1047.7 1003.9 1044.8 1005.1 1043.1 1007 C1041.4 1008.9 1039.9 1011 1039.3 1013.3 C1038.7 1015.7 1038.7 1018.6 1039.3 1020.9 C1039.9 1023.2 1041.2 1025.3 1043.1 1027.2 C1045 1029.1 1049.4 1031.5 1050.7 1032.3" fill="none" stroke="#1e1610" stroke-width="1.2100000000000002"/>
<path d="M1041.2 970.3 C1039.8 969.9 1036 968.6 1033 967.8 C1029.9 967.1 1026 966.1 1022.9 965.9 C1019.7 965.7 1016.3 965.8 1014 966.6 C1011.7 967.3 1010 968.4 1009 970.3 C1007.9 972.2 1007.5 975.4 1007.7 977.9 C1007.9 980.5 1009.4 983 1010.2 985.5 C1011.1 988 1012.5 990.8 1012.8 993.1 C1013 995.4 1012.3 998 1011.5 999.4 C1010.7 1000.9 1009.2 1002 1007.7 1002 C1006.2 1002 1004.3 1000.7 1002.6 999.4 C1001 998.2 999.7 995.8 997.6 994.4 C995.5 992.9 991.3 991.2 990 990.6" fill="none" stroke="#1e1610" stroke-width="1.2100000000000002"/>
<path d="M1115.2 854 C1116.2 855.1 1119.4 858.4 1121.5 860.3 C1123.6 862.2 1125.7 863.7 1127.8 865.4 C1129.9 867.1 1131.4 869 1134.1 870.5 C1136.9 871.9 1140.9 872.9 1144.3 874.3 C1147.6 875.6 1151 877.8 1154.4 878.7 C1157.7 879.5 1161.7 880.3 1164.5 879.3 C1167.2 878.4 1169 875.3 1170.8 873 C1172.6 870.7 1174.5 866.7 1175.2 865.4" fill="none" stroke="#1e1610" stroke-width="1.2100000000000002"/>
<path d="M1017.8 977.9 C1017.7 976.9 1018.8 975.7 1019.7 975.2 C1020.6 974.6 1022.2 974.4 1023.1 974.8 C1024.1 975.1 1025.3 976.3 1025.4 977.3 C1025.5 978.3 1024.7 980 1023.9 980.7 C1023 981.4 1021.4 981.9 1020.3 981.5 C1019.3 981 1017.9 979 1017.8 977.9Z" fill="none" stroke="#1e1610" stroke-width="1.32"/>
<path d="M940.7 998 C941.7 999.3 945.3 1002.7 947 1005.6 C948.7 1008.6 950.1 1012.4 950.8 1015.7 C951.5 1019.1 951.6 1022.5 951.4 1025.9 C951.2 1029.2 950.7 1033 949.5 1036 C948.4 1038.9 946.8 1041.6 944.5 1043.6 C942.2 1045.6 938.6 1046.8 935.6 1048 C932.7 1049.1 929.7 1049.6 926.8 1050.5 C923.8 1051.5 920.2 1052.3 917.9 1053.7 C915.6 1055 914.6 1056.6 912.9 1058.7 C911.2 1060.8 909.5 1063.6 907.8 1066.3 C906.1 1069.1 904.7 1072.2 902.8 1075.2 C900.9 1078.1 898.1 1080.9 896.4 1084 C894.8 1087.2 892.9 1090.6 892.6 1094.1 C892.4 1097.7 894.1 1102.1 895.2 1105.5 C896.2 1108.9 897.3 1112.3 899 1114.4 C900.7 1116.5 903.5 1116.7 905.3 1118.2 C907.1 1119.6 909.1 1121.3 909.7 1123.2 C910.3 1125.1 908.8 1127.6 909.1 1129.5 C909.4 1131.4 909.7 1134.2 911.6 1134.6 C913.5 1135 918.1 1133.3 920.5 1132.1 C922.8 1130.8 924.9 1129.1 925.5 1127 C926.1 1124.9 924.3 1122.4 924.3 1119.4 C924.3 1116.5 924.7 1112.7 925.5 1109.3 C926.4 1105.9 927.6 1101.9 929.3 1099.2 C931 1096.5 933.3 1094.8 935.6 1092.9 C938 1091 941.1 1089.7 943.2 1087.8 C945.3 1085.9 947.1 1084.2 948.3 1081.5 C949.4 1078.8 950.1 1074.8 950.2 1071.4 C950.3 1068 949.2 1064.6 948.9 1061.3 C948.6 1057.9 947.1 1053.5 948.3 1051.2 C949.4 1048.8 952.9 1048 955.9 1047.4 C958.8 1046.7 962.8 1046.9 966 1047.4 C969.1 1047.8 972.3 1048.6 974.8 1049.9 C977.4 1051.2 980.3 1052.8 981.2 1054.9 C982 1057.1 980.3 1060 979.9 1062.5 C979.5 1065.1 978.4 1068.4 978.6 1070.1 C978.8 1071.8 979.9 1073.1 981.2 1072.6 C982.4 1072.2 984.1 1068.9 986.2 1067.6 C988.3 1066.3 991.7 1066.1 993.8 1065.1 C995.9 1064 998.6 1062.7 998.9 1061.3 C999.1 1059.8 996.1 1058.3 995.1 1056.2 C994 1054.1 993.4 1051.6 992.5 1048.6 C991.7 1045.7 990.8 1041.9 990 1038.5 C989.2 1035.1 987.9 1031.8 987.5 1028.4 C987.1 1025 988.1 1021 987.5 1018.3 C986.8 1015.5 985.4 1013.9 983.7 1012 C982 1010.1 978.7 1009 977.4 1006.9 C976 1004.8 975.3 1001.7 975.5 999.3 C975.7 996.9 976.8 993.9 978.6 992.4 C980.4 990.8 983.7 989.9 986.2 989.8 C988.7 989.7 991.5 990.4 993.8 991.7 C996.1 993.1 998.2 996.4 1000.1 998 C1002 999.7 1003.3 1001.8 1005.2 1001.8 C1007.1 1001.8 1010 999.9 1011.5 998 C1013 996.1 1014.2 993 1014 990.5 C1013.8 987.9 1011.1 985.4 1010.2 982.9 C1009.4 980.3 1009 977.6 1009 975.3 C1009 973 1008.8 970.5 1010.2 969 C1011.7 967.4 1015.1 966 1017.8 965.8 C1020.6 965.6 1023.7 967 1026.7 967.7 C1029.6 968.4 1033.1 969.8 1035.5 970.2 C1037.9 970.7 1040.3 970.2 1041.2 970.2" fill="none" stroke="#1e1610" stroke-width="1.2100000000000002"/>
<path d="M1041.2 970.2 C1041.1 971.1 1041.1 973.2 1040.6 975.3 C1040 977.4 1039.5 980.6 1038 982.9 C1036.6 985.2 1033.6 987.1 1031.7 989.2 C1029.8 991.3 1027.8 992.8 1026.7 995.5 C1025.5 998.3 1025.2 1001.8 1024.8 1005.6 C1024.4 1009.4 1024.1 1014.1 1024.1 1018.3 C1024.1 1022.5 1024.4 1027.3 1024.8 1030.9 C1025.2 1034.5 1025.5 1037.6 1026.7 1039.8 C1027.8 1042 1030.9 1043.5 1031.7 1044.2" fill="none" stroke="#1e1610" stroke-width="1.2100000000000002"/>
<path d="M1094.9 979.1 C1090.7 979.1 1076.4 979.1 1069.7 979.1 C1062.9 979.1 1057.2 977.6 1054.5 979.1 C1051.7 980.6 1054.1 984.8 1053.2 987.9 C1052.4 991.1 1051.1 995.1 1049.4 998 C1047.7 1001 1044.9 1003.1 1043.1 1005.6 C1041.3 1008.2 1039.1 1010.7 1038.7 1013.2 C1038.3 1015.7 1039.2 1018.7 1040.6 1020.8 C1041.9 1022.9 1044.6 1024 1046.9 1025.9 C1049.2 1027.8 1053.2 1031.1 1054.5 1032.2" fill="none" stroke="#1e1610" stroke-width="1.2100000000000002"/>
<path d="M1041.8 970.2 C1044.4 970.2 1051.3 970.7 1057 970.2 C1062.7 969.8 1068.8 969 1076 967.7 C1083.1 966.4 1096 963.5 1100 962.6" fill="none" stroke="#1e1610" stroke-width="1.4300000000000002"/>
<path d="M1050.7 957.6 C1051.7 958.4 1054.3 961.4 1057 962.6 C1059.8 963.9 1063.8 965.2 1067.1 965.2 C1070.5 965.2 1073.9 964.1 1077.2 962.6 C1080.6 961.2 1084.4 958.4 1087.4 956.3 C1090.3 954.2 1093.7 951.1 1094.9 950" fill="none" stroke="#1e1610" stroke-width="1.2100000000000002"/>
<path d="M946 1112.7 C946.2 1111.1 946.6 1108.7 947.8 1107.4 C949 1106 950.9 1105.2 953.1 1104.7 C955.3 1104.2 958.4 1104.1 961.1 1104.3 C963.7 1104.4 967 1104.8 969 1105.6 C971.1 1106.4 973.2 1107.8 973.5 1109.1 C973.8 1110.5 972.1 1112.4 970.8 1113.6 C969.5 1114.7 967.6 1115.5 965.5 1116.2 C963.4 1117 960.8 1117.4 958.4 1118 C956.1 1118.6 953.3 1119.9 951.3 1119.8 C949.4 1119.6 947.8 1118.3 946.9 1117.1 C946 1115.9 945.9 1114.3 946 1112.7Z" fill="none" stroke="#1e1610" stroke-width="0.9900000000000001"/>
<path d="M937.1 1113.4 C937.4 1110.6 938.1 1106.6 940.2 1104.3 C942.2 1102 945.5 1100.6 949.3 1099.7 C953.1 1098.9 958.4 1098.7 962.9 1099 C967.5 1099.2 973 1099.9 976.6 1101.3 C980.1 1102.6 983.7 1105 984.2 1107.3 C984.7 1109.6 981.9 1112.9 979.6 1114.9 C977.3 1116.9 974 1118.2 970.5 1119.5 C967 1120.7 962.4 1121.5 958.4 1122.5 C954.3 1123.5 949.5 1125.8 946.2 1125.5 C942.9 1125.3 940.2 1123 938.6 1121 C937.1 1119 936.9 1116.2 937.1 1113.4Z" fill="none" stroke="#1e1610" stroke-width="0.9900000000000001"/>
<path d="M990 1073.9 C989.6 1074.5 987.7 1076.4 987.5 1077.7 C987.3 1079 988.1 1080.4 988.7 1081.5 C989.4 1082.5 990.8 1083.6 991.3 1084" fill="none" stroke="#1e1610" stroke-width="1.2100000000000002"/>
<path d="M1017.8 978.4 C1017.8 977.4 1018.8 975.8 1019.7 975.3 C1020.7 974.8 1022.6 974.8 1023.5 975.3 C1024.5 975.8 1025.4 977.4 1025.4 978.4 C1025.4 979.5 1024.5 981.1 1023.5 981.6 C1022.6 982.1 1020.7 982.1 1019.7 981.6 C1018.8 981.1 1017.8 979.5 1017.8 978.4Z" fill="none" stroke="#1e1610" stroke-width="1.32"/>
<path d="M866.2 1096.4 C866.8 1097.9 869.6 1101.7 870 1105.3 C870.4 1108.9 869.2 1113.7 868.7 1117.9 C868.3 1122.1 867.6 1126.4 867.5 1130.6 C867.4 1134.8 868.5 1139.4 868.1 1143.2 C867.7 1147 866.5 1150.6 864.9 1153.3 C863.4 1156.1 861.4 1157.9 858.6 1159.7 C855.9 1161.4 852.3 1162.8 848.5 1164.1 C844.7 1165.3 840.1 1166.3 835.9 1167.2 C831.6 1168.2 827.4 1168.5 823.2 1169.8 C819 1171 814.8 1173.1 810.6 1174.8 C806.4 1176.5 801.7 1178 797.9 1179.9 C794.1 1181.8 790 1183.9 787.8 1186.2 C785.6 1188.5 785.3 1191.3 784.7 1193.8 C784 1196.3 784.6 1198.9 784 1201.4 C783.5 1203.9 782.8 1206.6 781.5 1209 C780.2 1211.3 778.5 1213.6 776.4 1215.3 C774.3 1217 771.6 1218.2 768.9 1219.1 C766.1 1219.9 761.5 1220.1 760 1220.3" fill="none" stroke="#1e1610" stroke-width="1.2100000000000002"/>
<path d="M848.5 1119.2 C848.5 1121.1 848.1 1127.8 848.5 1130.6 C848.9 1133.3 850.2 1134.2 851 1135.6 C851.9 1137.1 853.6 1137.7 853.6 1139.4 C853.6 1141.1 852.3 1143.9 851 1145.7 C849.8 1147.6 848.1 1149.5 846 1150.8 C843.9 1152.1 841.3 1152.5 838.4 1153.3 C835.4 1154.2 831.4 1155.2 828.3 1155.9 C825.1 1156.5 820.9 1156.9 819.4 1157.1" fill="none" stroke="#1e1610" stroke-width="1.2100000000000002"/>
<path d="M906.7 1158.4 C906.5 1157.1 905.2 1153.1 905.4 1150.8 C905.6 1148.5 906.9 1146 907.9 1144.5 C909 1143 911.1 1142.4 911.7 1142" fill="none" stroke="#1e1610" stroke-width="1.2100000000000002"/>
<path d="M867.5 1258.3 C866.2 1258.7 861.9 1259.3 859.9 1260.8 C857.9 1262.3 856.4 1264.8 855.5 1267.1 C854.5 1269.4 854.4 1273.5 854.2 1274.7" fill="none" stroke="#1e1610" stroke-width="1.2100000000000002"/>
<path d="M760 1229.2 C761.3 1228.8 764.6 1227.3 767.6 1226.7 C770.5 1226 774.8 1223.7 777.7 1225.4 C780.7 1227.1 784.7 1233.8 785.3 1236.8 C785.9 1239.7 783.6 1241.6 781.5 1243.1 C779.4 1244.6 775.4 1245.4 772.6 1245.6 C769.9 1245.8 766.3 1244.6 765.1 1244.4" fill="none" stroke="#1e1610" stroke-width="1.2100000000000002"/>
<path d="M772.6 1280 C772.9 1278.3 772.9 1272.6 773.9 1269.7 C775 1266.7 777.3 1263.3 779 1262.1 C780.7 1260.8 783 1261 784 1262.1 C785.1 1263.1 786.1 1266.7 785.3 1268.4 C784.4 1270.1 781.9 1271.3 779 1272.2 C776 1273 770.7 1273.5 767.6 1273.5 C764.4 1273.5 761.3 1272.4 760 1272.2" fill="none" stroke="#1e1610" stroke-width="1.2100000000000002"/>
<path d="M704.5 1251.8 C706 1252.5 711 1253.7 713.3 1255.6 C715.7 1257.5 716.9 1260.5 718.4 1263.2 C719.9 1266 721.3 1269.1 722.2 1272.1 C723 1275 724.1 1278.2 723.4 1280.9 C722.8 1283.7 720.5 1286 718.4 1288.5 C716.3 1291 713.8 1293.8 710.8 1296.1 C707.9 1298.4 702.4 1301.4 700.7 1302.4" fill="none" stroke="#1e1610" stroke-width="1.2100000000000002"/>
<path d="M746.2 1321.4 C746.6 1320.1 748.7 1316.7 748.7 1313.8 C748.7 1310.8 747.3 1306.6 746.2 1303.7 C745.2 1300.7 744.1 1298.6 742.4 1296.1 C740.7 1293.6 738 1291 736.1 1288.5 C734.2 1286 731.9 1283.4 731 1280.9 C730.2 1278.4 730.4 1276.1 731 1273.3 C731.7 1270.6 733.8 1267.6 734.8 1264.5 C735.9 1261.3 737.1 1257.5 737.4 1254.4 C737.6 1251.2 737.1 1248 736.1 1245.5 C735 1243 733.4 1240.5 731 1239.2 C728.7 1237.9 724.7 1237.5 722.2 1237.9 C719.7 1238.4 716.9 1241.1 715.9 1241.7" fill="none" stroke="#1e1610" stroke-width="1.2100000000000002"/>
<path d="M727.2 1229.7 C729.3 1229.8 736.3 1229.7 739.9 1230.3 C743.5 1231 746.2 1232 748.7 1233.5 C751.3 1235 754 1238.2 755.1 1239.2" fill="none" stroke="#1e1610" stroke-width="1.2100000000000002"/>
<path d="M761.4 1294.8 C761.1 1296.7 762 1299.5 763.3 1301.2 C764.5 1302.8 766.8 1304.5 769 1304.9 C771.2 1305.4 774.7 1304.7 776.6 1303.7 C778.4 1302.6 780.1 1300.7 780.3 1298.6 C780.6 1296.5 779.3 1292.7 777.8 1291 C776.3 1289.3 773.6 1288.7 771.5 1288.5 C769.4 1288.3 766.9 1288.7 765.2 1289.8 C763.5 1290.8 761.7 1292.9 761.4 1294.8Z" fill="none" stroke="#1e1610" stroke-width="1.2100000000000002"/>
<path d="M789.2 1307.5 C789 1308.5 786.9 1311.9 787.9 1313.8 C789 1315.7 793.4 1317 795.5 1318.9 C797.6 1320.7 799.7 1324.1 800.6 1325.2" fill="none" stroke="#1e1610" stroke-width="1.2100000000000002"/>
<path d="M760.1 1326.4 C761.6 1326.6 765.8 1326.9 769 1327.7 C772.1 1328.5 775.9 1330.4 779.1 1331.5 C782.2 1332.5 786.5 1333.6 787.9 1334" fill="none" stroke="#1e1610" stroke-width="1.2100000000000002"/>
<path d="M687.3 1381.8 C688.4 1379.3 692 1375.8 694.8 1374.2 C697.7 1372.7 702 1371.4 704.3 1372.3 C706.7 1373.3 709.1 1377.1 709.1 1379.9 C709.1 1382.8 706.7 1387.2 704.3 1389.4 C702 1391.6 697.5 1393.2 694.8 1393.2 C692.2 1393.2 689.5 1391.3 688.2 1389.4 C686.9 1387.5 686.2 1384.4 687.3 1381.8Z" fill="none" stroke="#1e1610" stroke-width="0.9900000000000001"/>
<path d="M702.1 1300 C700.8 1300.8 696.2 1303 694.5 1305.1 C692.8 1307.2 692 1309.7 692 1312.6 C692 1315.6 693.4 1319.4 694.5 1322.8 C695.5 1326.1 697.9 1329.5 698.3 1332.9 C698.7 1336.2 698.1 1339.6 697 1343 C696 1346.4 694.1 1349.9 692 1353.1 C689.8 1356.3 687.3 1359.2 684.4 1362 C681.4 1364.7 677.8 1367.2 674.3 1369.5 C670.7 1371.9 666.5 1373.3 662.9 1375.9 C659.3 1378.4 655.5 1381.3 652.8 1384.7 C650 1388.1 647.8 1392.5 646.4 1396.1 C645.1 1399.7 644.5 1402.8 644.5 1406.2 C644.5 1409.6 645.1 1413.4 646.4 1416.3 C647.8 1419.3 650.2 1422 652.8 1423.9 C655.3 1425.8 658.4 1427.3 661.6 1427.7 C664.8 1428.1 668.4 1427.7 671.7 1426.4 C675.1 1425.2 678.9 1422.6 681.8 1420.1 C684.8 1417.6 686.9 1414.4 689.4 1411.3 C692 1408.1 694.5 1404.3 697 1401.2 C699.5 1398 702.3 1394.8 704.6 1392.3 C706.9 1389.8 709.2 1387.9 710.9 1386 C712.6 1384.1 714.3 1383 714.7 1380.9 C715.1 1378.8 713 1376.3 713.5 1373.3 C713.9 1370.4 715.8 1366.2 717.2 1363.2 C718.7 1360.3 720.2 1357.3 722.3 1355.6 C724.4 1353.9 727.8 1353.9 729.9 1353.1 C732 1352.3 734.5 1352.3 734.9 1350.6 C735.4 1348.9 733.5 1345.5 732.4 1343 C731.4 1340.5 729 1338.4 728.6 1335.4 C728.2 1332.5 728.8 1328 729.9 1325.3 C730.9 1322.5 732.8 1320.7 734.9 1319 C737.1 1317.3 741.3 1315.8 742.5 1315.2" fill="none" stroke="#1e1610" stroke-width="1.2100000000000002"/>
<path d="M664.1 1303.8 C663.7 1304.8 663.3 1308.2 661.6 1310.1 C659.9 1312 655.9 1313.1 654 1315.2 C652.1 1317.3 651.5 1320.2 650.2 1322.8 C649 1325.3 648.5 1328 646.4 1330.3 C644.3 1332.7 640.7 1335.2 637.6 1336.7 C634.4 1338.1 630.8 1338.2 627.5 1339.2 C624.1 1340.1 619 1341.8 617.4 1342.4" fill="none" stroke="#1e1610" stroke-width="1.2100000000000002"/>
<path d="M608.5 1350.6 C608.3 1352.3 606.8 1357.3 607.2 1360.7 C607.7 1364.1 610.3 1367.9 611 1370.8 C611.8 1373.8 612.3 1376.3 611.7 1378.4 C611 1380.5 608 1382.6 607.2 1383.4" fill="none" stroke="#1e1610" stroke-width="1.2100000000000002"/>
<path d="M532 1424.5 C533 1423.4 535.7 1419.8 537.7 1417.6 C539.7 1415.4 541.9 1412.4 544 1411.3 C546.1 1410.1 548.7 1409.8 550.3 1410.6 C552 1411.5 552.9 1413.7 554.1 1416.3 C555.4 1419 556.5 1423.3 557.9 1426.4 C559.4 1429.6 561.1 1433 563 1435.3 C564.9 1437.6 567 1439.7 569.3 1440.3 C571.6 1441 574.6 1440.1 576.9 1439.1 C579.2 1438 581.1 1435.3 583.2 1434 C585.3 1432.8 587.7 1431.3 589.5 1431.5 C591.3 1431.7 593.1 1433.4 594 1435.3 C594.8 1437.2 595.1 1440.6 594.6 1442.9 C594.1 1445.2 592.3 1447.7 590.8 1449.2 C589.3 1450.7 586.6 1451.3 585.7 1451.7" fill="none" stroke="#1e1610" stroke-width="1.2100000000000002"/>
<path d="M664.8 1479.5 C665.9 1478.5 669.3 1475.3 671.7 1473.2 C674.1 1471.1 676.8 1468.8 679.3 1466.9 C681.8 1465 684.2 1462.9 686.9 1461.8 C689.6 1460.8 694.3 1460.8 695.7 1460.6" fill="none" stroke="#1e1610" stroke-width="1.2100000000000002"/>
<path d="M722.3 1413.8 C723.4 1413.4 725.7 1412.1 728.6 1411.3 C731.6 1410.4 738.1 1409.2 740 1408.7" fill="none" stroke="#1e1610" stroke-width="1.2100000000000002"/>
<path d="M723.6 1404.9 C725 1404.3 729.7 1402 732.4 1401.2 C735.2 1400.3 738.7 1400.1 740 1399.9" fill="none" stroke="#1e1610" stroke-width="1.2100000000000002"/>
</g>
<text x="1137.9" y="867.3" font-size="10.4" fill="#2a1a10" text-anchor="middle" dominant-baseline="central" transform="rotate(35 1137.9 867.3)">0.5</text>
<text x="1044.4" y="945.1" font-size="10.4" fill="#2a1a10" text-anchor="middle" dominant-baseline="central" transform="rotate(62 1044.4 945.1)">1.0</text>
<text x="993.8" y="966.6" font-size="9.5" fill="#2a1a10" text-anchor="middle" dominant-baseline="central" transform="rotate(30 993.8 966.6)">2.0</text>
<text x="1039.3" y="979.2" font-size="8.5" fill="#2a1a10" text-anchor="middle" dominant-baseline="central" transform="rotate(70 1039.3 979.2)">1.5</text>
<text x="1015.3" y="990.6" font-size="8.5" fill="#2a1a10" text-anchor="middle" dominant-baseline="central" transform="rotate(70 1015.3 990.6)">1.5</text>
<text x="1030.5" y="990.6" font-size="8.5" fill="#2a1a10" text-anchor="middle" dominant-baseline="central" transform="rotate(40 1030.5 990.6)">1.0</text>
<text x="1054.5" y="983" font-size="9.5" fill="#2a1a10" text-anchor="middle" dominant-baseline="central" transform="rotate(60 1054.5 983)">2.0</text>
<text x="1046.9" y="993.1" font-size="8.5" fill="#2a1a10" text-anchor="middle" dominant-baseline="central" transform="rotate(60 1046.9 993.1)">2.0</text>
<text x="921.7" y="1048.6" font-size="11.4" fill="#2a1a10" text-anchor="middle" dominant-baseline="central" transform="rotate(-25 921.7 1048.6)">1.5</text>
<text x="967.2" y="1054.9" font-size="9.5" fill="#2a1a10" text-anchor="middle" dominant-baseline="central" transform="rotate(60 967.2 1054.9)">1.0</text>
<text x="960.9" y="1067.6" font-size="8.5" fill="#2a1a10" text-anchor="middle" dominant-baseline="central" transform="rotate(60 960.9 1067.6)">1.0</text>
<text x="954.6" y="1113.1" font-size="10.4" fill="#2a1a10" text-anchor="middle" dominant-baseline="central" transform="rotate(0 954.6 1113.1)">2.0</text>
<text x="972.3" y="1095.4" font-size="8.5" fill="#2a1a10" text-anchor="middle" dominant-baseline="central" transform="rotate(80 972.3 1095.4)">2.0</text>
<text x="928" y="1138.4" font-size="9.5" fill="#2a1a10" text-anchor="middle" dominant-baseline="central" transform="rotate(65 928 1138.4)">1.5</text>
<text x="940.7" y="1135.9" font-size="9.5" fill="#2a1a10" text-anchor="middle" dominant-baseline="central" transform="rotate(45 940.7 1135.9)">1.0</text>
<text x="850.4" y="1176.7" font-size="12.3" fill="#2a1a10" text-anchor="middle" dominant-baseline="central" transform="rotate(3 850.4 1176.7)">1.0</text>
<text x="845.3" y="1143.2" font-size="10.4" fill="#2a1a10" text-anchor="middle" dominant-baseline="central" transform="rotate(-50 845.3 1143.2)">2.0</text>
<text x="780.2" y="1205.2" font-size="10.4" fill="#2a1a10" text-anchor="middle" dominant-baseline="central" transform="rotate(-60 780.2 1205.2)">1.5</text>
<text x="923.1" y="1139.4" font-size="10.4" fill="#2a1a10" text-anchor="middle" dominant-baseline="central" transform="rotate(20 923.1 1139.4)">1.5</text>
<text x="911.7" y="1145.7" font-size="9.5" fill="#2a1a10" text-anchor="middle" dominant-baseline="central" transform="rotate(-60 911.7 1145.7)">1.0</text>
<text x="940.8" y="1135.6" font-size="9.5" fill="#2a1a10" text-anchor="middle" dominant-baseline="central" transform="rotate(45 940.8 1135.6)">1.0</text>
<text x="791.6" y="1231.7" font-size="8.5" fill="#2a1a10" text-anchor="middle" dominant-baseline="central" transform="rotate(70 791.6 1231.7)">1.5</text>
<text x="771.4" y="1239.3" font-size="9.5" fill="#2a1a10" text-anchor="middle" dominant-baseline="central" transform="rotate(60 771.4 1239.3)">1.0</text>
<text x="844.7" y="1246.9" font-size="8.5" fill="#2a1a10" text-anchor="middle" dominant-baseline="central" transform="rotate(70 844.7 1246.9)">1.0</text>
<text x="834.6" y="1257" font-size="8.5" fill="#2a1a10" text-anchor="middle" dominant-baseline="central" transform="rotate(30 834.6 1257)">1.5</text>
<text x="840.9" y="1216.6" font-size="8.5" fill="#2a1a10" text-anchor="middle" dominant-baseline="central" transform="rotate(-70 840.9 1216.6)">1.5</text>
<text x="852.3" y="1222.9" font-size="8.5" fill="#2a1a10" text-anchor="middle" dominant-baseline="central" transform="rotate(60 852.3 1222.9)">1.5</text>
<text x="762.5" y="1268.4" font-size="9.5" fill="#2a1a10" text-anchor="middle" dominant-baseline="central" transform="rotate(90 762.5 1268.4)">1.0</text>
<text x="756.3" y="1270.8" font-size="12.3" fill="#2a1a10" text-anchor="middle" dominant-baseline="central" transform="rotate(5 756.3 1270.8)">1.0</text>
<text x="766.4" y="1243" font-size="10.4" fill="#2a1a10" text-anchor="middle" dominant-baseline="central" transform="rotate(25 766.4 1243)">1.0</text>
<text x="717.1" y="1298.6" font-size="10.4" fill="#2a1a10" text-anchor="middle" dominant-baseline="central" transform="rotate(-40 717.1 1298.6)">2.0</text>
<text x="799.3" y="1311.3" font-size="10.4" fill="#2a1a10" text-anchor="middle" dominant-baseline="central" transform="rotate(20 799.3 1311.3)">1.5</text>
<text x="791.7" y="1234.1" font-size="8.5" fill="#2a1a10" text-anchor="middle" dominant-baseline="central" transform="rotate(60 791.7 1234.1)">1.5</text>
<text x="844.8" y="1248" font-size="8.5" fill="#2a1a10" text-anchor="middle" dominant-baseline="central" transform="rotate(60 844.8 1248)">1.0</text>
<text x="837.2" y="1258.2" font-size="8.5" fill="#2a1a10" text-anchor="middle" dominant-baseline="central" transform="rotate(10 837.2 1258.2)">1.5</text>
<text x="847.4" y="1216.4" font-size="8.5" fill="#2a1a10" text-anchor="middle" dominant-baseline="central" transform="rotate(60 847.4 1216.4)">1.5</text>
<text x="743.7" y="1336.6" font-size="8.5" fill="#2a1a10" text-anchor="middle" dominant-baseline="central" transform="rotate(50 743.7 1336.6)">1.0</text>
<text x="769" y="1345.4" font-size="8.5" fill="#2a1a10" text-anchor="middle" dominant-baseline="central" transform="rotate(10 769 1345.4)">2.0</text>
<text x="757.6" y="1351.7" font-size="8.5" fill="#2a1a10" text-anchor="middle" dominant-baseline="central" transform="rotate(10 757.6 1351.7)">1.5</text>
<text x="722.2" y="1363.1" font-size="8.5" fill="#2a1a10" text-anchor="middle" dominant-baseline="central" transform="rotate(40 722.2 1363.1)">1.0</text>
<text x="737.4" y="1366.9" font-size="8.5" fill="#2a1a10" text-anchor="middle" dominant-baseline="central" transform="rotate(50 737.4 1366.9)">1.5</text>
<text x="693.1" y="1377" font-size="8.5" fill="#2a1a10" text-anchor="middle" dominant-baseline="central" transform="rotate(40 693.1 1377)">2.5</text>
<text x="684.3" y="1380.8" font-size="8.5" fill="#2a1a10" text-anchor="middle" dominant-baseline="central" transform="rotate(60 684.3 1380.8)">2.0</text>
<text x="681.7" y="1270.8" font-size="8.5" fill="#2a1a10" text-anchor="middle" dominant-baseline="central" transform="rotate(60 681.7 1270.8)">2.0</text>
<text x="653.9" y="1316.3" font-size="8.5" fill="#2a1a10" text-anchor="middle" dominant-baseline="central" transform="rotate(70 653.9 1316.3)">1.0</text>
<text x="679.2" y="1283.4" font-size="8.5" fill="#2a1a10" text-anchor="middle" dominant-baseline="central" transform="rotate(70 679.2 1283.4)">1.5</text>
<text x="599" y="1380.9" font-size="12.3" fill="#2a1a10" text-anchor="middle" dominant-baseline="central" transform="rotate(180 599 1380.9)">1.0</text>
<text x="700.8" y="1422" font-size="11.4" fill="#2a1a10" text-anchor="middle" dominant-baseline="central" transform="rotate(135 700.8 1422)">1.0</text>
<text x="552.2" y="1424.5" font-size="11.4" fill="#2a1a10" text-anchor="middle" dominant-baseline="central" transform="rotate(60 552.2 1424.5)">1.0</text>
<text x="690.7" y="1377.1" font-size="8.5" fill="#2a1a10" text-anchor="middle" dominant-baseline="central" transform="rotate(20 690.7 1377.1)">2.0</text>
<text x="654" y="1315.2" font-size="8.5" fill="#2a1a10" text-anchor="middle" dominant-baseline="central" transform="rotate(60 654 1315.2)">1.0</text>
<text x="646.4" y="1326.6" font-size="8.5" fill="#2a1a10" text-anchor="middle" dominant-baseline="central" transform="rotate(60 646.4 1326.6)">1.0</text>
<text x="647.7" y="1456.8" font-size="8.5" fill="#2a1a10" text-anchor="middle" dominant-baseline="central" transform="rotate(30 647.7 1456.8)">1.5</text>
<text x="678" y="1468.2" font-size="8.5" fill="#2a1a10" text-anchor="middle" dominant-baseline="central" transform="rotate(-35 678 1468.2)">1.5</text>
<text x="727.4" y="1418.9" font-size="8.5" fill="#2a1a10" text-anchor="middle" dominant-baseline="central" transform="rotate(90 727.4 1418.9)">1.0</text>
<path d="M828.3 1128.7 L1062.1 885 L1049.4 875.5 L1073.4 862.9 L1120.2 852.5 L1174.9 850.2 L1177.1 867.9 L1181.9 898.3 L1119 959 L1115.4 948.2 L1091.2 970.3 L1044.4 1025.9 L1044.4 1030.9 L1031.7 1043.6 L982.4 1054.9 L967.2 1095.4 L912.2 1129.7Z" fill="none" stroke="#2a2af0" stroke-width="1.2" stroke-linejoin="miter"/>
<path d="M566.2 1445.4 L587 1439.7 L573.7 1415.1 L626.8 1365.7 L614.2 1354.4 L661.6 1300 L675.4 1283.5 L683 1274.6 L844.7 1195.7 L851.1 1237 L796.8 1292.3 L774 1317.6 L753.8 1344.1 L742.4 1374.5 L717.2 1383.5 L721 1423.9 L728.6 1423.3 L681.8 1488.4" fill="none" stroke="#2a2af0" stroke-width="1.2" stroke-linejoin="miter"/>
</g>
<rect x="879.5999999999999" y="1102.9" width="3.4" height="1.3" fill="#f0f"/>
<rect x="870.3" y="1113.2" width="3.4" height="1.3" fill="#f0f"/>
<rect x="841.5" y="1135.2" width="3.4" height="1.3" fill="#f0f"/>
<rect x="955.9" y="1085.1000000000001" width="3.4" height="1.3" fill="#f0f"/>
<rect x="632.6999999999999" y="1364.9" width="3.4" height="1.3" fill="#f0f"/>
<rect x="878.8" y="1103.2" width="3.4" height="1.3" fill="#f0f"/>
<rect x="1285.5" y="328.29999999999995" width="3.4" height="1.3" fill="#f0f"/>
<rect x="546.4" y="403.3" width="65.3" height="36.7" fill="#fff" stroke="#666" stroke-width="1.4"/>
<path d="M562.7 438.6 L587.2 410.2 L590.1 408.2 L601.9 407.2 L603 412.4 L600.4 416.4 L596 418 L593.9 420.9 L592.1 421.9 L588.4 426.4 L586.2 427.8 L580.9 429.4 L579.3 430.7 L576.9 435.4 L573.4 438.6Z" fill="none" stroke="#2a2af0" stroke-width="1.1" stroke-linejoin="miter"/>
<text x="582.1" y="462.5" font-size="17" text-anchor="middle" fill="#3a3030">Mining Rights</text>
<rect x="546.4" y="477.2" width="65.3" height="36.3" fill="#fff" stroke="#666" stroke-width="1.4"/>
<path d="M560.7 510.5 C562.3 508.7 567.6 503.1 570.5 499.7 C573.4 496.3 575.4 492.5 578.3 489.9 C581.2 487.3 583.9 485.7 588.1 484.1 C592.4 482.5 601.2 481.1 603.8 480.5" fill="none" stroke="#333" stroke-width="0.9900000000000001"/>
<text x="577.4" y="493.7" font-size="9" font-weight="bold" fill="#555" text-anchor="middle" transform="rotate(-52 577.4 493.7)">2.0</text>
<circle cx="580.4" cy="487.2" r="2.2" fill="none" stroke="#555" stroke-width="0.8"/><circle cx="573.4" cy="496.2" r="2" fill="none" stroke="#555" stroke-width="0.8"/>
<text x="585.8" y="534" font-size="17" text-anchor="middle" fill="#3a3030">Thickness Contour</text>
<rect x="546.4" y="545.8" width="65.3" height="36.2" fill="#FFF6DA" stroke="#6a5a4e" stroke-width="1.4"/>
<text x="576" y="604.6" font-size="22" text-anchor="middle" fill="#222">&lt;1.0m</text>
<rect x="546.4" y="618.3" width="65.3" height="36.7" fill="#FEE2BA" stroke="#6a5a4e" stroke-width="1.4"/>
<text x="578.9" y="678" font-size="22" text-anchor="middle" fill="#222">1.0-1.5m</text>
<rect x="678.9" y="402.1" width="65.1" height="36.5" fill="#FEC893" stroke="#6a5a4e" stroke-width="1.4"/>
<text x="713.9" y="461" font-size="22" text-anchor="middle" fill="#222">1.5-2.0m</text>
<rect x="676.4" y="473.9" width="64.6" height="36.4" fill="#FDBA78" stroke="#6a5a4e" stroke-width="1.4"/>
<text x="710.9" y="533.4" font-size="22" text-anchor="middle" fill="#222">2.0-2.5m</text>
<rect x="678.9" y="545.8" width="64.7" height="35.2" fill="#FDAE62" stroke="#6a5a4e" stroke-width="1.4"/>
<text x="714.9" y="603.6" font-size="22" text-anchor="middle" fill="#222">2.5-3.0m</text>
<rect x="677" y="621.6" width="64.6" height="35.9" fill="#FD9A36" stroke="#6a5a4e" stroke-width="1.4"/>
<text x="706" y="680.6" font-size="22" text-anchor="middle" fill="#222">&gt;3.0m</text>
<rect x="1448.4" y="358.2" width="64.9" height="35.7" fill="#fff" stroke="#666" stroke-width="1.4"/>
<path d="M1464.7 393.5 L1489.2 365.1 L1492.1 363.1 L1503.9 362.1 L1505 367.3 L1502.4 371.3 L1498 372.9 L1495.9 375.8 L1494.1 376.8 L1490.4 381.3 L1488.2 382.7 L1482.9 384.3 L1481.3 385.6 L1478.9 390.3 L1475.4 393.5Z" fill="none" stroke="#2a2af0" stroke-width="1.1" stroke-linejoin="miter"/>
<text x="1483.5" y="417" font-size="17" text-anchor="middle" fill="#3a3030">Mining Rights</text>
<rect x="1448.4" y="431.5" width="64.9" height="35.3" fill="#fff" stroke="#666" stroke-width="1.4"/>
<path d="M1462.7 464.8 C1464.3 463 1469.6 457.4 1472.5 454 C1475.4 450.6 1477.4 446.8 1480.3 444.2 C1483.2 441.6 1485.9 440 1490.1 438.4 C1494.4 436.8 1503.2 435.4 1505.8 434.8" fill="none" stroke="#333" stroke-width="0.9900000000000001"/>
<text x="1479.4" y="448" font-size="9" font-weight="bold" fill="#555" text-anchor="middle" transform="rotate(-52 1479.4 448)">2.0</text>
<circle cx="1482.4" cy="441.5" r="2.2" fill="none" stroke="#555" stroke-width="0.8"/><circle cx="1475.4" cy="450.5" r="2" fill="none" stroke="#555" stroke-width="0.8"/>
<text x="1486.2" y="487" font-size="17" text-anchor="middle" fill="#3a3030">Thickness Contour</text>
<rect x="1448.4" y="499.7" width="64.9" height="35.7" fill="#FFF6DA" stroke="#3a3028" stroke-width="1.4"/>
<text x="1477.4" y="558.1" font-size="22" text-anchor="middle" fill="#222">&lt;1.0m</text>
<rect x="1448.4" y="572.6" width="64.9" height="34.9" fill="#FEE2BA" stroke="#3a3028" stroke-width="1.4"/>
<text x="1479.7" y="630" font-size="22" text-anchor="middle" fill="#222">1.0-1.5m</text>
<rect x="1579.9" y="357.2" width="64.1" height="36.1" fill="#FEC893" stroke="#3a3028" stroke-width="1.4"/>
<text x="1614.1" y="416" font-size="22" text-anchor="middle" fill="#222">1.5-2.0m</text>
<rect x="1577" y="428.6" width="64.4" height="35.8" fill="#FDBA78" stroke="#3a3028" stroke-width="1.4"/>
<text x="1611.1" y="487.4" font-size="22" text-anchor="middle" fill="#222">2.0-2.5m</text>
<rect x="1578.7" y="499.1" width="64.9" height="35.9" fill="#FDAE62" stroke="#3a3028" stroke-width="1.4"/>
<text x="1615.8" y="557.1" font-size="22" text-anchor="middle" fill="#222">2.5-3.0m</text>
<rect x="1577.3" y="574.6" width="65.3" height="35.8" fill="#FD9A36" stroke="#3a3028" stroke-width="1.4"/>
<text x="1606.5" y="633.4" font-size="22" text-anchor="middle" fill="#222">&gt;3.0m</text>
<rect x="1015.3" y="1180.6" width="63.8" height="35.6" fill="#fff" stroke="#666" stroke-width="1.4"/>
<path d="M1031.6 1215.9 L1056.1 1187.5 L1059 1185.5 L1070.8 1184.5 L1071.9 1189.7 L1069.3 1193.7 L1064.9 1195.3 L1062.8 1198.2 L1061 1199.2 L1057.3 1203.7 L1055.1 1205.1 L1049.8 1206.7 L1048.2 1208 L1045.8 1212.7 L1042.3 1215.9Z" fill="none" stroke="#2a2af0" stroke-width="1.1" stroke-linejoin="miter"/>
<text x="1049.2" y="1240" font-size="17" text-anchor="middle" fill="#3a3030">Mining Rights</text>
<rect x="1015.3" y="1253.7" width="63.8" height="35.2" fill="#fff" stroke="#666" stroke-width="1.4"/>
<path d="M1029.6 1287 C1031.2 1285.2 1036.5 1279.6 1039.4 1276.2 C1042.3 1272.8 1044.3 1269 1047.2 1266.4 C1050.1 1263.8 1052.8 1262.2 1057 1260.6 C1061.2 1259 1070.1 1257.6 1072.7 1257" fill="none" stroke="#333" stroke-width="0.9900000000000001"/>
<text x="1046.3" y="1270.2" font-size="9" font-weight="bold" fill="#555" text-anchor="middle" transform="rotate(-52 1046.3 1270.2)">2.0</text>
<circle cx="1049.3" cy="1263.7" r="2.2" fill="none" stroke="#555" stroke-width="0.8"/><circle cx="1042.3" cy="1272.7" r="2" fill="none" stroke="#555" stroke-width="0.8"/>
<text x="1052.6" y="1309.3" font-size="17" text-anchor="middle" fill="#3a3030">Thickness Contour</text>
<rect x="1015.3" y="1321.1" width="63.8" height="35.8" fill="#FFF6DA" stroke="#1c1612" stroke-width="1.5"/>
<text x="1043.6" y="1379.1" font-size="22" text-anchor="middle" fill="#222">&lt;1.0m</text>
<rect x="1015.3" y="1393.6" width="63.8" height="35.5" fill="#FEE2BA" stroke="#1c1612" stroke-width="1.5"/>
<text x="1046.5" y="1451" font-size="22" text-anchor="middle" fill="#222">1.0-1.5m</text>
<rect x="1145.2" y="1179.6" width="64.3" height="35.3" fill="#FEC893" stroke="#1c1612" stroke-width="1.5"/>
<text x="1180" y="1237.4" font-size="22" text-anchor="middle" fill="#222">1.5-2.0m</text>
<rect x="1142.6" y="1250.5" width="64.3" height="34.9" fill="#FDBA78" stroke="#1c1612" stroke-width="1.5"/>
<text x="1177.2" y="1307.4" font-size="22" text-anchor="middle" fill="#222">2.0-2.5m</text>
<rect x="1145.2" y="1320.7" width="64.3" height="35.3" fill="#FDAE62" stroke="#1c1612" stroke-width="1.5"/>
<text x="1181.4" y="1377.9" font-size="22" text-anchor="middle" fill="#222">2.5-3.0m</text>
<rect x="1144.2" y="1396.5" width="64.7" height="34.9" fill="#FD9A36" stroke="#1c1612" stroke-width="1.5"/>
<text x="1173.3" y="1453.4" font-size="22" text-anchor="middle" fill="#222">&gt;3.0m</text>
<text x="6.1" y="766" font-size="45" fill="#000" textLength="847" lengthAdjust="spacingAndGlyphs" xml:space="preserve">(a) Thickness contour map of No.16 coal seam</text>
<text x="898" y="766" font-size="45" fill="#000" textLength="850" lengthAdjust="spacingAndGlyphs" xml:space="preserve">(b) Thickness contour map of No.27 coal seam</text>
<text x="438" y="1571.6" font-size="45" fill="#000" textLength="834" lengthAdjust="spacingAndGlyphs" xml:space="preserve">(c)Thickness contour map of No.30 coal seam</text>
</svg>
</body></html>
